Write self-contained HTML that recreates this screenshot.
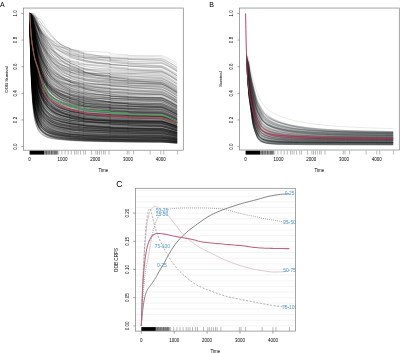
<!DOCTYPE html>
<html><head><meta charset="utf-8"><style>
html,body{margin:0;padding:0;background:#fff;width:400px;height:353px;overflow:hidden}
svg{display:block;will-change:transform}
text{font-family:"Liberation Sans",sans-serif}
</style></head><body>
<svg width="400" height="353" viewBox="0 0 400 353">
<rect width="400" height="353" fill="#fff"/>
<g stroke="#ececec" stroke-width="0.6">
<path d="M136 325.90H295"/>
<path d="M136 320.26H295"/>
<path d="M136 314.62H295"/>
<path d="M136 308.98H295"/>
<path d="M136 303.34H295"/>
<path d="M136 297.70H295"/>
<path d="M136 292.06H295"/>
<path d="M136 286.42H295"/>
<path d="M136 280.78H295"/>
<path d="M136 275.14H295"/>
<path d="M136 269.50H295"/>
<path d="M136 263.86H295"/>
<path d="M136 258.22H295"/>
<path d="M136 252.58H295"/>
<path d="M136 246.94H295"/>
<path d="M136 241.30H295"/>
<path d="M136 235.66H295"/>
<path d="M136 230.02H295"/>
<path d="M136 224.38H295"/>
<path d="M136 218.74H295"/>
<path d="M136 213.10H295"/>
<path d="M136 207.46H295"/>
<path d="M136 201.82H295"/>
<path d="M136 196.18H295"/>
<path d="M136 190.54H295"/>
</g>
<g fill="none" stroke="#000" stroke-width="5.5" stroke-opacity="0.29" transform="scale(.1)">
<path d="M296 134l5 186 5 185 6 190 9 164 8 113 10 94 11 76 12 53 16 50 16 34 23 31 27 24 32 20 36 15 46 12 50 9 49 6 42 4 0 1 23 1 66 4 16 1 33 1 0 1 49 1 82 2 82 2 50 1 32 1 82 1 66 1 16 0 82 1 82 1 82 1 73 1 26 1 33 2 32 3 33 2 33 3"/>
<path d="M296 134l5 187 5 192 6 197 9 170 8 114 10 93 11 72 12 49 16 47 16 31 23 30 27 23 32 19 36 13 46 12 50 8 49 5 42 3 0 1 23 1 66 4 16 1 33 1 0 1 49 1 82 2 82 2 50 1 0 1 32 0 82 2 66 1 16 0 82 1 82 1 82 1 73 0 26 2 33 2 32 2 33 3 33 2"/>
<path d="M296 134l5 221 5 218 6 210 9 168 8 108 10 85 11 65 12 43 16 41 16 27 23 24 27 17 32 14 36 9 46 8 50 5 49 4 42 3 23 1 66 4 16 0 33 2 49 1 82 3 82 1 50 1 0 1 32 0 82 1 66 1 16 1 82 0 82 1 82 0 73 1 26 1 33 2 32 2 33 3 33 2"/>
<path d="M296 134l5 229 5 224 6 211 9 165 8 103 10 80 11 62 12 43 16 41 16 27 23 25 27 18 32 13 36 9 46 8 50 5 49 4 42 3 0 1 23 1 66 3 16 1 33 1 0 1 49 1 82 3 82 1 50 1 32 0 82 1 66 1 16 0 82 0 82 0 82 1 73 0 26 1 33 2 32 2 33 3 33 2"/>
<path d="M296 134l5 186 5 192 6 198 9 170 8 115 10 94 11 72 12 49 16 47 16 31 23 28 27 21 32 18 36 12 46 11 50 8 49 6 42 4 23 2 66 4 16 1 33 2 49 2 82 3 82 2 50 1 32 1 82 1 66 1 16 1 82 1 82 0 82 1 73 1 26 1 33 2 32 3 33 2 33 3"/>
<path d="M296 134l5 143 5 168 6 188 9 175 8 125 10 105 11 85 12 57 16 55 16 36 23 33 27 24 32 20 36 15 46 12 50 10 49 6 42 5 23 2 66 4 0 1 16 1 33 1 49 2 82 2 82 2 50 1 32 0 82 1 66 1 16 0 82 1 82 0 82 1 73 0 26 2 33 2 32 3 33 2 33 3"/>
<path d="M296 134l5 172 5 177 6 185 9 163 8 113 10 94 11 77 12 54 16 54 16 36 23 34 27 25 32 20 36 15 46 13 50 9 49 7 42 5 23 3 66 5 16 1 33 2 0 1 49 3 82 3 82 2 50 1 0 1 32 1 82 1 66 1 16 0 82 1 82 1 82 0 73 1 26 1 33 3 32 3 33 2 33 3"/>
<path d="M296 134l5 193 5 211 6 215 9 178 8 115 10 89 11 66 12 42 16 40 16 27 23 25 27 18 32 15 36 11 46 9 50 6 49 4 42 3 23 1 66 3 16 1 33 1 49 1 82 2 82 2 50 1 0 1 32 0 82 2 66 0 0 1 16 0 82 1 82 0 82 1 73 0 26 2 33 2 32 2 33 3 33 2"/>
<path d="M296 134l5 175 5 184 6 193 9 168 8 114 10 92 11 72 12 50 16 49 16 34 23 33 27 25 32 21 36 16 46 13 50 9 49 6 42 4 0 1 23 1 66 4 16 1 33 1 0 1 49 1 82 3 82 2 50 1 32 1 82 1 66 1 16 1 82 1 82 0 82 1 73 1 26 1 33 3 32 2 33 3 33 3"/>
<path d="M296 134l5 204 5 214 6 211 9 173 8 109 10 86 11 64 12 43 16 41 16 28 23 26 27 19 32 15 36 10 46 8 50 6 49 3 42 2 0 1 23 1 66 3 16 1 33 1 49 2 82 2 82 2 50 1 0 1 32 1 82 1 66 1 16 0 82 1 82 1 82 1 73 0 26 2 33 2 32 2 33 3 33 3"/>
<path d="M296 134l5 167 5 187 6 200 9 176 8 120 10 95 11 72 12 47 16 45 16 31 23 30 27 23 32 20 36 15 46 13 50 9 49 6 42 3 23 2 66 3 0 1 16 0 33 1 0 1 49 1 82 2 82 1 50 1 0 1 32 0 82 1 66 1 16 1 82 1 82 1 82 0 73 1 26 2 33 2 32 3 33 3 33 3"/>
<path d="M296 134l5 139 5 156 6 177 9 168 8 122 10 106 11 85 12 58 16 56 16 38 23 36 27 28 32 23 36 18 46 14 50 11 49 7 42 5 0 1 23 2 66 4 0 1 16 1 33 1 49 2 82 3 82 2 50 2 32 1 82 2 66 1 16 1 82 1 82 1 82 2 73 0 26 2 33 3 32 3 33 3 33 4"/>
<path d="M296 134l5 204 5 205 6 203 9 166 8 106 10 84 11 64 12 45 16 44 16 31 23 29 27 21 32 18 36 12 46 10 50 6 49 5 42 3 23 1 66 4 16 1 33 1 0 1 49 2 82 2 82 2 50 1 0 1 32 0 82 1 66 1 0 1 16 0 82 1 82 0 82 1 73 0 26 2 33 2 32 3 33 3 33 3"/>
<path d="M296 134l5 193 5 197 6 199 9 165 8 108 10 87 11 69 12 49 16 48 16 33 23 30 27 22 32 16 36 11 46 8 50 6 49 4 42 3 0 1 23 1 66 4 16 1 33 2 49 2 82 3 82 2 50 1 0 1 32 1 82 1 66 1 16 0 82 1 82 1 82 0 73 0 26 2 33 3 32 3 33 3 33 3"/>
<path d="M296 134l5 146 5 162 6 179 9 162 8 113 10 94 11 75 12 56 16 58 16 42 23 42 27 33 32 27 36 19 46 15 50 10 49 7 42 4 0 1 23 2 66 4 0 1 16 1 33 2 49 3 82 3 82 4 50 1 32 1 82 3 66 1 16 1 82 1 82 1 82 1 73 1 26 1 33 3 32 3 33 3 33 3"/>
<path d="M296 134l5 212 5 189 6 185 9 157 8 104 10 85 11 65 12 44 16 44 16 30 23 29 27 24 32 20 36 16 46 14 50 10 49 8 42 6 23 2 66 6 16 1 33 2 0 1 49 3 82 3 82 3 50 1 32 1 82 1 66 1 16 0 82 1 82 1 82 1 73 0 26 2 33 3 32 3 33 4 33 3"/>
<path d="M296 134l5 149 5 161 6 176 9 161 8 114 10 98 11 80 12 59 16 59 16 41 23 40 27 29 32 24 36 17 46 14 50 10 49 6 42 4 0 1 23 2 66 5 0 1 16 1 33 2 49 3 82 3 82 3 50 2 32 1 82 2 66 2 16 0 82 2 82 1 82 1 73 0 26 2 33 3 32 3 33 3 33 4"/>
<path d="M296 134l5 191 5 204 6 206 9 170 8 109 10 85 11 65 12 46 16 45 16 31 23 30 27 23 32 18 36 12 46 9 50 5 49 4 42 1 0 1 23 1 66 2 0 1 16 0 33 1 0 1 49 1 82 2 82 2 50 1 0 1 32 0 82 2 66 1 16 0 82 1 82 1 82 1 73 1 26 1 33 3 32 3 33 3 33 3"/>
<path d="M296 134l5 168 5 185 6 198 9 172 8 117 10 95 11 74 12 49 16 47 16 32 23 29 27 22 32 18 36 14 46 11 50 9 49 6 42 4 0 1 23 2 66 4 16 1 33 2 49 2 82 2 82 2 50 0 0 1 32 0 82 1 66 0 0 1 16 0 82 0 82 1 82 0 73 1 26 2 33 2 32 3 33 4 33 3"/>
<path d="M296 134l5 204 5 204 6 200 9 167 8 109 10 88 11 67 12 44 16 42 16 27 23 24 27 18 32 15 36 11 46 11 50 8 49 7 42 4 23 2 66 5 16 1 33 1 0 1 49 2 82 2 82 1 50 0 32 1 82 0 66 0 16 0 82 0 82 1 82 0 73 0 26 2 33 3 32 3 33 4 33 3"/>
<path d="M296 134l5 216 5 197 6 191 9 158 8 104 10 84 11 64 12 44 16 43 16 30 23 28 27 21 32 18 36 14 46 11 50 9 49 6 42 4 0 1 23 1 66 5 16 1 33 2 0 1 49 2 82 2 82 3 50 1 32 1 82 1 66 1 16 1 82 1 82 0 82 1 73 1 26 2 33 3 32 3 33 3 33 4"/>
<path d="M296 134l5 158 5 165 6 178 9 161 8 114 10 94 11 75 12 53 16 53 16 38 23 38 27 30 32 25 36 18 46 15 50 10 49 6 42 4 0 1 23 2 66 4 16 1 33 2 0 1 49 2 82 4 82 3 50 1 32 1 82 3 66 2 16 0 82 2 82 1 82 1 73 1 26 2 33 3 32 4 33 3 33 4"/>
<path d="M296 134l5 192 5 197 6 200 9 167 8 110 10 89 11 68 12 47 16 45 16 29 23 28 27 20 32 17 36 12 46 11 50 8 49 5 42 4 23 1 66 4 0 1 16 0 33 1 0 1 49 1 82 2 82 1 50 0 0 2 32 0 82 0 66 1 16 0 82 1 82 1 82 0 73 1 26 1 33 3 32 4 33 3 33 4"/>
<path d="M296 134l5 181 5 201 6 209 9 175 8 113 10 89 11 66 12 46 16 43 16 29 23 27 27 20 32 17 36 12 46 9 50 7 49 4 42 3 0 1 23 1 66 2 0 1 16 0 33 1 49 1 82 1 82 1 50 1 0 1 32 0 82 1 66 0 16 0 82 1 82 0 82 1 73 0 26 2 33 3 32 3 33 4 33 4"/>
<path d="M296 134l5 122 5 146 6 169 9 165 8 124 10 108 11 90 12 63 16 59 16 40 23 36 27 28 32 24 36 18 46 17 50 13 49 9 42 6 0 1 23 2 66 6 16 1 33 2 0 1 49 2 82 2 82 2 50 1 32 1 82 1 66 0 16 1 82 0 82 1 82 1 73 1 26 2 33 3 32 4 33 4 33 4"/>
<path d="M296 134l5 204 5 191 6 189 9 161 8 107 10 87 11 66 12 45 16 44 16 29 23 28 27 21 32 19 36 13 46 13 50 9 49 6 42 5 23 2 66 5 0 1 16 1 33 1 0 1 49 3 82 3 82 2 50 2 32 1 82 2 66 1 16 0 82 2 82 0 82 1 73 1 26 2 33 3 32 3 33 4 33 4"/>
<path d="M296 134l5 131 5 155 6 179 9 171 8 124 10 104 11 82 12 54 16 52 16 36 23 34 27 27 32 23 36 19 46 16 50 13 49 8 42 6 23 3 66 5 0 1 16 1 33 1 0 1 49 2 82 3 82 2 50 1 0 1 32 1 82 1 66 1 16 1 82 1 82 1 82 0 73 1 26 2 33 4 32 3 33 4 33 4"/>
<path d="M296 134l5 103 5 131 6 161 9 161 8 121 10 106 11 88 12 63 16 65 16 46 23 44 27 35 32 29 36 20 46 17 50 11 49 8 42 4 0 1 23 2 66 5 0 1 16 1 33 2 0 1 49 2 82 4 82 2 50 2 32 1 82 2 66 1 16 1 82 1 82 1 82 1 73 1 26 2 33 4 32 5 33 4 33 5"/>
<path d="M296 134l5 114 5 144 6 173 9 167 8 122 10 105 11 86 12 63 16 63 16 43 23 42 27 31 32 24 36 17 46 14 50 10 49 6 42 5 0 1 23 2 66 5 16 1 33 3 49 3 82 4 82 3 50 2 32 1 82 2 66 2 16 1 82 1 82 1 82 1 73 0 26 2 33 3 32 4 33 3 33 4"/>
<path d="M296 134l5 159 5 174 6 188 9 168 8 116 10 97 11 76 12 52 16 49 16 33 23 31 27 23 32 19 36 14 46 12 50 10 49 7 42 5 0 1 23 2 66 6 0 1 16 1 33 2 49 3 82 3 82 3 50 1 0 1 32 0 82 2 66 1 16 0 82 1 82 1 82 0 73 0 26 2 33 3 32 4 33 4 33 3"/>
<path d="M296 134l5 166 5 175 6 186 9 165 8 114 10 97 11 77 12 52 16 49 16 32 23 29 27 22 32 17 36 14 46 13 50 11 49 8 42 6 0 1 23 3 66 5 0 1 16 2 33 2 49 2 82 2 82 2 50 0 0 1 32 0 82 0 66 1 16 0 82 0 82 0 82 0 73 1 26 2 33 3 32 4 33 4 33 4"/>
<path d="M296 134l5 170 5 181 6 190 9 165 8 111 10 90 11 71 12 51 16 50 16 34 23 33 27 24 32 18 36 13 46 11 50 8 49 6 42 5 23 2 66 5 0 1 16 1 33 2 49 3 82 4 82 3 50 1 0 1 32 1 82 1 66 1 16 0 82 1 82 0 82 0 73 1 26 1 33 4 32 3 33 4 33 4"/>
<path d="M296 134l5 148 5 152 6 165 9 155 8 113 10 101 11 83 12 58 16 56 16 38 23 35 27 28 32 23 36 19 46 18 50 13 49 10 42 6 0 1 23 3 66 6 0 1 16 1 33 2 0 1 49 3 82 2 82 2 50 1 32 1 82 1 66 1 0 1 16 0 82 1 82 1 82 1 73 1 26 2 33 4 32 4 33 5 33 4"/>
<path d="M296 134l5 121 5 146 6 172 9 168 8 125 10 108 11 87 12 58 16 55 16 36 23 35 27 27 32 24 36 19 46 18 50 14 49 9 42 7 23 3 66 6 0 1 16 1 33 1 0 2 49 2 82 2 82 1 50 1 32 1 82 0 66 1 16 0 82 1 82 0 82 1 73 0 26 3 33 3 32 4 33 4 33 5"/>
<path d="M296 134l5 147 5 155 6 171 9 159 8 113 10 98 11 78 12 54 16 54 16 37 23 36 27 29 32 25 36 20 46 18 50 13 49 9 42 6 0 2 23 2 66 5 0 1 16 1 33 2 0 1 49 2 82 2 82 1 50 1 32 1 82 1 66 0 0 1 16 0 82 1 82 1 82 1 73 1 26 2 33 4 32 5 33 4 33 5"/>
<path d="M296 134l5 134 5 144 6 162 9 153 8 113 10 99 11 83 12 59 16 58 16 39 23 37 27 29 32 24 36 18 46 17 50 13 49 10 42 6 0 2 23 2 66 6 0 1 16 2 33 2 49 3 82 3 82 2 50 1 32 1 82 1 66 1 16 1 82 0 82 1 82 1 73 1 26 3 33 5 32 5 33 5 33 6"/>
<path d="M296 134l5 121 5 146 6 171 9 166 8 123 10 106 11 86 12 59 16 57 16 38 23 37 27 27 32 24 36 17 46 15 50 12 49 9 42 5 0 1 23 2 66 6 0 1 16 2 33 2 49 3 82 4 82 3 50 1 0 1 32 1 82 2 66 1 16 0 82 2 82 1 82 0 73 1 26 2 33 4 32 4 33 4 33 4"/>
<path d="M296 134l5 144 5 168 6 184 9 166 8 114 10 96 11 81 12 59 16 58 16 38 23 36 27 25 32 19 36 13 46 10 50 8 49 5 42 4 23 2 66 4 0 1 16 1 33 1 0 1 49 2 82 3 82 2 50 1 32 1 82 1 66 1 16 1 82 0 82 1 82 1 73 0 26 3 33 3 32 4 33 4 33 5"/>
<path d="M296 134l5 145 5 165 6 181 9 164 8 115 10 99 11 81 12 58 16 57 16 37 23 34 27 24 32 19 36 13 46 11 50 9 49 6 42 4 0 1 23 2 66 5 16 1 33 2 49 3 82 3 82 2 50 1 0 1 32 1 82 1 66 1 16 0 82 1 82 1 82 0 73 1 26 2 33 4 32 4 33 5 33 5"/>
<path d="M296 134l5 150 5 181 6 199 9 177 8 121 10 97 11 74 12 48 16 45 16 31 23 29 27 21 32 19 36 13 46 11 50 7 49 5 42 3 23 1 66 2 0 1 16 0 33 1 0 1 49 1 82 1 82 2 50 1 0 1 32 1 82 1 66 1 16 0 82 2 82 1 82 1 73 1 26 2 33 4 32 4 33 4 33 5"/>
<path d="M296 134l5 141 5 163 6 182 9 169 8 120 10 100 11 80 12 54 16 52 16 34 23 33 27 25 32 21 36 16 46 13 50 9 49 7 42 4 23 2 66 4 0 1 16 0 33 2 49 2 82 3 82 3 50 1 32 1 82 1 66 1 0 1 16 0 82 1 82 1 82 1 73 1 26 2 33 4 32 4 33 5 33 4"/>
<path d="M296 134l5 141 5 164 6 182 9 167 8 117 10 97 11 77 12 54 16 53 16 37 23 35 27 27 32 22 36 16 46 14 50 9 49 7 42 4 0 1 23 1 66 4 0 1 16 1 33 2 49 2 82 3 82 2 50 1 0 1 32 1 82 1 66 1 0 1 16 0 82 1 82 1 82 0 73 1 26 2 33 4 32 4 33 4 33 5"/>
<path d="M296 134l5 138 5 145 6 158 9 148 8 107 10 94 11 81 12 62 16 63 16 44 23 42 27 32 32 26 36 19 46 17 50 13 49 9 42 7 0 1 23 3 66 7 0 1 16 1 33 3 49 4 82 4 82 4 50 1 32 1 82 2 66 1 16 1 82 0 82 1 82 1 73 0 26 3 33 4 32 4 33 5 33 5"/>
<path d="M296 134l5 132 5 157 6 179 9 165 8 117 10 99 11 79 12 57 16 56 16 39 23 36 27 28 32 23 36 17 46 15 50 11 49 8 42 5 23 3 66 4 0 1 16 0 33 2 0 1 49 2 82 2 82 1 50 1 32 0 82 1 66 0 16 0 82 1 82 0 82 0 73 0 26 2 33 4 32 5 33 4 33 5"/>
<path d="M296 134l5 146 5 152 6 168 9 160 8 117 10 101 11 80 12 51 16 49 16 33 23 32 27 26 32 24 36 20 46 19 50 14 49 10 42 7 23 3 66 6 0 1 16 1 33 2 0 2 49 2 82 2 82 2 50 1 0 1 32 0 82 1 66 1 0 1 16 0 82 1 82 1 82 1 73 1 26 3 33 4 32 5 33 5 33 5"/>
<path d="M296 134l5 93 5 122 6 154 9 159 8 122 10 109 11 90 12 65 16 67 16 46 23 46 27 35 32 30 36 22 46 18 50 13 49 9 42 6 23 3 66 6 16 1 33 3 0 1 49 2 82 4 82 2 50 2 32 1 82 2 66 1 0 1 16 0 82 1 82 1 82 2 73 0 26 3 33 4 32 5 33 5 33 5"/>
<path d="M296 134l5 156 5 171 6 187 9 167 8 115 10 93 11 70 12 48 16 47 16 32 23 32 27 26 32 22 36 17 46 14 50 10 49 6 42 4 0 1 23 2 66 4 0 1 16 1 33 1 0 1 49 2 82 3 82 2 50 1 0 1 32 1 82 1 66 1 0 1 16 0 82 1 82 1 82 0 73 1 26 2 33 4 32 4 33 5 33 5"/>
<path d="M296 134l5 124 5 144 6 164 9 156 8 113 10 100 11 87 12 64 16 64 16 44 23 40 27 30 32 23 36 16 46 14 50 11 49 9 42 5 0 1 23 2 66 7 0 1 16 1 33 2 0 1 49 3 82 3 82 2 50 1 0 1 32 0 82 1 66 1 16 0 82 0 82 1 82 0 73 0 26 3 33 4 32 5 33 5 33 5"/>
<path d="M296 134l5 110 5 129 6 155 9 154 8 116 10 103 11 86 12 61 16 64 16 44 23 45 27 36 32 32 36 23 46 20 50 14 49 9 42 5 23 3 66 4 0 1 16 1 33 2 0 1 49 2 82 2 82 2 50 1 0 1 32 0 82 2 66 1 16 0 82 2 82 1 82 2 73 1 26 3 33 4 32 5 33 5 33 6"/>
<path d="M296 134l5 136 5 161 6 180 9 165 8 115 10 97 11 79 12 58 16 57 16 39 23 37 27 26 32 20 36 13 46 10 50 8 49 6 42 4 23 2 66 5 0 1 16 1 33 2 49 3 82 4 82 3 50 2 32 1 82 2 66 1 16 0 82 1 82 0 82 0 73 0 26 3 33 4 32 4 33 5 33 5"/>
<path d="M296 134l5 124 5 144 6 167 9 160 8 115 10 100 11 82 12 59 16 60 16 41 23 41 27 31 32 25 36 19 46 16 50 12 49 7 42 5 0 1 23 2 66 4 0 1 16 1 33 2 0 1 49 2 82 3 82 2 50 1 32 0 82 2 66 1 16 0 82 1 82 1 82 1 73 1 26 3 33 4 32 5 33 5 33 5"/>
<path d="M296 134l5 143 5 167 6 184 9 164 8 113 10 91 11 73 12 53 16 53 16 39 23 37 27 28 32 23 36 16 46 12 50 7 49 5 42 4 23 2 66 4 0 1 16 1 33 1 0 1 49 2 82 4 82 2 50 1 0 1 32 1 82 1 66 1 0 1 16 0 82 0 82 1 82 0 73 0 26 2 33 4 32 5 33 4 33 6"/>
<path d="M296 134l5 95 5 129 6 162 9 166 8 126 10 111 11 90 12 62 16 61 16 42 23 40 27 31 32 27 36 19 46 17 50 12 49 9 42 5 0 1 23 2 66 6 16 1 33 2 0 1 49 2 82 3 82 2 50 1 32 1 82 1 66 1 16 1 82 0 82 1 82 1 73 0 26 3 33 4 32 5 33 6 33 5"/>
<path d="M296 134l5 148 5 162 6 177 9 161 8 114 10 95 11 75 12 52 16 51 16 36 23 34 27 27 32 23 36 17 46 15 50 11 49 7 42 4 0 1 23 2 66 4 16 1 33 2 0 1 49 1 82 2 82 2 50 1 0 1 32 1 82 1 66 0 0 1 16 0 82 1 82 1 82 0 73 1 26 3 33 4 32 5 33 5 33 6"/>
<path d="M296 134l5 132 5 143 6 163 9 155 8 116 10 101 11 83 12 57 16 56 16 38 23 37 27 28 32 25 36 19 46 17 50 13 49 9 42 6 0 1 23 2 66 6 0 1 16 1 33 1 0 1 49 2 82 3 82 2 50 1 32 1 82 2 66 1 16 1 82 1 82 1 82 1 73 1 26 3 33 5 32 5 33 6 33 5"/>
<path d="M296 134l5 107 5 136 6 163 9 161 8 118 10 104 11 87 12 64 16 66 16 45 23 43 27 32 32 24 36 16 46 13 50 8 49 6 42 4 23 2 66 6 16 2 33 2 0 1 49 3 82 5 82 4 50 2 0 1 32 2 82 2 66 2 16 0 82 2 82 1 82 1 73 0 26 3 33 4 32 5 33 5 33 5"/>
<path d="M296 134l5 93 5 119 6 148 9 150 8 116 10 106 11 91 12 70 16 72 16 51 23 49 27 36 32 28 36 20 46 16 50 12 49 8 42 6 0 1 23 2 66 7 16 2 33 2 0 1 49 3 82 5 82 3 50 2 0 1 32 1 82 2 66 1 16 0 82 1 82 1 82 1 73 0 26 3 33 5 32 5 33 5 33 6"/>
<path d="M296 134l5 81 5 103 6 129 9 137 8 111 10 107 11 99 12 75 16 77 16 52 23 49 27 36 32 28 36 20 46 17 50 13 49 10 42 6 0 2 23 3 66 6 0 1 16 2 33 2 49 3 82 4 82 2 50 1 0 2 32 1 82 1 66 1 0 1 16 0 82 1 82 1 82 2 73 1 26 4 33 6 32 7 33 8 33 8"/>
<path d="M296 134l5 93 5 110 6 134 9 140 8 115 10 109 11 97 12 72 16 70 16 49 23 46 27 35 32 31 36 24 46 21 50 17 49 11 42 8 0 1 23 3 66 7 16 1 33 3 49 2 82 4 82 3 50 1 32 1 82 2 66 2 0 1 16 0 82 2 82 2 82 2 73 2 26 3 33 6 32 6 33 6 33 6"/>
<path d="M296 134l5 90 5 115 6 146 9 152 8 118 10 108 11 91 12 67 16 69 16 48 23 47 27 37 32 30 36 23 46 19 50 14 49 9 42 6 0 1 23 3 66 5 16 2 33 2 0 1 49 3 82 3 82 3 50 1 0 1 32 1 82 1 66 2 16 1 82 1 82 1 82 1 73 1 26 3 33 5 32 6 33 5 33 6"/>
<path d="M296 134l5 133 5 143 6 161 9 149 8 108 10 93 11 78 12 59 16 61 16 42 23 42 27 31 32 27 36 19 46 16 50 12 49 9 42 5 0 1 23 2 66 6 0 2 16 1 33 2 0 1 49 3 82 4 82 3 50 1 0 1 32 1 82 2 66 1 16 0 82 1 82 1 82 1 73 1 26 3 33 5 32 5 33 6 33 6"/>
<path d="M296 134l5 97 5 131 6 166 9 167 8 126 10 110 11 89 12 62 16 60 16 41 23 39 27 29 32 26 36 19 46 16 50 12 49 7 42 5 23 2 66 4 0 1 16 1 33 1 0 2 49 1 82 2 82 1 50 0 0 2 32 0 82 1 66 1 16 0 82 1 82 0 82 1 73 1 26 3 33 5 32 5 33 6 33 6"/>
<path d="M296 134l5 91 5 120 6 152 9 157 8 123 10 111 11 94 12 67 16 65 16 44 23 42 27 31 32 26 36 20 46 17 50 14 49 10 42 7 0 1 23 3 66 7 0 1 16 1 33 2 0 1 49 2 82 4 82 2 50 1 32 1 82 1 66 1 16 1 82 0 82 1 82 0 73 1 26 3 33 5 32 5 33 6 33 6"/>
<path d="M296 134l5 90 5 109 6 134 9 141 8 113 10 107 11 93 12 68 16 69 16 48 23 46 27 36 32 32 36 25 46 24 50 19 49 14 42 9 0 2 23 4 66 9 0 1 16 2 33 3 0 1 49 4 82 3 82 3 50 0 0 2 32 0 82 1 66 0 0 1 16 0 82 0 82 1 82 0 73 1 26 3 33 5 32 6 33 6 33 6"/>
<path d="M296 134l5 87 5 115 6 146 9 153 8 119 10 110 11 96 12 71 16 71 16 49 23 45 27 32 32 26 36 19 46 16 50 12 49 10 42 6 0 1 23 3 66 7 0 1 16 1 33 3 49 3 82 5 82 3 50 1 0 1 32 0 82 2 66 0 0 1 16 0 82 1 82 0 82 1 73 0 26 3 33 5 32 6 33 6 33 6"/>
<path d="M296 134l5 78 5 110 6 146 9 156 8 124 10 113 11 96 12 67 16 68 16 46 23 45 27 34 32 28 36 21 46 19 50 14 49 10 42 6 0 2 23 3 66 7 16 2 33 3 0 1 49 3 82 5 82 3 50 1 0 2 32 1 82 2 66 1 16 1 82 1 82 1 82 0 73 1 26 3 33 5 32 5 33 6 33 6"/>
<path d="M296 134l5 81 5 101 6 130 9 140 8 113 10 108 11 96 12 72 16 74 16 52 23 51 27 39 32 34 36 26 46 23 50 17 49 11 42 8 0 1 23 3 66 7 0 1 16 1 33 2 0 1 49 3 82 3 82 3 50 1 0 2 32 1 82 2 66 1 16 1 82 1 82 1 82 2 73 1 26 3 33 6 32 6 33 6 33 7"/>
<path d="M296 134l5 83 5 105 6 135 9 144 8 112 10 103 11 87 12 63 16 68 16 50 23 52 27 42 32 37 36 27 46 23 50 17 49 11 42 7 0 1 23 3 66 8 0 1 16 1 33 3 0 2 49 4 82 5 82 4 50 3 0 2 32 1 82 3 66 2 0 1 16 0 82 2 82 2 82 1 73 1 26 3 33 5 32 6 33 6 33 7"/>
<path d="M296 134l5 74 5 103 6 136 9 147 8 117 10 109 11 92 12 65 16 66 16 46 23 44 27 34 32 29 36 23 46 19 50 15 49 10 42 7 0 2 23 2 66 7 16 2 33 2 49 3 82 4 82 3 50 1 0 1 32 1 82 2 66 1 0 2 16 0 82 2 82 1 82 2 73 1 26 4 33 7 32 7 33 8 33 8"/>
<path d="M296 134l5 78 5 106 6 139 9 148 8 118 10 109 11 93 12 69 16 72 16 51 23 50 27 40 32 33 36 24 46 20 50 14 49 9 42 6 23 2 66 6 16 1 33 2 49 3 82 3 82 2 50 1 0 2 32 1 82 2 66 1 0 1 16 1 82 1 82 2 82 1 73 1 26 3 33 6 32 6 33 6 33 7"/>
<path d="M296 134l5 77 5 108 6 144 9 155 8 122 10 110 11 92 12 66 16 69 16 48 23 49 27 38 32 33 36 24 46 20 50 14 49 8 42 5 0 1 23 2 66 4 16 1 33 2 0 1 49 2 82 2 82 1 50 1 0 2 32 0 82 2 66 1 16 0 82 2 82 1 82 1 73 1 26 4 33 5 32 7 33 6 33 7"/>
<path d="M296 134l5 80 5 107 6 138 9 144 8 112 10 102 11 87 12 65 16 67 16 47 23 47 27 37 32 30 36 23 46 19 50 13 49 10 42 5 0 3 23 2 66 6 16 2 33 2 49 3 82 4 82 3 50 2 0 1 32 1 82 2 66 1 16 1 82 1 82 1 82 1 73 1 26 4 33 7 32 7 33 8 33 9"/>
<path d="M296 134l5 104 5 118 6 141 9 142 8 109 10 100 11 83 12 61 16 63 16 45 23 46 27 36 32 32 36 25 46 22 50 17 49 12 42 8 23 4 66 7 0 1 16 1 33 3 0 2 49 3 82 4 82 3 50 2 32 1 82 2 66 1 0 1 16 0 82 1 82 2 82 1 73 1 26 3 33 6 32 7 33 6 33 7"/>
<path d="M296 134l5 83 5 106 6 135 9 143 8 113 10 103 11 88 12 64 16 68 16 49 23 50 27 40 32 35 36 25 46 23 50 17 49 12 42 8 0 1 23 4 66 8 16 2 33 3 0 1 49 4 82 5 82 3 50 2 0 2 32 1 82 2 66 1 0 1 16 0 82 1 82 1 82 0 73 1 26 3 33 6 32 6 33 6 33 7"/>
<path d="M296 134l5 47 5 73 6 105 9 125 8 110 10 111 11 102 12 79 16 82 16 58 23 57 27 43 32 36 36 27 46 23 50 17 49 13 42 8 23 4 66 8 0 1 16 2 33 3 0 2 49 4 82 4 82 3 50 2 32 1 82 2 66 1 16 1 82 1 82 1 82 2 73 1 26 4 33 7 32 9 33 8 33 9"/>
<path d="M296 134l5 89 5 104 6 126 9 130 8 106 10 103 11 95 12 75 16 76 16 54 23 51 27 37 32 31 36 24 46 20 50 16 49 12 42 8 0 2 23 4 66 8 0 1 16 2 33 3 49 4 82 4 82 3 50 2 0 1 32 1 82 2 66 1 16 1 82 1 82 1 82 1 73 2 26 3 33 6 32 7 33 7 33 7"/>
<path d="M296 134l5 88 5 106 6 133 9 142 8 116 10 110 11 96 12 68 16 67 16 46 23 44 27 33 32 29 36 23 46 21 50 16 49 11 42 8 0 2 23 3 66 8 0 1 16 1 33 3 0 2 49 3 82 5 82 3 50 2 0 3 32 1 82 2 66 2 0 1 16 0 82 2 82 2 82 2 73 2 26 3 33 6 32 6 33 7 33 7"/>
<path d="M296 134l5 46 5 68 6 97 9 117 8 103 10 105 11 100 12 78 16 85 16 61 23 61 27 47 32 40 36 29 46 25 50 19 49 13 42 8 0 2 23 4 66 8 0 1 16 1 33 4 0 2 49 4 82 5 82 4 50 2 0 1 32 2 82 2 66 2 0 1 16 0 82 2 82 2 82 1 73 1 26 5 33 8 32 8 33 9 33 9"/>
<path d="M296 134l5 85 5 111 6 141 9 148 8 117 10 109 11 96 12 71 16 72 16 48 23 46 27 33 32 27 36 20 46 17 50 14 49 9 42 7 0 1 23 3 66 7 16 2 33 2 0 2 49 3 82 3 82 2 50 1 0 1 32 0 82 1 66 1 16 0 82 1 82 0 82 1 73 0 26 3 33 6 32 6 33 7 33 7"/>
<path d="M296 134l5 72 5 96 6 125 9 138 8 113 10 107 11 93 12 69 16 71 16 52 23 51 27 40 32 36 36 27 46 25 50 19 49 13 42 9 0 1 23 4 66 10 16 2 33 3 0 1 49 4 82 5 82 4 50 2 0 2 32 1 82 2 66 1 0 1 16 1 82 1 82 1 82 1 73 0 26 4 33 5 32 6 33 7 33 7"/>
<path d="M296 134l5 87 5 119 6 151 9 156 8 120 10 108 11 92 12 67 16 68 16 47 23 44 27 32 32 24 36 17 46 14 50 9 49 8 42 5 23 2 66 6 0 2 16 1 33 3 49 3 82 5 82 3 50 1 0 2 32 1 82 2 66 1 16 1 82 0 82 1 82 1 73 0 26 3 33 6 32 6 33 7 33 6"/>
<path d="M296 134l5 86 5 104 6 131 9 135 8 105 10 95 11 80 12 61 16 67 16 51 23 54 27 45 32 39 36 29 46 24 50 16 49 12 42 8 0 1 23 3 66 8 0 2 16 2 33 3 0 2 49 4 82 7 82 5 50 3 0 3 32 1 82 4 66 2 0 1 16 0 82 3 82 2 82 1 73 2 26 3 33 6 32 6 33 7 33 7"/>
<path d="M296 134l5 52 5 75 6 106 9 124 8 108 10 109 11 98 12 73 16 75 16 53 23 51 27 40 32 33 36 26 46 23 50 18 49 14 42 9 0 3 23 4 66 10 0 2 16 3 33 3 0 3 49 5 82 6 82 4 50 2 0 4 32 1 82 3 66 2 16 0 82 2 82 2 82 1 73 1 26 5 33 8 32 9 33 9 33 9"/>
<path d="M296 134l5 59 5 78 6 106 9 124 8 109 10 110 11 99 12 69 16 70 16 48 23 46 27 35 32 32 36 25 46 25 50 19 49 15 42 10 0 2 23 5 66 10 0 2 16 2 33 3 0 2 49 4 82 6 82 4 50 2 32 1 82 3 66 2 16 1 82 2 82 2 82 2 73 1 26 5 33 9 32 9 33 10 33 10"/>
<path d="M296 134l5 89 5 114 6 142 9 148 8 118 10 109 11 95 12 68 16 67 16 46 23 42 27 31 32 26 36 19 46 17 50 13 49 10 42 7 23 3 66 7 0 1 16 2 33 2 0 2 49 3 82 3 82 3 50 1 32 1 82 1 66 1 0 1 16 0 82 1 82 1 82 1 73 1 26 3 33 6 32 7 33 7 33 7"/>
<path d="M296 134l5 62 5 88 6 121 9 138 8 114 10 108 11 93 12 68 16 72 16 53 23 54 27 44 32 38 36 30 46 26 50 19 49 12 42 9 23 4 66 7 0 1 16 2 33 3 0 1 49 3 82 5 82 4 50 1 0 2 32 1 82 3 66 2 16 0 82 2 82 2 82 1 73 1 26 4 33 6 32 7 33 7 33 7"/>
<path d="M296 134l5 104 5 130 6 156 9 156 8 118 10 104 11 85 12 59 16 59 16 41 23 39 27 29 32 25 36 19 46 15 50 11 49 7 42 5 0 1 23 2 66 5 16 1 33 2 0 1 49 2 82 3 82 3 50 1 0 2 32 0 82 2 66 1 0 1 16 0 82 1 82 2 82 1 73 1 26 4 33 6 32 6 33 8 33 7"/>
<path d="M296 134l5 66 5 88 6 119 9 131 8 108 10 100 11 88 12 68 16 73 16 55 23 58 27 47 32 43 36 33 46 28 50 21 49 13 42 9 23 4 66 7 0 1 16 1 33 3 0 1 49 3 82 4 82 3 50 2 0 2 32 1 82 2 66 1 0 1 16 0 82 2 82 1 82 1 73 1 26 4 33 6 32 7 33 8 33 7"/>
<path d="M296 134l5 85 5 119 6 153 9 158 8 120 10 106 11 88 12 65 16 66 16 46 23 45 27 35 32 28 36 19 46 15 50 9 49 6 42 3 23 2 66 3 0 2 16 1 33 1 0 2 49 2 82 2 82 3 50 1 0 1 32 1 82 2 66 1 0 1 16 1 82 1 82 2 82 1 73 1 26 4 33 6 32 6 33 7 33 7"/>
<path d="M296 134l5 86 5 100 6 122 9 127 8 104 10 101 11 94 12 73 16 76 16 54 23 50 27 37 32 30 36 22 46 19 50 16 49 12 42 9 0 2 23 4 66 10 0 2 16 3 33 3 0 1 49 5 82 7 82 4 50 2 0 2 32 1 82 2 66 1 0 1 16 0 82 1 82 1 82 1 73 1 26 4 33 6 32 7 33 7 33 8"/>
<path d="M296 134l5 93 5 114 6 140 9 142 8 108 10 96 11 84 12 64 16 69 16 52 23 52 27 41 32 34 36 23 46 18 50 11 49 6 42 4 0 2 23 1 66 4 0 2 16 1 33 2 0 1 49 3 82 4 82 4 50 2 0 1 32 1 82 3 66 3 0 1 16 0 82 3 82 2 82 2 73 1 26 4 33 6 32 7 33 7 33 7"/>
<path d="M296 134l5 59 5 77 6 105 9 118 8 102 10 101 11 90 12 67 16 70 16 51 23 51 27 40 32 35 36 27 46 26 50 20 49 15 42 10 0 2 23 4 66 11 0 1 16 2 33 4 0 3 49 5 82 6 82 5 50 2 32 1 82 2 66 1 0 1 16 0 82 2 82 1 82 0 73 1 26 5 33 9 32 10 33 10 33 11"/>
<path d="M296 134l5 42 5 58 6 81 9 95 8 86 10 91 11 93 12 78 16 88 16 66 23 67 27 52 32 42 36 31 46 27 50 21 49 16 42 12 0 1 23 6 66 14 16 3 33 6 0 2 49 7 82 10 82 7 50 3 0 4 32 2 82 3 66 3 0 2 16 0 82 2 82 2 82 1 73 1 26 5 33 8 32 10 33 10 33 10"/>
<path d="M296 134l5 103 5 122 6 146 9 146 8 111 10 100 11 86 12 63 16 64 16 44 23 42 27 31 32 25 36 18 46 16 50 12 49 10 42 6 0 1 23 3 66 7 0 1 16 2 33 3 0 1 49 4 82 5 82 4 50 2 0 1 32 1 82 3 66 1 16 0 82 2 82 1 82 0 73 1 26 4 33 6 32 7 33 7 33 7"/>
<path d="M296 134l5 66 5 90 6 122 9 136 8 112 10 104 11 85 12 57 16 58 16 42 23 44 27 38 32 34 36 27 46 24 50 17 49 10 42 6 0 2 23 3 66 5 16 1 33 1 0 1 49 3 82 3 82 3 50 2 32 2 82 3 66 3 0 1 16 1 82 3 82 3 82 3 73 2 26 6 33 9 32 10 33 10 33 12"/>
<path d="M296 134l5 89 5 116 6 145 9 152 8 120 10 111 11 96 12 68 16 66 16 43 23 38 27 28 32 22 36 17 46 15 50 11 49 9 42 6 0 2 23 3 66 6 0 1 16 1 33 3 49 3 82 3 82 3 50 1 0 2 32 0 82 2 66 1 16 0 82 1 82 1 82 1 73 1 26 4 33 6 32 7 33 7 33 8"/>
<path d="M296 134l5 80 5 109 6 142 9 153 8 122 10 109 11 90 12 61 16 60 16 42 23 41 27 33 32 31 36 24 46 22 50 16 49 10 42 7 0 1 23 2 66 6 0 1 16 1 33 2 0 1 49 2 82 2 82 2 50 1 0 3 32 0 82 2 66 1 0 2 16 0 82 2 82 1 82 2 73 1 26 4 33 7 32 7 33 7 33 8"/>
<path d="M296 134l5 66 5 103 6 141 9 154 8 122 10 110 11 93 12 69 16 72 16 51 23 50 27 38 32 29 36 20 46 13 50 8 49 5 42 3 23 2 66 3 0 2 16 1 33 2 0 1 49 3 82 4 82 4 50 3 0 1 32 2 82 3 66 3 16 1 82 2 82 2 82 2 73 1 26 4 33 6 32 7 33 7 33 7"/>
<path d="M296 134l5 90 5 119 6 150 9 156 8 119 10 107 11 87 12 60 16 59 16 41 23 39 27 31 32 28 36 22 46 19 50 14 49 9 42 6 0 1 23 2 66 4 0 1 16 1 33 1 0 2 49 1 82 1 82 0 50 1 32 0 82 1 66 1 16 1 82 1 82 1 82 2 73 1 26 4 33 7 32 7 33 8 33 9"/>
<path d="M296 134l5 69 5 93 6 121 9 132 8 109 10 105 11 97 12 75 16 79 16 55 23 54 27 40 32 33 36 24 46 20 50 14 49 10 42 7 23 4 66 7 0 1 16 1 33 3 0 2 49 3 82 4 82 3 50 1 0 3 32 0 82 2 66 2 16 0 82 1 82 2 82 1 73 1 26 4 33 7 32 7 33 8 33 8"/>
<path d="M296 134l5 51 5 75 6 104 9 120 8 102 10 100 11 96 12 80 16 87 16 65 23 66 27 51 32 41 36 30 46 25 50 17 49 13 42 8 0 2 23 4 66 9 16 2 33 4 0 1 49 4 82 6 82 4 50 3 32 1 82 2 66 2 0 1 16 0 82 1 82 1 82 1 73 1 26 3 33 7 32 7 33 7 33 8"/>
<path d="M296 134l5 79 5 96 6 119 9 126 8 100 10 94 11 84 12 67 16 72 16 54 23 55 27 43 32 35 36 26 46 21 50 17 49 13 42 10 0 1 23 5 66 11 0 2 16 3 33 5 0 1 49 6 82 9 82 7 50 3 0 2 32 2 82 3 66 2 0 1 16 0 82 2 82 1 82 1 73 0 26 4 33 6 32 7 33 8 33 8"/>
<path d="M296 134l5 69 5 92 6 122 9 131 8 107 10 100 11 92 12 71 16 78 16 57 23 57 27 43 32 35 36 24 46 20 50 14 49 10 42 7 0 1 23 4 66 7 0 2 16 2 33 3 0 1 49 4 82 5 82 4 50 2 32 2 82 2 66 1 0 1 16 0 82 1 82 1 82 0 73 0 26 4 33 7 32 7 33 8 33 9"/>
<path d="M296 134l5 40 5 60 6 87 9 109 8 100 10 108 11 105 12 82 16 86 16 59 23 56 27 41 32 32 36 24 46 20 50 16 49 12 42 9 0 3 23 4 66 9 0 1 16 2 33 4 0 2 49 4 82 6 82 3 50 2 0 1 32 1 82 2 66 2 0 1 16 0 82 2 82 1 82 1 73 2 26 6 33 9 32 10 33 12 33 11"/>
<path d="M296 134l5 70 5 94 6 124 9 133 8 108 10 100 11 87 12 66 16 72 16 52 23 55 27 43 32 37 36 26 46 23 50 15 49 10 42 7 0 2 23 3 66 7 16 2 33 3 0 1 49 3 82 6 82 4 50 2 0 3 32 1 82 3 66 2 0 1 16 0 82 2 82 2 82 2 73 1 26 4 33 7 32 7 33 9 33 8"/>
<path d="M296 134l5 80 5 108 6 137 9 144 8 114 10 103 11 90 12 67 16 69 16 47 23 46 27 35 32 28 36 21 46 18 50 14 49 10 42 6 0 2 23 3 66 7 0 1 16 1 33 3 0 1 49 3 82 5 82 3 50 1 0 3 32 1 82 2 66 1 16 0 82 1 82 1 82 1 73 1 26 4 33 6 32 8 33 7 33 8"/>
<path d="M296 134l5 63 5 85 6 115 9 129 8 107 10 103 11 93 12 71 16 76 16 55 23 56 27 44 32 37 36 28 46 24 50 17 49 11 42 8 0 1 23 3 66 8 0 2 16 1 33 3 49 4 82 5 82 4 50 1 0 2 32 1 82 2 66 2 0 1 16 0 82 2 82 2 82 1 73 1 26 4 33 8 32 7 33 9 33 8"/>
<path d="M296 134l5 60 5 88 6 123 9 139 8 114 10 106 11 91 12 67 16 71 16 52 23 52 27 41 32 36 36 28 46 23 50 17 49 13 42 7 0 3 23 3 66 8 0 1 16 2 33 3 0 1 49 3 82 5 82 3 50 2 0 1 32 1 82 2 66 1 16 0 82 2 82 1 82 1 73 1 26 4 33 7 32 7 33 8 33 9"/>
<path d="M296 134l5 64 5 95 6 130 9 144 8 116 10 108 11 92 12 67 16 70 16 50 23 50 27 40 32 33 36 24 46 20 50 13 49 9 42 5 0 1 23 3 66 5 0 2 16 1 33 2 0 2 49 2 82 4 82 4 50 1 0 3 32 1 82 2 66 2 0 1 16 1 82 2 82 1 82 2 73 1 26 4 33 7 32 8 33 8 33 8"/>
<path d="M296 134l5 67 5 89 6 117 9 127 8 105 10 102 11 92 12 73 16 76 16 55 23 55 27 42 32 37 36 26 46 23 50 17 49 12 42 7 0 3 23 3 66 8 0 2 16 1 33 3 0 1 49 4 82 5 82 3 50 2 0 3 32 1 82 3 66 1 0 1 16 1 82 2 82 1 82 2 73 1 26 4 33 7 32 8 33 8 33 8"/>
<path d="M296 134l5 69 5 84 6 106 9 113 8 93 10 91 11 90 12 76 16 86 16 64 23 63 27 47 32 38 36 25 46 21 50 15 49 11 42 8 0 1 23 4 66 9 0 2 16 2 33 4 0 2 49 5 82 7 82 6 50 3 0 2 32 2 82 3 66 2 16 1 82 2 82 2 82 2 73 1 26 5 33 7 32 8 33 9 33 9"/>
<path d="M296 134l5 62 5 80 6 105 9 117 8 99 10 97 11 91 12 71 16 78 16 57 23 59 27 48 32 41 36 31 46 27 50 20 49 13 42 9 0 2 23 4 66 9 0 1 16 2 33 3 0 2 49 4 82 5 82 4 50 2 0 2 32 1 82 3 66 2 16 0 82 2 82 2 82 2 73 1 26 5 33 7 32 9 33 8 33 10"/>
<path d="M296 134l5 72 5 98 6 128 9 138 8 111 10 103 11 87 12 64 16 66 16 49 23 50 27 40 32 35 36 27 46 22 50 16 49 10 42 7 23 2 66 6 16 2 33 2 0 1 49 3 82 4 82 3 50 2 0 2 32 1 82 3 66 1 0 2 16 0 82 2 82 1 82 1 73 1 26 5 33 7 32 8 33 8 33 9"/>
<path d="M296 134l5 61 5 82 6 108 9 122 8 103 10 100 11 93 12 72 16 78 16 57 23 58 27 46 32 39 36 28 46 23 50 16 49 11 42 7 0 1 23 3 66 7 0 3 16 1 33 3 49 4 82 6 82 4 50 3 0 3 32 2 82 3 66 3 0 2 16 0 82 3 82 3 82 2 73 2 26 5 33 7 32 8 33 9 33 9"/>
<path d="M296 134l5 73 5 93 6 118 9 125 8 101 10 97 11 93 12 76 16 81 16 58 23 56 27 42 32 33 36 23 46 19 50 14 49 9 42 7 0 3 23 3 66 7 0 2 16 1 33 3 49 3 82 5 82 3 50 2 0 2 32 1 82 2 66 2 0 1 16 0 82 1 82 2 82 1 73 1 26 4 33 7 32 8 33 9 33 9"/>
<path d="M296 134l5 65 5 99 6 136 9 151 8 123 10 114 11 98 12 69 16 68 16 46 23 44 27 31 32 26 36 18 46 15 50 11 49 8 42 5 0 2 23 2 66 6 16 1 33 2 0 3 49 2 82 4 82 4 50 1 0 1 32 1 82 2 66 2 0 1 16 0 82 2 82 1 82 1 73 1 26 4 33 7 32 8 33 8 33 9"/>
<path d="M296 134l5 46 5 67 6 95 9 112 8 97 10 96 11 85 12 62 16 67 16 50 23 51 27 43 32 39 36 32 46 29 50 22 49 16 42 11 23 4 66 11 0 4 16 2 33 4 0 3 49 5 82 6 82 4 50 2 0 4 32 1 82 2 66 1 0 1 16 1 82 1 82 1 82 1 73 0 26 6 33 10 32 11 33 12 33 12"/>
<path d="M296 134l5 88 5 108 6 135 9 138 8 108 10 100 11 85 12 63 16 64 16 44 23 44 27 33 32 28 36 23 46 21 50 16 49 13 42 8 0 2 23 4 66 8 0 1 16 2 33 3 0 1 49 3 82 4 82 2 50 0 0 1 32 1 82 0 66 0 0 1 16 0 82 0 82 0 82 0 73 0 26 5 33 7 32 8 33 9 33 9"/>
<path d="M296 134l5 54 5 74 6 101 9 115 8 101 10 102 11 96 12 75 16 81 16 58 23 58 27 44 32 38 36 28 46 26 50 21 49 15 42 11 0 2 23 5 66 11 0 2 16 2 33 4 0 3 49 5 82 6 82 3 50 1 0 2 32 1 82 1 66 1 16 0 82 1 82 0 82 0 73 0 26 5 33 8 32 8 33 9 33 9"/>
<path d="M296 134l5 76 5 99 6 128 9 135 8 107 10 98 11 82 12 63 16 66 16 50 23 51 27 41 32 35 36 25 46 21 50 15 49 9 42 7 0 1 23 3 66 6 0 3 16 1 33 3 0 2 49 4 82 5 82 5 50 2 0 4 32 1 82 4 66 2 0 1 16 1 82 2 82 2 82 1 73 1 26 5 33 7 32 8 33 8 33 9"/>
<path d="M296 134l5 58 5 89 6 123 9 137 8 113 10 108 11 97 12 76 16 79 16 56 23 53 27 39 32 29 36 18 46 15 50 10 49 8 42 5 0 1 23 3 66 7 16 2 33 3 0 1 49 4 82 6 82 5 50 2 0 3 32 2 82 2 66 2 0 1 16 0 82 1 82 1 82 1 73 0 26 5 33 6 32 8 33 9 33 8"/>
<path d="M296 134l5 88 5 106 6 132 9 136 8 108 10 99 11 85 12 61 16 63 16 45 23 43 27 33 32 28 36 21 46 19 50 16 49 11 42 8 0 3 23 3 66 9 16 2 33 4 0 2 49 4 82 5 82 4 50 1 0 3 32 1 82 2 66 1 0 1 16 0 82 1 82 1 82 1 73 1 26 4 33 8 32 8 33 9 33 9"/>
<path d="M296 134l5 51 5 71 6 98 9 115 8 99 10 99 11 92 12 74 16 82 16 60 23 62 27 48 32 40 36 30 46 24 50 17 49 13 42 9 0 1 23 4 66 10 0 2 16 3 33 4 49 6 82 9 82 7 50 3 0 2 32 2 82 4 66 4 16 1 82 3 82 2 82 2 73 2 26 4 33 8 32 8 33 9 33 9"/>
<path d="M296 134l5 56 5 78 6 108 9 121 8 103 10 99 11 91 12 72 16 77 16 58 23 58 27 46 32 38 36 29 46 24 50 18 49 13 42 8 0 1 23 3 66 9 0 2 16 2 33 3 0 1 49 4 82 6 82 5 50 2 0 2 32 1 82 3 66 2 0 1 16 0 82 2 82 1 82 1 73 1 26 5 33 7 32 9 33 9 33 9"/>
<path d="M296 134l5 58 5 82 6 111 9 124 8 102 10 95 11 82 12 66 16 73 16 56 23 61 27 50 32 45 36 34 46 27 50 19 49 12 42 7 0 1 23 3 66 7 0 1 16 2 33 2 0 3 49 4 82 4 82 5 50 2 0 2 32 1 82 3 66 2 0 1 16 1 82 2 82 1 82 2 73 0 26 5 33 7 32 8 33 9 33 9"/>
<path d="M296 134l5 51 5 73 6 101 9 117 8 101 10 100 11 93 12 74 16 80 16 59 23 59 27 46 32 38 36 29 46 25 50 20 49 15 42 10 0 1 23 5 66 11 0 2 16 2 33 5 0 2 49 5 82 8 82 5 50 2 0 1 32 1 82 3 66 1 0 1 16 0 82 1 82 1 82 0 73 1 26 4 33 7 32 9 33 8 33 10"/>
<path d="M296 134l5 67 5 90 6 118 9 128 8 104 10 100 11 93 12 74 16 78 16 56 23 53 27 39 32 30 36 21 46 16 50 13 49 10 42 7 0 1 23 4 66 9 0 3 16 2 33 4 0 2 49 5 82 7 82 6 50 3 0 3 32 1 82 3 66 2 0 2 16 0 82 1 82 1 82 1 73 0 26 4 33 7 32 8 33 9 33 8"/>
<path d="M296 134l5 77 5 95 6 119 9 125 8 101 10 96 11 88 12 68 16 72 16 51 23 50 27 39 32 32 36 24 46 20 50 16 49 12 42 9 0 1 23 4 66 9 0 1 16 2 33 3 0 2 49 5 82 5 82 4 50 2 0 2 32 1 82 2 66 1 0 2 16 0 82 1 82 1 82 1 73 0 26 5 33 7 32 9 33 9 33 10"/>
<path d="M296 134l5 47 5 67 6 94 9 111 8 100 10 103 11 96 12 74 16 79 16 57 23 56 27 44 32 39 36 30 46 29 50 23 49 18 42 13 0 2 23 5 66 13 16 3 33 5 0 3 49 5 82 7 82 4 50 1 32 1 82 2 66 1 16 0 82 1 82 0 82 1 73 0 26 5 33 8 32 9 33 10 33 10"/>
<path d="M296 134l5 57 5 87 6 120 9 136 8 112 10 103 11 89 12 66 16 70 16 52 23 53 27 42 32 35 36 25 46 20 50 14 49 9 42 6 0 2 23 3 66 6 0 1 16 1 33 3 0 1 49 4 82 6 82 5 50 3 0 2 32 2 82 3 66 2 0 2 16 0 82 3 82 1 82 1 73 1 26 5 33 7 32 8 33 9 33 10"/>
<path d="M296 134l5 63 5 88 6 120 9 133 8 110 10 106 11 96 12 73 16 76 16 52 23 49 27 36 32 28 36 20 46 17 50 13 49 10 42 7 0 2 23 4 66 8 16 2 33 3 0 1 49 4 82 5 82 3 50 1 0 1 32 1 82 1 66 1 16 0 82 1 82 0 82 1 73 0 26 5 33 8 32 8 33 10 33 10"/>
<path d="M296 134l5 48 5 68 6 97 9 114 8 101 10 103 11 96 12 76 16 81 16 59 23 60 27 46 32 39 36 28 46 24 50 17 49 13 42 8 23 3 66 9 0 2 16 2 33 3 0 1 49 4 82 6 82 4 50 3 0 2 32 2 82 3 66 2 0 1 16 0 82 3 82 2 82 2 73 1 26 5 33 9 32 9 33 10 33 10"/>
<path d="M296 134l5 44 5 62 6 86 9 103 8 91 10 92 11 87 12 69 16 79 16 61 23 65 27 56 32 50 36 37 46 33 50 22 49 14 42 10 0 2 23 4 66 9 0 1 16 2 33 4 0 1 49 4 82 7 82 6 50 3 0 1 32 2 82 4 66 4 16 1 82 4 82 4 82 3 73 2 26 5 33 9 32 10 33 10 33 11"/>
<path d="M296 134l5 54 5 77 6 107 9 121 8 104 10 103 11 96 12 76 16 80 16 58 23 56 27 42 32 34 36 23 46 19 50 14 49 10 42 7 0 1 23 3 66 8 0 2 16 2 33 4 0 1 49 5 82 6 82 5 50 2 0 4 32 1 82 3 66 2 16 1 82 1 82 2 82 1 73 0 26 5 33 8 32 9 33 10 33 10"/>
<path d="M296 134l5 53 5 74 6 102 9 118 8 102 10 100 11 91 12 70 16 75 16 55 23 56 27 44 32 39 36 30 46 26 50 20 49 14 42 9 0 1 23 4 66 10 0 1 16 2 33 3 0 2 49 5 82 5 82 4 50 2 0 1 32 1 82 2 66 2 0 1 16 0 82 1 82 2 82 0 73 1 26 5 33 9 32 9 33 10 33 10"/>
<path d="M296 134l5 61 5 88 6 120 9 137 8 113 10 106 11 88 12 63 16 62 16 45 23 45 27 37 32 34 36 28 46 26 50 20 49 14 42 8 0 2 23 3 66 7 0 1 16 1 33 2 0 3 49 2 82 3 82 1 50 1 0 1 32 0 82 1 66 1 16 1 82 1 82 1 82 1 73 1 26 5 33 9 32 9 33 10 33 10"/>
<path d="M296 134l5 49 5 67 6 95 9 112 8 96 10 95 11 84 12 63 16 70 16 54 23 58 27 49 32 45 36 36 46 32 50 24 49 17 42 11 23 5 66 12 0 1 16 2 33 5 0 2 49 6 82 8 82 7 50 4 0 3 32 2 82 4 66 3 0 2 16 1 82 3 82 2 82 2 73 1 26 6 33 8 32 9 33 10 33 10"/>
<path d="M296 134l5 44 5 64 6 91 9 113 8 102 10 104 11 93 12 68 16 71 16 51 23 53 27 46 32 43 36 35 46 33 50 25 49 17 42 10 0 3 23 4 66 10 0 2 16 2 33 3 0 3 49 4 82 4 82 4 50 2 0 2 32 1 82 4 66 2 0 2 16 1 82 3 82 3 82 3 73 2 26 6 33 9 32 10 33 10 33 11"/>
<path d="M296 134l5 52 5 71 6 96 9 110 8 96 10 95 11 92 12 76 16 82 16 61 23 61 27 49 32 41 36 30 46 25 50 18 49 12 42 7 0 1 23 4 66 7 0 2 16 2 33 3 0 1 49 3 82 5 82 4 50 2 0 1 32 1 82 3 66 2 16 1 82 2 82 2 82 1 73 2 26 5 33 9 32 9 33 11 33 10"/>
<path d="M296 134l5 49 5 65 6 87 9 100 8 88 10 91 11 87 12 71 16 78 16 60 23 62 27 49 32 44 36 33 46 31 50 23 49 17 42 11 0 1 23 6 66 12 0 1 16 3 33 4 0 3 49 6 82 6 82 5 50 2 32 2 82 2 66 2 0 1 16 0 82 2 82 2 82 1 73 1 26 6 33 9 32 10 33 11 33 12"/>
<path d="M296 134l5 39 5 65 6 99 9 123 8 110 10 110 11 100 12 74 16 79 16 56 23 56 27 44 32 38 36 29 46 25 50 17 49 12 42 8 0 2 23 4 66 6 0 1 16 1 33 2 0 3 49 2 82 3 82 1 50 1 0 1 32 0 82 1 66 1 0 1 16 0 82 1 82 1 82 1 73 1 26 5 33 9 32 10 33 10 33 11"/>
<path d="M296 134l5 52 5 75 6 105 9 121 8 102 10 98 11 86 12 65 16 70 16 54 23 55 27 46 32 41 36 30 46 27 50 18 49 13 42 8 0 1 23 4 66 8 0 2 16 1 33 3 0 2 49 4 82 6 82 4 50 3 0 3 32 1 82 4 66 2 0 2 16 1 82 2 82 2 82 2 73 2 26 5 33 9 32 9 33 10 33 11"/>
<path d="M296 134l5 33 5 50 6 76 9 97 8 90 10 97 11 96 12 79 16 89 16 67 23 68 27 53 32 44 36 32 46 27 50 20 49 15 42 10 0 3 23 5 66 11 0 2 16 2 33 5 0 4 49 6 82 8 82 7 50 4 0 1 32 2 82 4 66 3 0 1 16 1 82 3 82 2 82 2 73 1 26 6 33 8 32 10 33 10 33 11"/>
<path d="M296 134l5 53 5 73 6 99 9 111 8 93 10 90 11 84 12 69 16 79 16 61 23 62 27 50 32 41 36 29 46 24 50 15 49 12 42 7 0 3 23 3 66 9 16 2 33 4 0 3 49 5 82 8 82 6 50 4 0 3 32 2 82 5 66 2 0 1 16 1 82 3 82 2 82 2 73 1 26 6 33 8 32 10 33 10 33 11"/>
<path d="M296 134l5 53 5 71 6 97 9 113 8 99 10 101 11 93 12 71 16 73 16 53 23 53 27 41 32 38 36 31 46 29 50 22 49 17 42 10 0 1 23 4 66 9 16 2 33 3 49 3 82 2 82 1 50 0 0 2 32 0 82 1 66 0 0 2 16 0 82 1 82 1 82 1 73 1 26 6 33 10 32 11 33 11 33 12"/>
<path d="M296 134l5 36 5 54 6 80 9 100 8 94 10 100 11 97 12 75 16 81 16 59 23 59 27 47 32 43 36 33 46 32 50 25 49 18 42 12 0 1 23 5 66 13 0 3 16 3 33 4 0 1 49 5 82 7 82 5 50 2 0 4 32 1 82 3 66 1 0 1 16 1 82 2 82 2 82 1 73 1 26 6 33 9 32 10 33 11 33 11"/>
<path d="M296 134l5 40 5 58 6 83 9 102 8 94 10 98 11 93 12 72 16 77 16 56 23 59 27 48 32 44 36 36 46 33 50 25 49 18 42 11 0 4 23 4 66 11 0 2 16 2 33 4 49 5 82 5 82 4 50 2 0 1 32 1 82 3 66 2 0 1 16 1 82 2 82 3 82 2 73 2 26 6 33 10 32 10 33 11 33 12"/>
<path d="M296 134l5 36 5 55 6 81 9 101 8 91 10 94 11 91 12 73 16 82 16 63 23 65 27 54 32 47 36 35 46 32 50 23 49 17 42 10 0 1 23 5 66 11 0 1 16 2 33 4 0 3 49 4 82 7 82 4 50 2 0 1 32 1 82 2 66 2 0 1 16 0 82 2 82 1 82 1 73 1 26 5 33 10 32 10 33 10 33 12"/>
<path d="M296 134l5 29 5 47 6 73 9 93 8 88 10 95 11 95 12 78 16 89 16 69 23 71 27 57 32 48 36 35 46 29 50 20 49 15 42 9 23 5 66 10 16 3 33 4 0 3 49 5 82 8 82 6 50 3 0 1 32 2 82 4 66 3 0 2 16 0 82 3 82 2 82 2 73 1 26 6 33 9 32 10 33 11 33 11"/>
<path d="M296 134l5 38 5 65 6 101 9 124 8 112 10 111 11 97 12 70 16 73 16 53 23 53 27 44 32 38 36 30 46 25 50 16 49 10 42 6 0 2 23 2 66 5 0 1 16 1 33 1 0 4 49 2 82 3 82 4 50 2 0 3 32 1 82 4 66 3 0 2 16 1 82 3 82 3 82 3 73 3 26 6 33 9 32 10 33 10 33 11"/>
<path d="M296 134l5 55 5 79 6 108 9 120 8 99 10 92 11 83 12 67 16 76 16 58 23 60 27 49 32 41 36 29 46 23 50 14 49 9 42 4 0 2 23 2 66 5 0 2 16 1 33 2 0 3 49 2 82 3 82 3 50 2 0 1 32 1 82 3 66 2 0 1 16 1 82 2 82 1 82 2 73 1 26 5 33 9 32 10 33 11 33 11"/>
<path d="M296 134l5 32 5 51 6 79 9 102 8 96 10 100 11 95 12 74 16 81 16 60 23 62 27 53 32 50 36 40 46 36 50 27 49 17 42 10 0 2 23 4 66 8 0 2 16 1 33 2 0 3 49 1 82 1 82 0 50 0 0 1 32 0 82 1 66 0 0 2 16 0 82 2 82 1 82 2 73 2 26 6 33 9 32 11 33 12 33 11"/>
<path d="M296 134l5 28 5 48 6 75 9 96 8 88 10 94 11 90 12 73 16 84 16 65 23 69 27 57 32 49 36 37 46 32 50 24 49 17 42 11 0 2 23 5 66 13 16 3 33 4 0 3 49 6 82 8 82 6 50 2 0 4 32 1 82 3 66 2 16 1 82 1 82 1 82 0 73 0 26 5 33 9 32 10 33 11 33 11"/>
<path d="M296 134l5 36 5 52 6 76 9 97 8 90 10 93 11 87 12 66 16 73 16 55 23 61 27 53 32 50 36 43 46 38 50 29 49 20 42 12 0 1 23 5 66 11 16 2 33 4 0 1 49 4 82 6 82 4 50 3 0 3 32 2 82 4 66 3 16 1 82 3 82 4 82 3 73 2 26 7 33 10 32 11 33 11 33 12"/>
<path d="M296 134l5 36 5 53 6 76 9 91 8 81 10 82 11 83 12 74 16 88 16 70 23 75 27 63 32 54 36 39 46 32 50 21 49 14 42 9 0 2 23 3 66 9 0 2 16 2 33 3 0 2 49 4 82 5 82 5 50 2 0 4 32 1 82 3 66 2 0 1 16 1 82 2 82 2 82 1 73 2 26 6 33 9 32 11 33 11 33 11"/>
<path d="M296 134l5 39 5 54 6 76 9 90 8 81 10 85 11 86 12 74 16 87 16 67 23 69 27 55 32 45 36 34 46 29 50 22 49 17 42 12 0 3 23 6 66 13 0 2 16 3 33 5 0 1 49 6 82 9 82 7 50 3 0 4 32 1 82 3 66 2 0 1 16 1 82 1 82 1 82 1 73 1 26 6 33 9 32 10 33 11 33 12"/>
<path d="M296 134l5 37 5 52 6 74 9 94 8 90 10 97 11 96 12 73 16 77 16 55 23 55 27 44 32 41 36 34 46 34 50 28 49 21 42 15 0 3 23 7 66 15 16 3 33 6 0 2 49 6 82 8 82 6 50 2 0 1 32 1 82 4 66 2 16 1 82 2 82 3 82 2 73 2 26 6 33 10 32 11 33 11 33 12"/>
<path d="M296 134l5 45 5 56 6 76 9 88 8 79 10 81 11 80 12 68 16 78 16 62 23 67 27 56 32 51 36 38 46 32 50 23 49 16 42 10 0 3 23 4 66 11 16 2 33 4 0 2 49 5 82 7 82 7 50 3 0 1 32 2 82 5 66 4 0 1 16 1 82 4 82 4 82 4 73 3 26 6 33 11 32 12 33 12 33 13"/>
<path d="M296 134l5 40 5 58 6 84 9 101 8 91 10 95 11 93 12 75 16 83 16 62 23 62 27 50 32 42 36 31 46 27 50 19 49 13 42 9 0 3 23 4 66 9 0 1 16 2 33 4 0 2 49 4 82 6 82 5 50 3 32 2 82 4 66 2 0 2 16 0 82 3 82 2 82 2 73 2 26 6 33 9 32 11 33 11 33 12"/>
<path d="M296 134l5 29 5 47 6 71 9 93 8 91 10 100 11 100 12 79 16 86 16 63 23 62 27 50 32 43 36 35 46 32 50 25 49 18 42 11 0 4 23 5 66 11 16 2 33 4 49 5 82 5 82 3 50 1 0 3 32 1 82 2 66 1 0 1 16 0 82 2 82 1 82 2 73 1 26 6 33 10 32 11 33 12 33 12"/>
<path d="M296 134l5 33 5 48 6 70 9 86 8 81 10 89 11 95 12 81 16 93 16 69 23 69 27 53 32 44 36 32 46 29 50 22 49 18 42 12 0 3 23 5 66 14 0 1 16 3 33 5 0 3 49 6 82 8 82 6 50 2 0 3 32 1 82 2 66 2 16 0 82 1 82 1 82 0 73 1 26 5 33 10 32 10 33 11 33 12"/>
<path d="M296 134l5 36 5 51 6 74 9 91 8 84 10 89 11 87 12 72 16 81 16 62 23 66 27 55 32 48 36 37 46 31 50 23 49 17 42 10 0 1 23 5 66 11 0 3 16 2 33 4 0 3 49 6 82 7 82 6 50 3 32 2 82 4 66 3 0 1 16 1 82 3 82 2 82 2 73 2 26 6 33 10 32 11 33 12 33 12"/>
<path d="M296 134l5 28 5 45 6 71 9 95 8 92 10 100 11 94 12 71 16 77 16 57 23 58 27 49 32 46 36 39 46 37 50 29 49 21 42 14 0 2 23 6 66 13 0 1 16 2 33 5 0 1 49 5 82 7 82 4 50 2 0 2 32 1 82 3 66 1 0 1 16 0 82 2 82 2 82 2 73 1 26 6 33 10 32 11 33 12 33 12"/>
<path d="M296 134l5 40 5 61 6 88 9 108 8 97 10 101 11 97 12 78 16 83 16 60 23 59 27 45 32 38 36 27 46 23 50 16 49 12 42 7 0 3 23 3 66 7 0 3 16 2 33 2 0 2 49 3 82 5 82 3 50 2 0 3 32 1 82 2 66 2 0 2 16 0 82 2 82 2 82 2 73 2 26 6 33 10 32 10 33 12 33 12"/>
<path d="M296 134l5 37 5 59 6 88 9 107 8 93 10 95 11 90 12 75 16 85 16 66 23 66 27 51 32 41 36 27 46 21 50 13 49 10 42 6 0 2 23 3 66 8 0 3 16 2 33 4 49 6 82 8 82 7 50 4 0 2 32 2 82 5 66 3 16 1 82 2 82 2 82 2 73 0 26 6 33 9 32 10 33 11 33 12"/>
<path d="M296 134l5 37 5 57 6 83 9 100 8 92 10 95 11 96 12 81 16 87 16 65 23 64 27 49 32 42 36 30 46 26 50 19 49 12 42 9 0 1 23 4 66 8 0 2 16 2 33 2 0 2 49 4 82 4 82 2 50 2 32 1 82 2 66 1 0 1 16 0 82 1 82 2 82 1 73 1 26 6 33 10 32 10 33 12 33 12"/>
<path d="M296 134l5 31 5 47 6 70 9 86 8 80 10 84 11 83 12 72 16 85 16 68 23 72 27 60 32 53 36 41 46 35 50 25 49 18 42 11 23 5 66 11 0 1 16 3 33 4 49 5 82 6 82 5 50 2 0 3 32 2 82 2 66 2 16 1 82 2 82 1 82 1 73 2 26 6 33 10 32 11 33 12 33 13"/>
<path d="M296 134l5 26 5 37 6 57 9 74 8 74 10 85 11 94 12 84 16 94 16 72 23 73 27 59 32 52 36 41 46 37 50 29 49 21 42 14 23 6 66 13 0 1 16 3 33 4 0 3 49 4 82 5 82 3 50 1 0 2 32 0 82 1 66 1 0 2 16 0 82 1 82 2 82 1 73 2 26 6 33 10 32 12 33 12 33 13"/>
<path d="M296 134l5 45 5 60 6 81 9 94 8 85 10 90 11 92 12 78 16 84 16 61 23 59 27 45 32 36 36 27 46 25 50 21 49 18 42 13 0 2 23 6 66 15 16 3 33 6 0 3 49 7 82 8 82 5 50 3 32 1 82 2 66 1 0 1 16 0 82 1 82 1 82 1 73 1 26 6 33 10 32 11 33 11 33 13"/>
<path d="M296 134l5 45 5 67 6 98 9 117 8 101 10 99 11 88 12 64 16 69 16 52 23 52 27 43 32 37 36 28 46 25 50 19 49 14 42 9 0 3 23 4 66 9 0 3 16 2 33 4 0 4 49 4 82 5 82 4 50 2 0 2 32 1 82 2 66 2 0 1 16 1 82 1 82 1 82 0 73 1 26 6 33 9 32 11 33 12 33 12"/>
<path d="M296 134l5 37 5 53 6 78 9 96 8 87 10 92 11 89 12 71 16 80 16 60 23 62 27 50 32 44 36 33 46 30 50 22 49 17 42 10 0 2 23 5 66 11 0 2 16 2 33 4 0 4 49 5 82 7 82 5 50 2 0 3 32 2 82 3 66 2 16 1 82 2 82 2 82 1 73 2 26 6 33 10 32 11 33 12 33 13"/>
<path d="M296 134l5 27 5 44 6 67 9 86 8 78 10 84 11 85 12 76 16 90 16 73 23 77 27 61 32 51 36 36 46 29 50 19 49 14 42 10 0 2 23 5 66 11 0 4 16 2 33 5 0 3 49 7 82 9 82 7 50 4 0 1 32 2 82 5 66 2 16 1 82 2 82 2 82 1 73 1 26 6 33 9 32 11 33 11 33 12"/>
<path d="M296 134l5 30 5 48 6 74 9 94 8 87 10 91 11 91 12 75 16 85 16 65 23 68 27 54 32 46 36 34 46 29 50 21 49 15 42 10 0 3 23 4 66 11 0 3 16 2 33 4 0 2 49 5 82 8 82 5 50 3 32 1 82 4 66 2 0 2 16 0 82 2 82 1 82 1 73 1 26 6 33 10 32 11 33 11 33 12"/>
<path d="M296 134l5 36 5 62 6 97 9 120 8 105 10 104 11 92 12 69 16 73 16 53 23 54 27 44 32 37 36 28 46 24 50 17 49 12 42 7 0 1 23 3 66 9 0 2 16 1 33 4 0 3 49 4 82 6 82 5 50 2 0 1 32 1 82 3 66 2 0 1 16 0 82 1 82 1 82 1 73 0 26 6 33 9 32 11 33 11 33 12"/>
<path d="M296 134l5 39 5 56 6 78 9 92 8 82 10 85 11 85 12 74 16 85 16 65 23 68 27 56 32 47 36 36 46 29 50 21 49 14 42 8 0 2 23 4 66 8 0 2 16 2 33 3 49 4 82 5 82 4 50 1 0 5 32 2 82 2 66 2 0 2 16 0 82 3 82 2 82 2 73 1 26 7 33 10 32 11 33 12 33 13"/>
<path d="M296 134l5 35 5 56 6 84 9 107 8 98 10 103 11 99 12 77 16 82 16 59 23 58 27 43 32 35 36 25 46 20 50 14 49 10 42 6 0 1 23 4 66 7 0 2 16 2 33 3 49 4 82 7 82 5 50 3 0 4 32 2 82 4 66 3 0 1 16 0 82 3 82 3 82 2 73 2 26 7 33 10 32 12 33 12 33 12"/>
</g>
<g fill="none" stroke="#000" stroke-width="5.5" stroke-opacity="0.25" transform="scale(.1)">
<path d="M296 134l5 22 5 40 6 67 9 90 8 87 10 92 11 87 12 70 16 79 16 62 23 67 27 57 32 52 36 40 46 33 50 23 49 15 42 10 0 2 23 4 66 9 0 3 16 2 33 3 0 3 49 5 82 7 82 7 50 4 0 1 32 2 82 6 66 4 16 1 82 4 82 4 82 2 73 2 26 7 33 10 32 12 33 12 33 13"/>
<path d="M296 134l5 35 5 54 6 80 9 98 8 88 10 92 11 92 12 76 16 85 16 63 23 64 27 49 32 39 36 27 46 20 50 14 49 10 42 6 0 2 23 3 66 8 16 2 33 4 0 3 49 6 82 8 82 6 50 4 0 3 32 2 82 5 66 3 0 2 16 0 82 3 82 2 82 2 73 1 26 7 33 10 32 11 33 13 33 12"/>
<path d="M296 134l5 37 5 56 6 81 9 100 8 92 10 97 11 94 12 75 16 79 16 57 23 56 27 43 32 35 36 27 46 23 50 17 49 13 42 9 0 3 23 4 66 9 0 3 16 2 33 4 49 5 82 6 82 5 50 2 0 2 32 2 82 3 66 2 0 3 16 0 82 3 82 2 82 2 73 2 26 7 33 11 32 12 33 13 33 13"/>
<path d="M296 134l5 28 5 49 6 77 9 99 8 91 10 92 11 83 12 65 16 74 16 58 23 63 27 53 32 49 36 36 46 31 50 19 49 12 42 7 23 2 66 6 0 1 16 1 33 1 0 1 49 2 82 4 82 4 50 2 0 1 32 1 82 4 66 3 0 2 16 0 82 4 82 2 82 3 73 2 26 7 33 12 32 13 33 14 33 14"/>
<path d="M296 134l5 20 5 36 6 58 9 77 8 71 10 76 11 76 12 67 16 85 16 71 23 79 27 67 32 59 36 42 46 32 50 21 49 13 42 8 0 1 23 3 66 9 0 4 16 2 33 3 0 5 49 5 82 8 82 7 50 4 0 3 32 2 82 5 66 4 16 1 82 3 82 2 82 2 73 1 26 7 33 11 32 13 33 13 33 14"/>
<path d="M296 134l5 30 5 48 6 75 9 97 8 93 10 102 11 96 12 72 16 76 16 52 23 50 27 37 32 31 36 24 46 23 50 19 49 15 42 12 0 2 23 5 66 13 0 3 16 2 33 5 0 5 49 6 82 8 82 5 50 3 0 2 32 1 82 3 66 1 0 1 16 0 82 2 82 1 82 1 73 1 26 7 33 11 32 13 33 14 33 14"/>
<path d="M296 134l5 22 5 35 6 54 9 74 8 76 10 88 11 94 12 77 16 84 16 63 23 62 27 49 32 43 36 35 46 33 50 26 49 18 42 13 0 2 23 5 66 11 0 1 16 2 33 4 0 4 49 3 82 4 82 1 50 1 32 0 82 1 66 0 0 2 16 0 82 1 82 2 82 1 73 2 26 8 33 12 32 15 33 15 33 16"/>
<path d="M296 134l5 14 5 24 6 39 9 53 8 53 10 60 11 66 12 62 16 79 16 68 23 78 27 66 32 59 36 43 46 36 50 23 49 16 42 10 0 4 23 4 66 11 0 3 16 3 33 4 0 7 49 6 82 9 82 7 50 4 0 4 32 2 82 5 66 4 0 3 16 1 82 3 82 3 82 2 73 1 26 9 33 13 32 15 33 17 33 16"/>
<path d="M296 134l5 40 5 62 6 91 9 110 8 97 10 99 11 92 12 70 16 75 16 55 23 54 27 43 32 37 36 28 46 24 50 18 49 14 42 9 0 3 23 4 66 10 0 3 16 2 33 3 0 2 49 4 82 6 82 4 50 2 0 4 32 1 82 3 66 1 0 2 16 1 82 1 82 1 82 2 73 0 26 6 33 10 32 11 33 12 33 12"/>
<path d="M296 134l5 15 5 26 6 44 9 58 8 58 10 65 11 70 12 63 16 79 16 64 23 71 27 59 32 51 36 38 46 32 50 24 49 19 42 13 0 3 23 6 66 16 0 4 16 4 33 6 0 6 49 8 82 12 82 8 50 5 0 6 32 2 82 5 66 2 0 3 16 0 82 3 82 1 82 0 73 0 26 8 33 13 32 14 33 15 33 16"/>
<path d="M296 134l5 24 5 45 6 73 9 97 8 91 10 94 11 82 12 62 16 70 16 56 23 62 27 57 32 54 36 45 46 40 50 28 49 19 42 11 23 5 66 10 0 2 16 2 33 3 0 1 49 3 82 5 82 4 50 2 0 4 32 1 82 4 66 2 0 1 16 1 82 2 82 3 82 2 73 2 26 6 33 10 32 12 33 12 33 13"/>
<path d="M296 134l5 27 5 44 6 69 9 92 8 86 10 88 11 79 12 59 16 68 16 54 23 62 27 56 32 54 36 45 46 41 50 31 49 20 42 13 0 2 23 5 66 13 0 2 16 2 33 5 0 3 49 5 82 8 82 6 50 3 0 3 32 3 82 4 66 4 0 1 16 1 82 4 82 3 82 3 73 2 26 7 33 10 32 12 33 12 33 13"/>
<path d="M296 134l5 37 5 55 6 81 9 98 8 90 10 92 11 87 12 68 16 75 16 55 23 57 27 46 32 41 36 32 46 29 50 23 49 18 42 12 0 2 23 6 66 13 0 4 16 2 33 5 0 5 49 6 82 9 82 7 50 3 0 2 32 2 82 4 66 2 0 1 16 1 82 2 82 1 82 2 73 0 26 7 33 9 32 11 33 12 33 12"/>
<path d="M296 134l5 14 5 24 6 40 9 57 8 60 10 71 11 75 12 66 16 76 16 61 23 66 27 55 32 50 36 40 46 36 50 28 49 20 42 12 0 2 23 6 66 12 0 6 16 2 33 5 0 5 49 5 82 7 82 4 50 3 0 1 32 1 82 3 66 2 0 1 16 0 82 3 82 2 82 2 73 2 26 9 33 14 32 16 33 16 33 18"/>
<path d="M296 134l5 30 5 47 6 71 9 90 8 84 10 89 11 89 12 74 16 84 16 64 23 66 27 53 32 46 36 34 46 29 50 22 49 16 42 11 0 2 23 5 66 11 0 2 16 2 33 5 0 4 49 5 82 7 82 5 50 2 0 5 32 1 82 3 66 1 0 2 16 1 82 1 82 2 82 1 73 1 26 6 33 10 32 11 33 13 33 12"/>
<path d="M296 134l5 25 5 37 6 57 9 75 8 74 10 83 11 85 12 72 16 83 16 64 23 70 27 59 32 54 36 43 46 38 50 28 49 18 42 12 0 3 23 5 66 11 0 3 16 3 33 4 49 6 82 7 82 6 50 3 0 2 32 2 82 5 66 4 0 2 16 1 82 5 82 4 82 3 73 3 26 7 33 12 32 12 33 13 33 13"/>
<path d="M296 134l5 35 5 49 6 70 9 83 8 75 10 80 11 81 12 70 16 83 16 66 23 69 27 57 32 49 36 36 46 30 50 21 49 16 42 10 0 3 23 4 66 11 0 1 16 2 33 5 0 1 49 5 82 8 82 6 50 4 0 1 32 2 82 5 66 3 0 1 16 1 82 3 82 3 82 2 73 2 26 7 33 11 32 12 33 13 33 14"/>
<path d="M296 134l5 31 5 45 6 63 9 76 8 71 10 78 11 85 12 78 16 92 16 72 23 75 27 59 32 48 36 34 46 27 50 19 49 13 42 10 0 4 23 4 66 11 0 1 16 2 33 5 0 5 49 6 82 9 82 7 50 4 0 3 32 2 82 5 66 3 0 2 16 0 82 3 82 3 82 2 73 2 26 6 33 11 32 12 33 13 33 13"/>
<path d="M296 134l5 11 5 20 6 35 9 47 8 45 10 50 11 52 12 49 16 68 16 62 23 76 27 69 32 64 36 50 46 42 50 29 49 21 42 13 0 5 23 7 66 15 0 6 16 3 33 6 0 2 49 8 82 13 82 11 50 6 0 2 32 4 82 7 66 5 16 1 82 5 82 3 82 2 73 2 26 8 33 14 32 16 33 16 33 18"/>
<path d="M296 134l5 26 5 43 6 69 9 93 8 91 10 98 11 95 12 75 16 81 16 59 23 62 27 51 32 46 36 36 46 33 50 22 49 15 42 9 0 1 23 3 66 6 0 1 16 1 33 1 0 4 49 2 82 2 82 2 50 2 0 4 32 1 82 3 66 2 0 1 16 1 82 4 82 3 82 4 73 3 26 8 33 11 32 13 33 13 33 14"/>
<path d="M296 134l5 22 5 35 6 55 9 77 8 79 10 91 11 98 12 84 16 92 16 69 23 69 27 55 32 47 36 35 46 32 50 24 49 17 42 11 0 2 23 4 66 11 0 2 16 2 33 3 0 1 49 4 82 4 82 4 50 1 0 2 32 1 82 3 66 2 16 1 82 2 82 3 82 2 73 2 26 7 33 12 32 12 33 14 33 14"/>
<path d="M296 134l5 36 5 57 6 83 9 102 8 94 10 101 11 98 12 78 16 82 16 58 23 54 27 38 32 30 36 21 46 20 50 17 49 16 42 11 0 2 23 6 66 14 0 2 16 3 33 5 0 3 49 6 82 8 82 5 50 1 0 3 32 0 82 1 66 0 16 0 82-1 82-2 82-1 73-1 26 6 33 10 32 11 33 12 33 13"/>
<path d="M296 134l5 31 5 44 6 64 9 79 8 72 10 78 11 78 12 65 16 77 16 61 23 66 27 56 32 51 36 41 46 39 50 30 49 22 42 14 0 2 23 6 66 15 0 2 16 3 33 5 0 1 49 7 82 8 82 5 50 2 0 4 32 2 82 2 66 2 16 0 82 2 82 1 82 1 73 1 26 7 33 11 32 13 33 13 33 14"/>
<path d="M296 134l5 27 5 37 6 53 9 67 8 67 10 77 11 85 12 76 16 88 16 68 23 71 27 59 32 53 36 42 46 38 50 30 49 21 42 13 0 3 23 6 66 13 0 1 16 3 33 4 0 1 49 4 82 6 82 3 50 1 0 4 32 0 82 2 66 2 0 2 16 0 82 2 82 2 82 2 73 2 26 8 33 11 32 13 33 14 33 15"/>
<path d="M296 134l5 20 5 37 6 62 9 85 8 83 10 91 11 89 12 70 16 79 16 60 23 64 27 54 32 48 36 39 46 37 50 28 49 20 42 14 0 2 23 6 66 14 0 3 16 3 33 5 0 4 49 6 82 8 82 6 50 3 0 4 32 2 82 3 66 2 16 1 82 2 82 1 82 1 73 1 26 6 33 11 32 11 33 13 33 13"/>
<path d="M296 134l5 23 5 40 6 62 9 81 8 78 10 83 11 84 12 72 16 84 16 66 23 72 27 60 32 54 36 43 46 37 50 27 49 18 42 11 0 4 23 5 66 10 0 2 16 2 33 4 0 3 49 4 82 5 82 4 50 1 0 3 32 1 82 2 66 1 0 2 16 0 82 2 82 1 82 1 73 1 26 6 33 11 32 11 33 13 33 13"/>
<path d="M296 134l5 14 5 23 6 40 9 55 8 57 10 68 11 75 12 66 16 80 16 63 23 67 27 56 32 49 36 37 46 32 50 23 49 16 42 11 0 5 23 5 66 10 0 4 16 2 33 4 0 4 49 5 82 6 82 5 50 2 0 4 32 1 82 4 66 2 0 1 16 0 82 3 82 3 82 2 73 2 26 9 33 14 32 16 33 17 33 18"/>
<path d="M296 134l5 22 5 37 6 59 9 79 8 76 10 84 11 87 12 74 16 86 16 67 23 71 27 58 32 51 36 39 46 33 50 25 49 17 42 11 0 4 23 5 66 12 0 1 16 2 33 4 0 1 49 5 82 7 82 5 50 2 0 4 32 2 82 3 66 2 0 1 16 0 82 2 82 2 82 2 73 1 26 7 33 11 32 12 33 13 33 14"/>
<path d="M296 134l5 23 5 36 6 57 9 74 8 71 10 78 11 78 12 66 16 79 16 63 23 70 27 60 32 54 36 43 46 38 50 28 49 21 42 13 0 5 23 6 66 14 0 2 16 2 33 6 0 3 49 6 82 10 82 7 50 3 0 2 32 2 82 5 66 3 0 2 16 1 82 3 82 2 82 3 73 2 26 7 33 11 32 13 33 13 33 14"/>
<path d="M296 134l5 24 5 37 6 56 9 73 8 73 10 84 11 89 12 74 16 84 16 63 23 64 27 50 32 44 36 36 46 36 50 30 49 24 42 18 0 2 23 8 66 19 0 3 16 4 33 7 0 4 49 8 82 8 82 5 50 2 0 1 32 0 82 1 66 0 0 1 16 0 82 0 82-1 82 0 73 0 26 6 33 11 32 13 33 13 33 14"/>
<path d="M296 134l5 22 5 35 6 57 9 75 8 72 10 77 11 78 12 65 16 79 16 65 23 73 27 63 32 58 36 45 46 39 50 26 49 18 42 11 0 2 23 4 66 11 16 2 33 4 0 1 49 5 82 7 82 6 50 3 0 5 32 2 82 4 66 4 0 2 16 1 82 3 82 3 82 3 73 2 26 7 33 12 32 13 33 13 33 15"/>
<path d="M296 134l5 20 5 33 6 54 9 73 8 70 10 77 11 79 12 71 16 83 16 68 23 76 27 66 32 61 36 47 46 40 50 27 49 17 42 10 0 3 23 4 66 9 0 2 16 2 33 3 0 1 49 4 82 6 82 5 50 3 0 4 32 2 82 5 66 3 0 1 16 1 82 4 82 4 82 3 73 3 26 7 33 11 32 13 33 13 33 14"/>
<path d="M296 134l5 25 5 43 6 68 9 88 8 87 10 96 11 100 12 81 16 89 16 64 23 62 27 45 32 35 36 25 46 22 50 17 49 14 42 11 0 1 23 5 66 13 0 3 16 3 33 5 0 2 49 7 82 9 82 6 50 2 32 2 82 3 66 1 0 2 16 1 82 1 82 0 82 0 73 1 26 6 33 11 32 12 33 13 33 13"/>
<path d="M296 134l5 14 5 27 6 44 9 65 8 69 10 81 11 87 12 76 16 87 16 68 23 72 27 63 32 58 36 48 46 44 50 35 49 24 42 15 0 2 23 7 66 13 0 1 16 3 33 3 0 4 49 4 82 4 82 1 50 1 0 2 32 1 82 0 66 1 0 2 16 0 82 0 82 1 82 1 73 2 26 7 33 11 32 13 33 14 33 14"/>
<path d="M296 134l5 31 5 47 6 70 9 90 8 87 10 95 11 95 12 75 16 80 16 57 23 56 27 44 32 37 36 30 46 28 50 23 49 18 42 12 23 5 66 12 16 2 33 4 0 2 49 4 82 5 82 3 50 1 0 3 32 0 82 1 66 1 0 1 16 0 82 1 82 1 82 2 73 1 26 7 33 12 32 13 33 14 33 15"/>
<path d="M296 134l5 30 5 45 6 68 9 84 8 79 10 83 11 81 12 67 16 77 16 60 23 64 27 54 32 48 36 38 46 33 50 25 49 17 42 12 0 2 23 5 66 11 0 3 16 2 33 4 0 3 49 4 82 7 82 4 50 3 0 1 32 1 82 3 66 2 0 1 16 0 82 2 82 2 82 1 73 1 26 7 33 12 32 13 33 13 33 15"/>
<path d="M296 134l5 21 5 38 6 61 9 85 8 83 10 91 11 90 12 73 16 82 16 62 23 66 27 55 32 49 36 39 46 33 50 23 49 16 42 9 0 2 23 4 66 7 0 1 16 2 33 2 0 4 49 3 82 3 82 3 50 2 0 5 32 1 82 3 66 3 0 1 16 0 82 4 82 3 82 3 73 2 26 7 33 12 32 13 33 14 33 14"/>
<path d="M296 134l5 28 5 44 6 65 9 83 8 78 10 86 11 91 12 79 16 88 16 66 23 66 27 50 32 41 36 30 46 26 50 20 49 16 42 11 0 1 23 5 66 12 0 1 16 2 33 5 0 2 49 6 82 7 82 6 50 2 0 4 32 2 82 2 66 1 0 2 16 0 82 1 82 0 82 1 73 0 26 7 33 11 32 12 33 14 33 14"/>
<path d="M296 134l5 22 5 35 6 54 9 66 8 60 10 61 11 61 12 59 16 80 16 72 23 84 27 76 32 68 36 50 46 40 50 25 49 16 42 10 0 1 23 5 66 10 0 2 16 2 33 4 0 2 49 5 82 9 82 8 50 4 0 4 32 3 82 6 66 4 0 1 16 1 82 4 82 4 82 2 73 2 26 8 33 11 32 13 33 14 33 15"/>
<path d="M296 134l5 14 5 23 6 37 9 51 8 54 10 64 11 70 12 61 16 73 16 57 23 61 27 50 32 45 36 35 46 33 50 24 49 19 42 12 0 3 23 6 66 13 0 1 16 3 33 5 0 3 49 7 82 10 82 7 50 4 0 5 32 2 82 6 66 4 0 3 16 1 82 4 82 4 82 3 73 3 26 10 33 15 32 16 33 18 33 19"/>
<path d="M296 134l5 17 5 28 6 47 9 64 8 64 10 72 11 77 12 69 16 83 16 69 23 76 27 65 32 59 36 46 46 39 50 27 49 20 42 12 0 4 23 6 66 13 0 4 16 2 33 5 0 4 49 7 82 9 82 7 50 4 0 1 32 2 82 6 66 4 0 2 16 1 82 4 82 3 82 3 73 2 26 8 33 11 32 13 33 14 33 14"/>
<path d="M296 134l5 10 5 19 6 31 9 46 8 47 10 58 11 66 12 63 16 78 16 65 23 71 27 60 32 55 36 42 46 37 50 27 49 19 42 12 0 6 23 5 66 11 0 1 16 2 33 4 0 6 49 5 82 5 82 4 50 2 0 4 32 2 82 2 66 2 0 1 16 0 82 2 82 2 82 1 73 1 26 9 33 15 32 16 33 18 33 18"/>
<path d="M296 134l5 24 5 45 6 73 9 95 8 87 10 89 11 82 12 65 16 76 16 61 23 66 27 57 32 52 36 39 46 32 50 20 49 12 42 7 0 1 23 3 66 4 0 2 16 0 33 2 0 5 49 1 82 2 82 2 50 1 0 1 32 0 82 3 66 2 0 1 16 0 82 2 82 2 82 2 73 2 26 7 33 12 32 13 33 14 33 14"/>
<path d="M296 134l5 29 5 49 6 79 9 100 8 91 10 91 11 80 12 59 16 67 16 54 23 59 27 52 32 48 36 39 46 32 50 22 49 13 42 8 23 3 66 5 0 1 16 1 33 2 0 1 49 2 82 3 82 4 50 2 0 2 32 2 82 3 66 3 0 1 16 1 82 3 82 3 82 2 73 2 26 7 33 12 32 14 33 14 33 14"/>
<path d="M296 134l5 7 5 14 6 24 9 34 8 38 10 46 11 53 12 48 16 63 16 55 23 66 27 60 32 59 36 49 46 46 50 35 49 27 42 18 0 2 23 8 66 18 0 4 16 4 33 7 0 1 49 9 82 11 82 8 50 3 0 4 32 3 82 4 66 3 0 2 16 0 82 3 82 3 82 2 73 2 26 10 33 15 32 18 33 19 33 19"/>
<path d="M296 134l5 17 5 29 6 48 9 64 8 65 10 73 11 76 12 65 16 80 16 66 23 74 27 63 32 58 36 45 46 39 50 28 49 20 42 13 0 2 23 5 66 14 0 1 16 3 33 5 0 2 49 7 82 8 82 7 50 4 0 6 32 2 82 4 66 4 16 1 82 3 82 3 82 3 73 2 26 7 33 12 32 14 33 14 33 16"/>
<path d="M296 134l5 31 5 42 6 57 9 67 8 63 10 72 11 83 12 79 16 93 16 72 23 73 27 54 32 42 36 29 46 25 50 18 49 16 42 12 23 6 66 15 0 4 16 3 33 6 0 4 49 8 82 10 82 8 50 3 0 6 32 2 82 3 66 3 0 2 16 0 82 2 82 2 82 1 73 1 26 8 33 11 32 13 33 14 33 15"/>
<path d="M296 134l5 21 5 38 6 62 9 84 8 82 10 89 11 89 12 71 16 80 16 61 23 62 27 50 32 44 36 34 46 32 50 24 49 19 42 13 0 3 23 6 66 14 0 1 16 3 33 5 0 3 49 6 82 8 82 5 50 2 0 4 32 1 82 2 66 1 0 2 16 1 82 0 82 0 82 0 73 0 26 7 33 11 32 12 33 13 33 15"/>
<path d="M296 134l5 19 5 33 6 55 9 72 8 70 10 76 11 75 12 64 16 80 16 66 23 74 27 64 32 57 36 41 46 35 50 22 49 16 42 9 0 4 23 5 66 10 0 2 16 3 33 4 0 2 49 5 82 9 82 7 50 5 0 1 32 2 82 6 66 4 0 1 16 1 82 4 82 3 82 2 73 2 26 8 33 12 32 13 33 14 33 15"/>
<path d="M296 134l5 22 5 32 6 47 9 60 8 59 10 66 11 75 12 71 16 88 16 72 23 77 27 64 32 56 36 42 46 37 50 26 49 20 42 13 23 6 66 14 0 3 16 3 33 5 49 7 82 8 82 7 50 2 0 5 32 1 82 4 66 2 0 1 16 1 82 2 82 2 82 2 73 1 26 7 33 13 32 13 33 15 33 15"/>
<path d="M296 134l5 15 5 27 6 47 9 67 8 72 10 84 11 88 12 73 16 82 16 62 23 67 27 58 32 54 36 44 46 42 50 30 49 21 42 13 0 5 23 5 66 10 0 3 16 2 33 3 0 3 49 4 82 4 82 3 50 2 0 2 32 1 82 3 66 3 0 2 16 0 82 4 82 3 82 4 73 3 26 8 33 12 32 14 33 15 33 15"/>
<path d="M296 134l5 33 5 48 6 70 9 84 8 75 10 76 11 75 12 66 16 77 16 62 23 66 27 56 32 49 36 38 46 32 50 24 49 15 42 10 0 1 23 4 66 10 0 3 16 2 33 3 49 4 82 4 82 3 50 1 0 2 32 1 82 1 66 1 0 1 16 0 82 1 82 1 82 1 73 1 26 7 33 12 32 14 33 14 33 16"/>
<path d="M296 134l5 23 5 30 6 44 9 56 8 56 10 65 11 74 12 67 16 80 16 64 23 69 27 59 32 55 36 45 46 43 50 34 49 26 42 17 0 3 23 8 66 17 0 3 16 3 33 6 0 1 49 7 82 8 82 5 50 2 0 6 32 1 82 2 66 2 16 1 82 1 82 2 82 2 73 2 26 8 33 13 32 15 33 15 33 16"/>
<path d="M296 134l5 21 5 32 6 50 9 66 8 65 10 73 11 78 12 67 16 80 16 64 23 70 27 59 32 53 36 41 46 37 50 28 49 19 42 13 0 5 23 5 66 13 0 3 16 3 33 5 0 3 49 6 82 8 82 6 50 3 0 4 32 1 82 5 66 2 0 2 16 1 82 3 82 3 82 3 73 2 26 7 33 13 32 14 33 14 33 16"/>
<path d="M296 134l5 25 5 42 6 68 9 87 8 79 10 80 11 75 12 62 16 74 16 60 23 70 27 61 32 57 36 43 46 35 50 21 49 12 42 5 23 2 66 3 0 3 16 0 33 1 0 2 49 1 82 2 82 3 50 3 0 1 32 1 82 5 66 3 0 1 16 1 82 4 82 4 82 3 73 3 26 8 33 13 32 13 33 15 33 16"/>
<path d="M296 134l5 16 5 27 6 41 9 56 8 59 10 71 11 82 12 79 16 93 16 73 23 77 27 63 32 54 36 42 46 37 50 28 49 20 42 14 0 3 23 6 66 14 0 4 16 3 33 5 0 3 49 6 82 7 82 5 50 2 0 1 32 2 82 2 66 2 0 1 16 0 82 2 82 1 82 2 73 1 26 7 33 12 32 14 33 14 33 15"/>
<path d="M296 134l5 18 5 28 6 46 9 60 8 58 10 63 11 65 12 58 16 74 16 64 23 74 27 66 32 62 36 49 46 43 50 32 49 23 42 15 0 3 23 7 66 16 0 1 16 3 33 7 0 1 49 8 82 11 82 9 50 5 0 3 32 3 82 6 66 4 0 2 16 1 82 3 82 4 82 2 73 2 26 8 33 12 32 14 33 14 33 16"/>
<path d="M296 134l5 22 5 40 6 65 9 87 8 83 10 87 11 82 12 64 16 74 16 57 23 63 27 54 32 49 36 38 46 31 50 20 49 13 42 6 0 4 23 2 66 6 0 5 16 1 33 3 0 1 49 4 82 6 82 6 50 4 0 5 32 2 82 6 66 5 0 2 16 1 82 5 82 5 82 5 73 3 26 8 33 12 32 13 33 14 33 15"/>
<path d="M296 134l5 21 5 31 6 47 9 61 8 62 10 72 11 76 12 65 16 75 16 58 23 62 27 51 32 47 36 40 46 39 50 34 49 27 42 20 0 2 23 9 66 21 0 5 16 4 33 8 0 4 49 9 82 12 82 7 50 3 0 4 32 2 82 3 66 2 0 2 16 0 82 1 82 1 82 1 73 1 26 8 33 12 32 14 33 15 33 16"/>
<path d="M296 134l5 25 5 35 6 50 9 61 8 59 10 69 11 83 12 79 16 94 16 72 23 74 27 56 32 46 36 32 46 29 50 23 49 19 42 14 0 3 23 7 66 16 0 4 16 3 33 6 0 4 49 8 82 9 82 5 50 2 0 4 32 1 82 1 66 0 0 1 16 0 82 0 82 0 82-1 73 0 26 7 33 12 32 13 33 15 33 15"/>
<path d="M296 134l5 15 5 28 6 47 9 62 8 62 10 71 11 76 12 69 16 83 16 68 23 75 27 63 32 56 36 43 46 39 50 28 49 21 42 14 0 3 23 6 66 15 0 1 16 3 33 5 0 1 49 7 82 8 82 6 50 3 0 2 32 2 82 3 66 1 0 2 16 0 82 1 82 1 82 0 73 0 26 7 33 12 32 14 33 14 33 15"/>
<path d="M296 134l5 16 5 31 6 53 9 75 8 76 10 84 11 76 12 56 16 62 16 50 23 58 27 54 32 54 36 48 46 45 50 34 49 24 42 15 0 1 23 6 66 13 0 4 16 2 33 4 0 5 49 4 82 6 82 3 50 2 0 2 32 1 82 3 66 1 0 1 16 0 82 2 82 3 82 2 73 1 26 8 33 13 32 15 33 15 33 17"/>
<path d="M296 134l5 17 5 30 6 50 9 68 8 68 10 77 11 80 12 70 16 82 16 65 23 70 27 58 32 52 36 40 46 33 50 24 49 17 42 10 0 3 23 5 66 11 0 1 16 2 33 5 0 3 49 5 82 9 82 7 50 4 0 1 32 2 82 6 66 4 0 1 16 1 82 4 82 4 82 3 73 3 26 8 33 12 32 14 33 15 33 15"/>
<path d="M296 134l5 19 5 36 6 59 9 79 8 75 10 80 11 79 12 69 16 82 16 67 23 73 27 60 32 52 36 35 46 26 50 15 49 8 42 4 0 4 23 2 66 6 0 3 16 1 33 3 0 3 49 5 82 8 82 8 50 4 0 1 32 3 82 7 66 5 0 2 16 1 82 5 82 5 82 3 73 2 26 8 33 12 32 14 33 14 33 15"/>
<path d="M296 134l5 22 5 33 6 49 9 63 8 61 10 69 11 73 12 65 16 78 16 63 23 68 27 58 32 52 36 41 46 36 50 28 49 21 42 14 0 1 23 7 66 15 0 3 16 3 33 5 0 4 49 8 82 9 82 7 50 3 0 6 32 2 82 4 66 3 16 1 82 3 82 2 82 2 73 1 26 8 33 12 32 15 33 15 33 15"/>
<path d="M296 134l5 14 5 27 6 46 9 66 8 67 10 76 11 80 12 70 16 84 16 68 23 76 27 64 32 57 36 42 46 34 50 22 49 13 42 7 23 3 66 7 0 3 16 2 33 2 0 3 49 4 82 7 82 6 50 4 0 6 32 2 82 7 66 5 16 1 82 6 82 5 82 4 73 4 26 8 33 13 32 14 33 15 33 16"/>
<path d="M296 134l5 19 5 31 6 50 9 65 8 64 10 70 11 73 12 64 16 78 16 64 23 70 27 60 32 53 36 40 46 35 50 24 49 18 42 12 0 4 23 5 66 14 0 2 16 3 33 6 0 4 49 8 82 10 82 10 50 4 0 6 32 2 82 7 66 4 0 3 16 1 82 4 82 4 82 3 73 2 26 7 33 13 32 13 33 15 33 15"/>
<path d="M296 134l5 12 5 21 6 35 9 52 8 55 10 68 11 74 12 67 16 82 16 65 23 72 27 62 32 56 36 45 46 41 50 32 49 24 42 17 0 1 23 8 66 18 0 4 16 4 33 7 0 1 49 9 82 12 82 9 50 4 0 3 32 3 82 6 66 3 0 1 16 1 82 4 82 3 82 3 73 2 26 8 33 12 32 14 33 15 33 16"/>
<path d="M296 134l5 17 5 34 6 58 9 85 8 85 10 92 11 85 12 59 16 64 16 49 23 53 27 48 32 46 36 39 46 36 50 27 49 18 42 11 0 3 23 4 66 10 0 1 16 2 33 4 0 1 49 4 82 6 82 5 50 2 0 3 32 2 82 4 66 4 16 1 82 4 82 4 82 4 73 2 26 9 33 13 32 15 33 15 33 16"/>
<path d="M296 134l5 20 5 33 6 51 9 69 8 70 10 81 11 88 12 75 16 84 16 63 23 63 27 50 32 44 36 36 46 33 50 27 49 21 42 14 23 6 66 14 0 3 16 3 33 4 0 4 49 5 82 6 82 4 50 1 0 3 32 1 82 0 66 1 0 1 16 0 82 0 82 0 82 1 73 0 26 8 33 13 32 14 33 14 33 16"/>
<path d="M296 134l5 12 5 21 6 36 9 52 8 56 10 67 11 78 12 71 16 86 16 68 23 75 27 65 32 59 36 47 46 41 50 28 49 20 42 12 0 4 23 5 66 11 0 3 16 2 33 4 0 2 49 5 82 7 82 6 50 4 0 5 32 2 82 6 66 4 0 1 16 1 82 5 82 4 82 5 73 3 26 8 33 14 32 14 33 16 33 16"/>
<path d="M296 134l5 16 5 28 6 47 9 66 8 68 10 81 11 90 12 80 16 91 16 68 23 69 27 52 32 44 36 32 46 29 50 23 49 19 42 13 0 4 23 7 66 14 0 2 16 3 33 5 0 2 49 6 82 9 82 4 50 2 0 1 32 1 82 1 66 0 0 2 16 0 82 0 82 0 82-1 73-1 26 8 33 12 32 13 33 15 33 15"/>
<path d="M296 134l5 19 5 31 6 48 9 59 8 55 10 60 11 63 12 60 16 77 16 67 23 77 27 65 32 57 36 43 46 35 50 26 49 18 42 13 0 1 23 6 66 16 0 4 16 3 33 7 0 2 49 8 82 12 82 9 50 4 0 5 32 3 82 4 66 3 0 2 16 1 82 2 82 1 82 1 73 1 26 8 33 12 32 14 33 15 33 16"/>
<path d="M296 134l5 20 5 32 6 49 9 64 8 64 10 73 11 74 12 62 16 73 16 58 23 62 27 52 32 48 36 40 46 38 50 32 49 24 42 17 0 5 23 8 66 18 0 4 16 3 33 7 49 8 82 9 82 6 50 2 0 7 32 1 82 2 66 1 0 2 16 0 82 1 82 0 82 1 73 0 26 8 33 13 32 14 33 15 33 16"/>
<path d="M296 134l5 13 5 22 6 38 9 54 8 56 10 66 11 71 12 62 16 75 16 62 23 70 27 63 32 60 36 49 46 46 50 35 49 25 42 15 23 7 66 14 0 2 16 3 33 5 0 4 49 6 82 7 82 5 50 2 0 5 32 1 82 4 66 2 0 1 16 1 82 2 82 3 82 2 73 2 26 8 33 14 32 15 33 16 33 16"/>
<path d="M296 134l5 16 5 26 6 44 9 64 8 66 10 78 11 82 12 69 16 80 16 61 23 66 27 56 32 51 36 42 46 39 50 28 49 20 42 13 23 5 66 11 16 2 33 3 0 6 49 3 82 5 82 3 50 2 0 7 32 1 82 3 66 2 0 1 16 1 82 3 82 3 82 3 73 3 26 8 33 14 32 15 33 16 33 16"/>
<path d="M296 134l5 12 5 23 6 41 9 59 8 59 10 67 11 65 12 54 16 67 16 57 23 69 27 65 32 65 36 53 46 48 50 34 49 22 42 13 0 4 23 6 66 12 0 4 16 2 33 5 0 5 49 6 82 8 82 8 50 4 0 4 32 3 82 7 66 5 0 1 16 1 82 6 82 6 82 4 73 4 26 8 33 14 32 15 33 15 33 16"/>
<path d="M296 134l5 21 5 33 6 51 9 67 8 64 10 69 11 69 12 58 16 71 16 60 23 67 27 59 32 55 36 44 46 39 50 28 49 18 42 12 0 5 23 5 66 11 0 3 16 2 33 4 0 4 49 5 82 6 82 5 50 2 0 4 32 2 82 4 66 3 16 0 82 4 82 3 82 3 73 2 26 9 33 13 32 15 33 16 33 17"/>
<path d="M296 134l5 14 5 25 6 38 9 54 8 54 10 64 11 69 12 65 16 80 16 67 23 76 27 66 32 60 36 47 46 42 50 30 49 21 42 13 0 1 23 6 66 12 0 2 16 3 33 4 49 5 82 7 82 4 50 2 0 3 32 1 82 3 66 2 0 2 16 1 82 2 82 2 82 2 73 1 26 9 33 13 32 16 33 16 33 17"/>
<path d="M296 134l5 19 5 35 6 56 9 74 8 72 10 77 11 76 12 64 16 76 16 62 23 67 27 58 32 51 36 39 46 33 50 22 49 15 42 9 23 4 66 8 0 1 16 2 33 3 0 4 49 4 82 5 82 4 50 2 0 2 32 1 82 3 66 2 0 2 16 0 82 2 82 2 82 1 73 1 26 8 33 13 32 15 33 16 33 16"/>
<path d="M296 134l5 7 5 19 6 35 9 55 8 60 10 73 11 78 12 66 16 80 16 64 23 71 27 61 32 55 36 43 46 38 50 29 49 21 42 14 0 5 23 6 66 15 0 4 16 3 33 6 0 5 49 7 82 10 82 8 50 4 0 5 32 3 82 4 66 3 0 3 16 0 82 3 82 2 82 2 73 1 26 8 33 13 32 14 33 15 33 16"/>
<path d="M296 134l5 15 5 23 6 34 9 49 8 53 10 65 11 74 12 68 16 80 16 64 23 71 27 60 32 56 36 45 46 42 50 31 49 23 42 13 0 2 23 6 66 12 0 1 16 2 33 4 0 1 49 5 82 5 82 3 50 2 0 2 32 1 82 3 66 2 0 3 16 1 82 3 82 4 82 3 73 3 26 10 33 14 32 17 33 17 33 18"/>
<path d="M296 134l5 16 5 25 6 39 9 51 8 51 10 58 11 62 12 57 16 71 16 60 23 70 27 63 32 61 36 49 46 46 50 35 49 25 42 16 0 4 23 7 66 16 16 3 33 6 0 1 49 7 82 8 82 6 50 3 0 5 32 2 82 3 66 2 0 2 16 0 82 2 82 3 82 2 73 1 26 9 33 14 32 15 33 17 33 17"/>
<path d="M296 134l5 12 5 19 6 33 9 49 8 56 10 70 11 84 12 75 16 88 16 67 23 70 27 57 32 51 36 41 46 39 50 32 49 24 42 16 0 5 23 7 66 16 0 4 16 3 33 6 0 4 49 6 82 7 82 4 50 2 0 3 32 1 82 2 66 1 0 2 16 0 82 1 82 1 82 2 73 1 26 8 33 14 32 14 33 16 33 16"/>
<path d="M296 134l5 11 5 19 6 30 9 43 8 47 10 60 11 73 12 69 16 86 16 69 23 73 27 61 32 54 36 44 46 44 50 37 49 29 42 21 0 1 23 10 66 22 0 2 16 5 33 8 0 3 49 9 82 10 82 4 50 1 0 5 32 0 82-1 66-1 16-1 82-2 82-2 82-3 73-1 26 7 33 13 32 14 33 16 33 17"/>
<path d="M296 134l5 22 5 31 6 43 9 52 8 48 10 55 11 65 12 65 16 82 16 68 23 73 27 59 32 49 36 35 46 29 50 23 49 19 42 15 0 2 23 7 66 20 0 1 16 4 33 9 49 11 82 15 82 12 50 5 0 4 32 3 82 5 66 3 0 2 16 0 82 2 82 2 82 0 73 0 26 8 33 14 32 14 33 16 33 17"/>
<path d="M296 134l5 16 5 25 6 37 9 48 8 49 10 60 11 73 12 72 16 89 16 73 23 76 27 62 32 51 36 38 46 33 50 26 49 20 42 14 0 4 23 7 66 16 0 4 16 3 33 7 0 6 49 8 82 11 82 8 50 3 0 2 32 2 82 4 66 1 0 3 16 1 82 1 82 1 82 0 73 1 26 7 33 13 32 15 33 15 33 17"/>
<path d="M296 134l5 12 5 20 6 31 9 42 8 41 10 48 11 57 12 61 16 82 16 74 23 86 27 77 32 70 36 51 46 41 50 26 49 17 42 10 0 2 23 5 66 11 16 2 33 5 0 3 49 7 82 10 82 9 50 5 32 3 82 8 66 5 0 3 16 1 82 6 82 5 82 4 73 3 26 9 33 14 32 16 33 16 33 18"/>
<path d="M296 134l5 19 5 33 6 50 9 64 8 57 10 60 11 63 12 62 16 80 16 69 23 77 27 66 32 56 36 38 46 29 50 18 49 12 42 9 0 2 23 4 66 11 0 2 16 3 33 5 0 6 49 8 82 11 82 10 50 5 0 5 32 3 82 6 66 4 0 1 16 1 82 4 82 2 82 1 73 1 26 8 33 12 32 15 33 15 33 16"/>
<path d="M296 134l5 12 5 24 6 41 9 59 8 61 10 68 11 68 12 55 16 67 16 55 23 63 27 56 32 53 36 45 46 42 50 33 49 25 42 17 23 8 66 19 0 1 16 4 33 7 0 1 49 9 82 12 82 9 50 4 0 3 32 2 82 5 66 3 0 3 16 1 82 3 82 2 82 1 73 1 26 9 33 13 32 15 33 16 33 16"/>
<path d="M296 134l5 15 5 26 6 42 9 59 8 61 10 71 11 77 12 67 16 78 16 61 23 64 27 52 32 45 36 35 46 33 50 26 49 22 42 15 0 6 23 7 66 18 0 6 16 4 33 7 0 2 49 10 82 12 82 10 50 4 0 7 32 2 82 5 66 3 0 2 16 1 82 2 82 2 82 1 73 1 26 8 33 12 32 14 33 15 33 16"/>
<path d="M296 134l5 12 5 24 6 41 9 60 8 61 10 68 11 72 12 64 16 78 16 65 23 75 27 67 32 63 36 48 46 40 50 25 49 15 42 7 0 1 23 3 66 4 0 4 16 0 33 1 0 5 49 1 82 2 82 3 50 2 0 3 32 1 82 4 66 4 0 3 16 1 82 4 82 4 82 4 73 3 26 9 33 15 32 15 33 17 33 17"/>
<path d="M296 134l5 6 5 15 6 29 9 44 8 48 10 59 11 66 12 60 16 77 16 65 23 74 27 66 32 60 36 49 46 44 50 34 49 26 42 18 0 4 23 9 66 19 0 5 16 4 33 8 0 4 49 9 82 13 82 10 50 4 0 4 32 2 82 5 66 3 0 1 16 1 82 2 82 1 82 1 73 0 26 8 33 12 32 15 33 15 33 16"/>
<path d="M296 134l5 15 5 22 6 34 9 48 8 53 10 66 11 79 12 72 16 85 16 64 23 66 27 52 32 45 36 35 46 36 50 30 49 25 42 19 0 3 23 9 66 20 0 3 16 4 33 7 0 3 49 9 82 9 82 5 50 2 0 3 32 1 82 1 66 0 0 1 16 0 82 0 82 0 82 0 73 0 26 9 33 13 32 16 33 16 33 18"/>
<path d="M296 134l5 20 5 33 6 49 9 65 8 65 10 73 11 78 12 66 16 77 16 59 23 61 27 48 32 42 36 34 46 32 50 27 49 21 42 16 0 3 23 7 66 16 0 5 16 3 33 6 0 1 49 7 82 8 82 4 50 2 0 1 32 1 82 0 66 0 0 3 16 0 82-1 82-1 82-1 73 0 26 8 33 13 32 15 33 16 33 17"/>
<path d="M296 134l5 15 5 22 6 30 9 39 8 40 10 49 11 63 12 66 16 87 16 73 23 80 27 66 32 57 36 42 46 35 50 26 49 20 42 14 0 5 23 7 66 17 0 4 16 4 33 7 0 6 49 9 82 12 82 9 50 5 0 6 32 3 82 6 66 3 0 1 16 1 82 3 82 3 82 2 73 2 26 8 33 14 32 15 33 16 33 17"/>
<path d="M296 134l5 10 5 19 6 31 9 45 8 50 10 63 11 72 12 67 16 82 16 66 23 72 27 61 32 55 36 44 46 41 50 32 49 24 42 16 0 6 23 7 66 17 0 4 16 3 33 6 0 6 49 7 82 9 82 6 50 2 0 2 32 2 82 2 66 2 0 3 16 0 82 1 82 2 82 1 73 0 26 9 33 13 32 15 33 16 33 17"/>
<path d="M296 134l5 11 5 22 6 38 9 54 8 54 10 60 11 59 12 54 16 69 16 63 23 75 27 69 32 65 36 50 46 42 50 27 49 17 42 10 0 5 23 4 66 9 0 5 16 2 33 4 0 4 49 5 82 8 82 8 50 5 32 3 82 7 66 5 0 1 16 2 82 5 82 5 82 4 73 3 26 8 33 15 32 15 33 17 33 17"/>
<path d="M296 134l5 16 5 27 6 46 9 65 8 66 10 75 11 79 12 68 16 77 16 61 23 63 27 53 32 47 36 37 46 34 50 26 49 18 42 13 23 5 66 12 0 3 16 2 33 4 0 4 49 4 82 5 82 3 50 2 0 4 32 1 82 1 66 1 0 3 16 0 82 1 82 1 82 0 73 1 26 9 33 13 32 16 33 16 33 17"/>
<path d="M296 134l5 9 5 20 6 34 9 48 8 49 10 54 11 54 12 48 16 65 16 61 23 76 27 71 32 70 36 56 46 49 50 33 49 23 42 13 0 1 23 6 66 12 0 4 16 2 33 5 0 2 49 6 82 8 82 6 50 4 0 2 32 3 82 5 66 3 0 1 16 1 82 4 82 3 82 3 73 2 26 9 33 14 32 16 33 17 33 18"/>
<path d="M296 134l5 13 5 20 6 32 9 43 8 45 10 55 11 62 12 57 16 73 16 61 23 69 27 58 32 52 36 40 46 37 50 30 49 24 42 17 0 6 23 9 66 21 0 3 16 5 33 8 0 3 49 11 82 15 82 12 50 6 0 1 32 4 82 6 66 5 0 2 16 1 82 4 82 3 82 2 73 2 26 8 33 15 32 15 33 17 33 18"/>
<path d="M296 134l5 17 5 24 6 34 9 42 8 43 10 52 11 66 12 67 16 85 16 71 23 75 27 60 32 50 36 36 46 31 50 25 49 22 42 15 0 4 23 8 66 20 0 5 16 4 33 8 0 5 49 11 82 13 82 9 50 5 0 6 32 3 82 4 66 2 0 2 16 1 82 1 82 1 82 1 73 0 26 8 33 14 32 15 33 16 33 17"/>
<path d="M296 134l5 16 5 26 6 38 9 51 8 51 10 58 11 64 12 63 16 78 16 66 23 75 27 64 32 59 36 45 46 38 50 27 49 18 42 11 0 4 23 4 66 10 0 4 16 2 33 3 0 3 49 4 82 5 82 4 50 2 0 7 32 1 82 3 66 2 0 2 16 1 82 2 82 3 82 3 73 2 26 9 33 14 32 16 33 17 33 18"/>
<path d="M296 134l5 11 5 21 6 38 9 56 8 56 10 64 11 61 12 50 16 61 16 52 23 63 27 61 32 60 36 50 46 45 50 31 49 20 42 12 0 6 23 5 66 11 0 5 16 3 33 4 0 6 49 6 82 9 82 9 50 6 0 3 32 4 82 9 66 7 0 2 16 2 82 8 82 7 82 6 73 5 26 9 33 15 32 16 33 16 33 18"/>
<path d="M296 134l5 10 5 17 6 28 9 36 8 36 10 43 11 56 12 59 16 81 16 71 23 81 27 69 32 58 36 42 46 34 50 25 49 20 42 16 0 2 23 8 66 21 16 5 33 10 0 2 49 13 82 19 82 16 50 7 0 1 32 5 82 9 66 5 0 2 16 1 82 5 82 3 82 2 73 1 26 8 33 14 32 15 33 16 33 17"/>
<path d="M296 134l5 16 5 25 6 39 9 51 8 51 10 57 11 63 12 57 16 72 16 60 23 67 27 57 32 51 36 40 46 37 50 29 49 23 42 16 0 2 23 7 66 18 0 3 16 4 33 7 0 5 49 9 82 12 82 9 50 4 0 6 32 2 82 4 66 2 0 3 16 1 82 1 82 2 82 0 73 1 26 8 33 14 32 15 33 17 33 17"/>
<path d="M296 134l5 11 5 21 6 35 9 51 8 54 10 66 11 73 12 65 16 76 16 60 23 66 27 56 32 53 36 44 46 42 50 32 49 24 42 16 23 7 66 14 0 1 16 3 33 5 0 3 49 5 82 6 82 4 50 1 0 4 32 1 82 1 66 1 0 3 16 1 82 1 82 1 82 1 73 2 26 8 33 15 32 16 33 17 33 17"/>
<path d="M296 134l5 17 5 32 6 52 9 69 8 67 10 72 11 68 12 55 16 66 16 54 23 61 27 53 32 48 36 38 46 33 50 24 49 16 42 11 0 2 23 5 66 11 0 3 16 2 33 4 0 7 49 5 82 8 82 6 50 3 0 4 32 2 82 4 66 2 0 3 16 0 82 2 82 1 82 1 73 0 26 8 33 14 32 15 33 16 33 17"/>
<path d="M296 134l5 8 5 15 6 25 9 36 8 42 10 53 11 66 12 63 16 78 16 64 23 71 27 60 32 57 36 46 46 45 50 36 49 27 42 19 0 3 23 9 66 20 16 4 33 7 0 3 49 8 82 11 82 6 50 3 0 4 32 1 82 3 66 2 0 3 16 1 82 1 82 1 82 1 73 1 26 9 33 14 32 16 33 17 33 18"/>
<path d="M296 134l5 15 5 27 6 45 9 63 8 64 10 72 11 71 12 59 16 69 16 56 23 62 27 53 32 50 36 40 46 35 50 25 49 17 42 10 0 3 23 5 66 9 0 2 16 2 33 3 0 3 49 4 82 5 82 4 50 2 0 5 32 2 82 3 66 2 0 1 16 0 82 3 82 3 82 2 73 2 26 9 33 15 32 16 33 18 33 18"/>
<path d="M296 134l5 12 5 19 6 31 9 41 8 39 10 45 11 48 12 47 16 65 16 60 23 72 27 67 32 64 36 52 46 48 50 38 49 28 42 19 0 6 23 9 66 20 0 4 16 4 33 8 0 2 49 10 82 12 82 9 50 4 0 2 32 3 82 4 66 2 0 2 16 1 82 2 82 1 82 1 73 1 26 9 33 14 32 15 33 17 33 18"/>
<path d="M296 134l5 9 5 20 6 35 9 53 8 54 10 62 11 62 12 53 16 66 16 57 23 66 27 61 32 59 36 48 46 44 50 32 49 24 42 14 0 3 23 7 66 14 0 4 16 3 33 5 49 7 82 7 82 6 50 3 0 3 32 2 82 3 66 2 0 3 16 0 82 2 82 1 82 1 73 1 26 9 33 14 32 16 33 17 33 18"/>
<path d="M296 134l5 10 5 16 6 28 9 40 8 47 10 64 11 80 12 78 16 94 16 72 23 73 27 55 32 44 36 30 46 26 50 22 49 17 42 13 0 5 23 7 66 16 0 2 16 3 33 7 0 6 49 8 82 11 82 7 50 3 0 2 32 2 82 3 66 2 0 2 16 1 82 1 82 1 82 1 73 0 26 9 33 14 32 16 33 17 33 17"/>
<path d="M296 134l5 19 5 30 6 45 9 55 8 51 10 58 11 65 12 63 16 82 16 68 23 74 27 59 32 46 36 29 46 19 50 11 49 9 42 6 0 2 23 4 66 11 0 3 16 3 33 6 0 3 49 9 82 14 82 13 50 7 0 5 32 4 82 9 66 5 0 1 16 1 82 5 82 3 82 3 73 1 26 9 33 14 32 16 33 16 33 18"/>
<path d="M296 134l5 15 5 25 6 39 9 54 8 55 10 62 11 66 12 59 16 73 16 60 23 68 27 58 32 52 36 40 46 35 50 25 49 16 42 11 0 6 23 4 66 10 0 2 16 1 33 4 0 6 49 4 82 5 82 5 50 2 0 1 32 2 82 3 66 2 0 2 16 0 82 3 82 2 82 3 73 2 26 9 33 15 32 17 33 18 33 19"/>
<path d="M296 134l5 15 5 24 6 37 9 50 8 49 10 58 11 66 12 64 16 80 16 67 23 75 27 64 32 56 36 41 46 34 50 22 49 14 42 8 0 2 23 3 66 7 0 4 16 1 33 2 0 2 49 3 82 4 82 4 50 2 0 6 32 2 82 3 66 3 0 1 16 1 82 3 82 3 82 3 73 3 26 9 33 15 32 17 33 18 33 19"/>
<path d="M296 134l5 7 5 12 6 22 9 34 8 41 10 55 11 69 12 63 16 75 16 61 23 64 27 54 32 50 36 42 46 42 50 36 49 28 42 21 0 3 23 10 66 22 0 5 16 4 33 8 0 5 49 10 82 12 82 7 50 3 0 6 32 2 82 3 66 2 0 1 16 1 82 1 82 2 82 1 73 1 26 9 33 14 32 17 33 17 33 19"/>
<path d="M296 134l5 13 5 23 6 39 9 54 8 53 10 60 11 61 12 55 16 69 16 59 23 69 27 61 32 56 36 44 46 37 50 26 49 18 42 10 0 1 23 4 66 11 0 5 16 2 33 4 0 2 49 5 82 8 82 6 50 4 0 6 32 3 82 4 66 4 16 1 82 3 82 3 82 2 73 2 26 9 33 15 32 16 33 18 33 18"/>
<path d="M296 134l5 8 5 17 6 31 9 50 8 56 10 67 11 67 12 54 16 62 16 52 23 59 27 55 32 55 36 47 46 46 50 36 49 25 42 15 0 2 23 6 66 13 0 3 16 2 33 4 0 8 49 4 82 4 82 2 50 1 32 1 82 2 66 2 0 2 16 1 82 2 82 3 82 3 73 2 26 10 33 16 32 17 33 19 33 19"/>
<path d="M296 134l5 14 5 22 6 34 9 44 8 42 10 49 11 55 12 53 16 71 16 61 23 70 27 60 32 53 36 42 46 38 50 30 49 24 42 18 0 3 23 9 66 19 0 4 16 5 33 7 0 1 49 9 82 10 82 7 50 2 0 6 32 1 82 2 66-1 0 1 16 0 82-1 82-2 82-1 73-1 26 8 33 14 32 17 33 17 33 19"/>
<path d="M296 134l5 12 5 18 6 28 9 38 8 39 10 47 11 55 12 54 16 71 16 61 23 70 27 60 32 54 36 43 46 38 50 30 49 23 42 16 0 5 23 8 66 18 0 1 16 5 33 7 0 6 49 10 82 13 82 10 50 4 0 4 32 2 82 6 66 3 0 2 16 1 82 3 82 2 82 2 73 1 26 10 33 14 32 17 33 18 33 18"/>
<path d="M296 134l5 8 5 15 6 24 9 34 8 36 10 43 11 52 12 53 16 72 16 63 23 76 27 70 32 67 36 55 46 49 50 37 49 25 42 16 0 4 23 7 66 14 0 2 16 2 33 4 0 1 49 5 82 4 82 3 50 1 0 4 32 1 82 0 66 1 0 3 16 1 82 0 82 0 82 1 73 1 26 9 33 16 32 17 33 18 33 20"/>
<path d="M296 134l5 3 5 6 6 14 9 27 8 37 10 53 11 64 12 58 16 70 16 57 23 65 27 59 32 60 36 51 46 49 50 39 49 27 42 17 0 2 23 7 66 16 0 3 16 3 33 5 0 3 49 7 82 7 82 7 50 3 0 8 32 2 82 6 66 5 0 3 16 2 82 5 82 6 82 5 73 5 26 10 33 17 32 18 33 19 33 20"/>
<path d="M296 134l5 10 5 17 6 30 9 39 8 38 10 42 11 48 12 49 16 68 16 63 23 77 27 69 32 65 36 49 46 42 50 29 49 20 42 13 0 1 23 6 66 15 0 6 16 3 33 6 0 2 49 7 82 11 82 9 50 5 0 7 32 3 82 5 66 4 0 1 16 0 82 4 82 2 82 2 73 1 26 9 33 15 32 16 33 18 33 18"/>
<path d="M296 134l5 5 5 14 6 25 9 37 8 40 10 48 11 55 12 52 16 70 16 62 23 73 27 66 32 62 36 49 46 43 50 31 49 22 42 15 0 4 23 7 66 16 0 1 16 4 33 6 0 7 49 8 82 11 82 8 50 4 32 3 82 4 66 3 0 3 16 1 82 2 82 2 82 1 73 0 26 9 33 14 32 17 33 17 33 19"/>
<path d="M296 134l5 9 5 14 6 24 9 33 8 34 10 41 11 47 12 47 16 65 16 60 23 74 27 68 32 65 36 54 46 48 50 36 49 25 42 17 0 4 23 7 66 17 0 3 16 4 33 6 49 8 82 10 82 7 50 3 0 1 32 3 82 4 66 3 0 1 16 1 82 3 82 2 82 2 73 2 26 10 33 15 32 17 33 19 33 19"/>
<path d="M296 134l5 5 5 7 6 11 9 22 8 31 10 47 11 65 12 65 16 78 16 62 23 66 27 58 32 55 36 48 46 49 50 42 49 32 42 22 0 6 23 10 66 21 0 4 16 4 33 6 0 6 49 7 82 7 82 4 50 2 0 6 32 1 82 1 66 1 0 2 16 0 82 1 82 2 82 2 73 3 26 9 33 16 32 17 33 19 33 19"/>
<path d="M296 134l5 2 5 14 6 30 9 48 8 51 10 57 11 53 12 40 16 52 16 47 23 61 27 63 32 65 36 56 46 52 50 38 49 25 42 16 0 2 23 6 66 15 0 2 16 2 33 6 0 4 49 7 82 10 82 8 50 4 0 8 32 2 82 7 66 4 0 1 16 1 82 4 82 4 82 2 73 2 26 9 33 15 32 16 33 17 33 18"/>
<path d="M296 134l5 8 5 13 6 21 9 29 8 32 10 42 11 52 12 52 16 67 16 57 23 66 27 60 32 58 36 48 46 47 50 39 49 29 42 20 0 4 23 9 66 21 0 4 16 4 33 8 49 10 82 12 82 8 50 4 0 3 32 2 82 4 66 3 0 2 16 1 82 2 82 3 82 2 73 2 26 10 33 15 32 17 33 19 33 19"/>
</g>
<g fill="none" stroke="#000" stroke-width="5.5" stroke-opacity="0.20" transform="scale(.1)">
<path d="M296 134l5 8 5 15 6 25 9 31 8 28 10 30 11 32 12 39 16 61 16 61 23 79 27 75 32 70 36 53 46 42 50 29 49 20 42 13 0 2 23 6 66 17 0 4 16 4 33 7 0 1 49 11 82 18 82 15 50 8 0 3 32 5 82 10 66 7 0 3 16 2 82 6 82 4 82 3 73 2 26 9 33 15 32 17 33 18 33 18"/>
<path d="M296 134l5 4 5 6 6 10 9 15 8 19 10 27 11 38 12 41 16 57 16 53 23 66 27 62 32 61 36 52 46 48 50 37 49 27 42 17 0 7 23 8 66 18 0 2 16 4 33 6 0 3 49 8 82 11 82 8 50 4 0 4 32 2 82 6 66 4 0 3 16 1 82 4 82 4 82 4 73 3 26 11 33 17 32 19 33 21 33 21"/>
<path d="M296 134l5 1 5 7 6 18 9 31 8 36 10 44 11 47 12 38 16 48 16 41 23 51 27 48 32 50 36 44 46 43 50 34 49 25 42 17 0 1 23 8 66 18 0 1 16 4 33 7 0 7 49 9 82 12 82 10 50 5 0 4 32 3 82 7 66 4 0 2 16 0 82 4 82 3 82 3 73 1 26 10 33 16 32 19 33 19 33 20"/>
<path d="M296 134l5 4 5 10 6 23 9 36 8 38 10 39 11 32 12 23 16 31 16 33 23 48 27 56 32 64 36 60 46 57 50 43 49 28 42 16 0 1 23 6 66 13 0 4 16 2 33 3 0 4 49 4 82 5 82 4 50 3 0 1 32 1 82 5 66 3 0 2 16 1 82 5 82 4 82 3 73 3 26 11 33 17 32 19 33 20 33 22"/>
<path d="M296 134l5 6 5 8 6 12 9 17 8 20 10 27 11 34 12 36 16 50 16 46 23 55 27 49 32 47 36 39 46 37 50 31 49 25 42 19 0 5 23 9 66 23 0 5 16 5 33 9 0 7 49 12 82 16 82 12 50 5 0 9 32 4 82 6 66 5 0 4 16 1 82 4 82 3 82 2 73 2 26 11 33 17 32 19 33 20 33 22"/>
<path d="M296 134l5 2 5 5 6 11 9 18 8 22 10 29 11 33 12 29 16 41 16 38 23 49 27 49 32 51 36 46 46 45 50 37 49 29 42 20 0 2 23 10 66 22 0 3 16 4 33 9 0 5 49 12 82 15 82 11 50 6 0 8 32 3 82 7 66 5 16 1 82 4 82 3 82 3 73 2 26 10 33 17 32 19 33 20 33 22"/>
<path d="M296 134l5 6 5 9 6 17 9 22 8 21 10 25 11 30 12 36 16 53 16 52 23 67 27 62 32 60 36 45 46 38 50 25 49 17 42 10 0 8 23 5 66 11 0 2 16 2 33 5 0 7 49 6 82 10 82 8 50 5 0 8 32 3 82 6 66 4 0 4 16 1 82 4 82 3 82 2 73 2 26 10 33 17 32 18 33 20 33 21"/>
<path d="M296 134l5 6 5 12 6 17 9 21 8 17 10 13 11 12 12 18 16 34 16 40 23 58 27 58 32 59 36 46 46 40 50 29 49 22 42 16 0 8 23 9 66 22 0 5 16 5 33 10 0 6 49 16 82 23 82 20 50 10 0 6 32 7 82 13 66 8 0 1 16 2 82 7 82 5 82 3 73 1 26 10 33 16 32 18 33 19 33 21"/>
<path d="M296 134l5 4 5 10 6 16 9 18 8 15 10 14 11 16 12 23 16 44 16 48 23 66 27 67 32 64 36 48 46 39 50 24 49 17 42 11 0 4 23 6 66 15 0 7 16 4 33 7 0 3 49 11 82 18 82 15 50 8 0 8 32 5 82 11 66 7 16 2 82 6 82 4 82 3 73 1 26 10 33 17 32 18 33 19 33 21"/>
<path d="M296 134l5 1 5 4 6 13 9 23 8 29 10 38 11 41 12 30 16 36 16 30 23 35 27 34 32 37 36 37 46 41 50 37 49 32 42 22 0 2 23 10 66 26 0 6 16 6 33 9 0 7 49 12 82 15 82 9 50 5 0 5 32 3 82 4 66 3 0 3 16 0 82 2 82 2 82 1 73 0 26 11 33 17 32 19 33 20 33 22"/>
<path d="M296 134l5 1 5 1 6 3 9 6 8 9 10 17 11 31 12 36 16 52 16 47 23 58 27 53 32 52 36 43 46 40 50 32 49 25 42 17 0 10 23 8 66 19 0 5 16 4 33 8 0 6 49 10 82 15 82 11 50 6 0 8 32 4 82 7 66 6 0 3 16 1 82 5 82 5 82 4 73 3 26 11 33 17 32 19 33 21 33 21"/>
<path d="M296 134l5 14 5 25 6 39 9 51 8 46 10 47 11 46 12 44 16 62 16 59 23 73 27 69 32 65 36 50 46 41 50 24 49 14 42 7 0 7 23 2 66 6 0 3 16 1 33 2 0 6 49 3 82 6 82 6 50 4 0 8 32 3 82 6 66 5 0 1 16 1 82 5 82 5 82 4 73 3 26 10 33 15 32 17 33 18 33 19"/>
<path d="M296 134l5 8 5 14 6 21 9 28 8 29 10 38 11 52 12 57 16 79 16 69 23 78 27 65 32 56 36 40 46 33 50 24 49 20 42 14 0 2 23 7 66 19 0 2 16 4 33 9 0 8 49 11 82 16 82 13 50 6 0 2 32 4 82 7 66 4 0 2 16 1 82 4 82 2 82 2 73 0 26 9 33 15 32 17 33 18 33 18"/>
<path d="M296 134l5 0 5 2 6 7 9 12 8 14 10 17 11 22 12 26 16 41 16 45 23 62 27 67 32 70 36 59 46 52 50 34 49 20 42 10 0 9 23 4 66 7 0 6 16 1 33 1 0 7 49 2 82 4 82 4 50 3 0 9 32 2 82 5 66 5 16 2 82 5 82 5 82 4 73 4 26 11 33 18 32 20 33 21 33 22"/>
<path d="M296 134l5 9 5 19 6 36 9 52 8 57 10 67 11 67 12 52 16 62 16 50 23 54 27 47 32 44 36 36 46 34 50 28 49 22 42 15 0 1 23 7 66 17 0 5 16 4 33 6 0 2 49 8 82 11 82 9 50 4 0 6 32 2 82 5 66 2 0 1 16 0 82 3 82 2 82 1 73 1 26 9 33 15 32 17 33 18 33 19"/>
<path d="M296 134l5 6 5 8 6 14 9 23 8 31 10 48 11 66 12 66 16 81 16 65 23 66 27 52 32 45 36 35 46 36 50 32 49 28 42 21 0 1 23 11 66 24 0 5 16 6 33 9 0 4 49 12 82 14 82 9 50 4 0 7 32 2 82 3 66 2 0 3 16 0 82 1 82 1 82 0 73 1 26 9 33 15 32 17 33 18 33 20"/>
<path d="M296 134l5 5 5 10 6 19 9 26 8 29 10 37 11 46 12 51 16 71 16 66 23 79 27 73 32 67 36 52 46 43 50 29 49 20 42 13 0 3 23 6 66 14 0 2 16 3 33 6 0 4 49 7 82 11 82 10 50 4 0 10 32 3 82 6 66 4 0 4 16 1 82 5 82 3 82 3 73 2 26 9 33 16 32 17 33 18 33 19"/>
<path d="M296 134l5 10 5 19 6 33 9 45 8 44 10 48 11 47 12 42 16 56 16 53 23 64 27 61 32 61 36 48 46 44 50 31 49 22 42 14 0 7 23 6 66 14 0 6 16 3 33 5 0 6 49 7 82 10 82 8 50 5 0 5 32 2 82 6 66 3 0 1 16 0 82 4 82 2 82 2 73 1 26 10 33 15 32 16 33 18 33 19"/>
<path d="M296 134l5 1 5 4 6 9 9 15 8 18 10 24 11 25 12 21 16 30 16 29 23 39 27 42 32 48 36 46 46 48 50 40 49 31 42 22 0 3 23 10 66 23 0 10 16 5 33 8 0 9 49 11 82 14 82 11 50 5 0 10 32 3 82 6 66 5 0 1 16 1 82 4 82 4 82 3 73 2 26 11 33 17 32 19 33 21 33 22"/>
<path d="M296 134l5 1 5 8 6 17 9 32 8 40 10 53 11 58 12 48 16 58 16 48 23 56 27 54 32 54 36 49 46 49 50 40 49 30 42 20 0 7 23 8 66 20 0 5 16 4 33 7 0 5 49 9 82 10 82 9 50 4 0 3 32 3 82 5 66 4 0 2 16 1 82 4 82 4 82 3 73 2 26 10 33 16 32 17 33 19 33 20"/>
<path d="M296 134l5 5 5 13 6 26 9 41 8 44 10 53 11 57 12 50 16 64 16 56 23 67 27 62 32 59 36 48 46 42 50 28 49 19 42 12 0 2 23 5 66 11 0 5 16 2 33 4 0 2 49 6 82 7 82 8 50 4 0 6 32 3 82 6 66 5 0 3 16 1 82 5 82 4 82 4 73 3 26 9 33 16 32 17 33 19 33 19"/>
<path d="M296 134l5 8 5 17 6 29 9 42 8 45 10 53 11 58 12 55 16 68 16 58 23 66 27 58 32 54 36 43 46 39 50 29 49 21 42 14 0 5 23 6 66 14 0 6 16 3 33 5 0 1 49 7 82 7 82 6 50 3 0 6 32 2 82 3 66 2 0 1 16 1 82 2 82 1 82 1 73 1 26 9 33 15 32 17 33 18 33 19"/>
<path d="M296 134l5 4 5 11 6 19 9 31 8 35 10 44 11 50 12 48 16 62 16 55 23 66 27 61 32 61 36 51 46 47 50 35 49 25 42 16 0 3 23 6 66 15 0 2 16 3 33 5 0 7 49 6 82 9 82 6 50 3 0 1 32 2 82 4 66 3 0 2 16 1 82 3 82 4 82 2 73 3 26 10 33 16 32 19 33 19 33 21"/>
<path d="M296 134l5 5 5 11 6 19 9 25 8 27 10 34 11 45 12 48 16 68 16 62 23 71 27 62 32 53 36 40 46 34 50 27 49 23 42 18 0 6 23 9 66 25 0 7 16 6 33 11 0 4 49 15 82 22 82 17 50 8 0 9 32 5 82 9 66 6 0 1 16 1 82 4 82 2 82 1 73 0 26 9 33 15 32 16 33 17 33 19"/>
<path d="M296 134l5 7 5 10 6 18 9 28 8 32 10 43 11 50 12 46 16 57 16 47 23 53 27 48 32 49 36 45 46 48 50 44 49 36 42 27 0 1 23 13 66 30 0 2 16 6 33 11 0 3 49 14 82 17 82 11 50 5 0 6 32 3 82 4 66 2 0 2 16 0 82 2 82 1 82 0 73 1 26 9 33 15 32 18 33 18 33 20"/>
<path d="M296 134l5 5 5 12 6 21 9 34 8 36 10 42 11 46 12 43 16 58 16 56 23 70 27 69 32 69 36 57 46 48 50 31 49 19 42 9 0 4 23 3 66 7 16 1 33 2 0 8 49 3 82 4 82 5 50 4 0 9 32 3 82 6 66 5 0 4 16 1 82 7 82 6 82 5 73 5 26 11 33 17 32 19 33 19 33 21"/>
<path d="M296 134l5 0 5 2 6 10 9 21 8 27 10 33 11 29 12 17 16 18 16 16 23 25 27 34 32 47 36 52 46 59 50 50 49 37 42 24 0 7 23 10 66 20 0 6 16 3 33 6 0 2 49 6 82 7 82 3 50 2 0 5 32 1 82 3 66 2 0 6 16 0 82 3 82 4 82 3 73 3 26 11 33 18 32 21 33 21 33 23"/>
<path d="M296 134l5 3 5 11 6 24 9 39 8 44 10 52 11 56 12 48 16 62 16 54 23 66 27 63 32 60 36 50 46 44 50 30 49 20 42 11 0 1 23 5 66 9 0 3 16 2 33 3 0 6 49 4 82 5 82 5 50 2 0 1 32 2 82 4 66 3 0 2 16 1 82 3 82 3 82 3 73 2 26 10 33 16 32 18 33 20 33 20"/>
<path d="M296 134l5 8 5 14 6 20 9 29 8 35 10 47 11 62 12 59 16 73 16 57 23 59 27 45 32 38 36 29 46 29 50 29 49 26 42 22 0 4 23 11 66 27 0 2 16 6 33 11 0 4 49 14 82 18 82 12 50 5 0 5 32 2 82 5 66 1 0 3 16 1 82 0 82 0 82-1 73-1 26 9 33 15 32 17 33 19 33 19"/>
<path d="M296 134l5 5 5 14 6 27 9 43 8 48 10 57 11 59 12 49 16 58 16 49 23 57 27 53 32 52 36 43 46 40 50 29 49 20 42 13 0 6 23 6 66 12 0 5 16 2 33 5 0 6 49 6 82 9 82 8 50 5 0 6 32 3 82 7 66 5 0 2 16 1 82 5 82 5 82 4 73 3 26 10 33 15 32 18 33 19 33 19"/>
<path d="M296 134l5 7 5 15 6 25 9 34 8 33 10 38 11 42 12 46 16 65 16 61 23 75 27 68 32 61 36 46 46 37 50 26 49 17 42 12 0 3 23 5 66 15 0 3 16 3 33 7 0 2 49 9 82 14 82 11 50 6 0 1 32 3 82 7 66 4 0 3 16 1 82 4 82 2 82 1 73 0 26 9 33 16 32 17 33 18 33 19"/>
<path d="M296 134l5 8 5 12 6 20 9 27 8 29 10 36 11 43 12 43 16 60 16 55 23 68 27 62 32 59 36 45 46 40 50 29 49 21 42 13 0 4 23 7 66 15 0 1 16 4 33 6 0 4 49 8 82 13 82 10 50 6 0 2 32 4 82 7 66 6 0 2 16 1 82 6 82 5 82 4 73 3 26 11 33 17 32 19 33 20 33 21"/>
<path d="M296 134l5 10 5 16 6 25 9 31 8 25 10 24 11 24 12 32 16 53 16 56 23 75 27 76 32 75 36 60 46 53 50 35 49 24 42 14 0 2 23 6 66 14 0 4 16 3 33 6 0 4 49 7 82 11 82 8 50 5 0 9 32 3 82 5 66 4 0 3 16 1 82 4 82 2 82 2 73 2 26 9 33 16 32 17 33 19 33 19"/>
<path d="M296 134l5 8 5 11 6 18 9 24 8 26 10 34 11 44 12 47 16 63 16 56 23 68 27 63 32 61 36 50 46 45 50 33 49 23 42 15 0 2 23 6 66 14 0 2 16 2 33 5 0 9 49 5 82 7 82 6 50 3 0 1 32 2 82 4 66 3 0 4 16 1 82 4 82 4 82 4 73 3 26 11 33 18 32 19 33 21 33 21"/>
<path d="M296 134l5 8 5 15 6 25 9 33 8 35 10 44 11 54 12 57 16 76 16 66 23 74 27 60 32 52 36 36 46 29 50 21 49 16 42 12 0 2 23 6 66 15 0 6 16 4 33 6 0 5 49 9 82 12 82 9 50 4 0 8 32 3 82 4 66 2 0 3 16 1 82 1 82 0 82 0 73 0 26 9 33 15 32 16 33 18 33 19"/>
<path d="M296 134l5 3 5 3 6 1 9 0 8 4 10 12 11 30 12 42 16 59 16 51 23 57 27 49 32 44 36 36 46 38 50 34 49 30 42 22 0 4 23 10 66 24 0 3 16 5 33 8 0 8 49 10 82 9 82 2 50 0 0 12 32 0 82-4 66-3 0 1 16-1 82-5 82-4 82-3 73-2 26 10 33 16 32 18 33 21 33 21"/>
<path d="M296 134l5 8 5 14 6 21 9 30 8 32 10 40 11 54 12 59 16 80 16 69 23 79 27 66 32 56 36 39 46 29 50 17 49 11 42 7 0 1 23 3 66 8 0 6 16 2 33 4 0 6 49 6 82 9 82 8 50 4 0 7 32 3 82 6 66 5 0 2 16 1 82 4 82 4 82 4 73 2 26 11 33 16 32 17 33 19 33 20"/>
<path d="M296 134l5 6 5 10 6 16 9 23 8 27 10 35 11 46 12 48 16 66 16 58 23 69 27 62 32 59 36 48 46 42 50 31 49 22 42 14 0 2 23 7 66 14 0 2 16 3 33 6 0 5 49 7 82 9 82 7 50 4 0 1 32 2 82 6 66 4 0 1 16 1 82 4 82 5 82 3 73 4 26 10 33 17 32 20 33 20 33 21"/>
<path d="M296 134l5 6 5 12 6 20 9 26 8 27 10 35 11 46 12 52 16 74 16 66 23 76 27 63 32 54 36 37 46 31 50 23 49 18 42 15 0 1 23 8 66 20 0 5 16 5 33 9 0 1 49 12 82 18 82 14 50 7 0 3 32 4 82 6 66 4 0 3 16 0 82 2 82 0 82-1 73-1 26 8 33 15 32 16 33 18 33 18"/>
<path d="M296 134l5 6 5 11 6 17 9 22 8 22 10 25 11 36 12 45 16 66 16 62 23 76 27 69 32 62 36 46 46 38 50 27 49 20 42 14 0 5 23 7 66 18 0 3 16 4 33 8 0 6 49 11 82 17 82 14 50 7 0 1 32 4 82 8 66 5 0 2 16 1 82 4 82 3 82 1 73 1 26 9 33 16 32 17 33 18 33 20"/>
<path d="M296 134l5 9 5 15 6 23 9 32 8 36 10 45 11 53 12 52 16 66 16 53 23 60 27 52 32 48 36 41 46 40 50 33 49 25 42 18 0 8 23 8 66 18 16 4 33 7 0 8 49 8 82 10 82 6 50 3 0 9 32 2 82 2 66 2 0 3 16 0 82 2 82 1 82 1 73 2 26 9 33 16 32 17 33 19 33 19"/>
<path d="M296 134l5 8 5 17 6 30 9 44 8 45 10 52 11 54 12 46 16 56 16 48 23 55 27 49 32 47 36 39 46 38 50 31 49 24 42 16 0 2 23 8 66 18 0 2 16 4 33 7 0 1 49 8 82 10 82 7 50 3 0 8 32 2 82 2 66 2 0 3 16 0 82 0 82 0 82 0 73 0 26 9 33 15 32 18 33 18 33 20"/>
<path d="M296 134l5 8 5 10 6 14 9 19 8 21 10 31 11 44 12 50 16 68 16 61 23 72 27 62 32 57 36 44 46 39 50 29 49 20 42 15 0 5 23 6 66 15 0 6 16 3 33 6 0 4 49 7 82 10 82 7 50 4 0 9 32 2 82 5 66 4 0 4 16 1 82 4 82 4 82 3 73 3 26 11 33 17 32 19 33 20 33 21"/>
<path d="M296 134l5 1 5 7 6 20 9 38 8 47 10 59 11 59 12 44 16 48 16 38 23 45 27 45 32 50 36 48 46 49 50 39 49 29 42 19 0 6 23 8 66 17 0 1 16 4 33 5 0 3 49 6 82 9 82 7 50 4 0 1 32 2 82 6 66 5 0 3 16 1 82 5 82 5 82 5 73 4 26 10 33 17 32 18 33 20 33 20"/>
<path d="M296 134l5 1 5 8 6 17 9 31 8 37 10 48 11 56 12 53 16 70 16 61 23 72 27 65 32 62 36 48 46 39 50 25 49 14 42 7 23 3 66 4 0 7 16 1 33 1 0 6 49 2 82 4 82 5 50 3 0 8 32 2 82 6 66 5 0 2 16 2 82 6 82 6 82 5 73 4 26 11 33 16 32 19 33 19 33 20"/>
<path d="M296 134l5 9 5 17 6 24 9 29 8 24 10 25 11 29 12 38 16 63 16 63 23 81 27 75 32 68 36 49 46 38 50 24 49 16 42 10 23 5 66 12 0 5 16 3 33 5 0 6 49 8 82 11 82 10 50 5 0 9 32 2 82 6 66 3 0 1 16 1 82 2 82 1 82 0 73 0 26 9 33 16 32 17 33 19 33 19"/>
<path d="M296 134l5 2 5 9 6 19 9 34 8 41 10 53 11 60 12 51 16 63 16 52 23 60 27 52 32 49 36 38 46 35 50 27 49 19 42 12 0 5 23 6 66 14 0 6 16 3 33 5 0 5 49 7 82 10 82 8 50 4 0 10 32 2 82 6 66 4 0 3 16 1 82 4 82 4 82 2 73 2 26 10 33 16 32 18 33 19 33 20"/>
<path d="M296 134l5 1 5 2 6 3 9 5 8 7 10 14 11 23 12 28 16 41 16 39 23 50 27 48 32 48 36 43 46 41 50 33 49 25 42 17 0 9 23 7 66 17 0 10 16 3 33 6 0 11 49 7 82 8 82 5 50 2 0 6 32 1 82 3 66 1 0 6 16 0 82 1 82 2 82 1 73 2 26 10 33 17 32 20 33 20 33 22"/>
<path d="M296 134l5 1 5 6 6 15 9 30 8 38 10 49 11 53 12 43 16 51 16 44 23 54 27 53 32 57 36 49 46 48 50 35 49 23 42 14 0 6 23 5 66 11 0 3 16 2 33 4 0 4 49 4 82 6 82 5 50 3 0 3 32 3 82 5 66 5 0 1 16 1 82 7 82 6 82 6 73 5 26 11 33 18 32 20 33 20 33 22"/>
<path d="M296 134l5 6 5 8 6 12 9 17 8 20 10 27 11 35 12 36 16 49 16 45 23 56 27 54 32 56 36 50 46 51 50 43 49 33 42 23 0 2 23 11 66 24 0 6 16 5 33 8 0 5 49 11 82 13 82 10 50 4 0 11 32 2 82 6 66 4 0 3 16 1 82 4 82 4 82 4 73 3 26 11 33 17 32 19 33 20 33 21"/>
<path d="M296 134l5 3 5 9 6 19 9 33 8 36 10 44 11 44 12 37 16 48 16 44 23 58 27 58 32 62 36 53 46 50 50 35 49 22 42 13 0 4 23 5 66 11 0 7 16 2 33 3 0 2 49 4 82 5 82 6 50 4 0 2 32 2 82 7 66 5 16 1 82 6 82 6 82 5 73 4 26 11 33 18 32 19 33 20 33 22"/>
<path d="M296 134l5 0 5 3 6 11 9 25 8 33 10 45 11 53 12 47 16 57 16 48 23 56 27 53 32 56 36 50 46 51 50 42 49 31 42 21 0 3 23 9 66 19 0 4 16 4 33 6 0 9 49 7 82 7 82 3 50 2 0 4 32 0 82 1 66 1 0 3 16 0 82 0 82 1 82 1 73 0 26 10 33 16 32 18 33 19 33 21"/>
<path d="M296 134l5 8 5 11 6 19 9 27 8 28 10 37 11 46 12 48 16 67 16 59 23 70 27 62 32 57 36 45 46 39 50 28 49 19 42 12 0 4 23 6 66 11 0 1 16 2 33 4 0 1 49 5 82 5 82 4 50 1 0 2 32 1 82 2 66 1 0 3 16 0 82 2 82 1 82 2 73 1 26 11 33 17 32 19 33 20 33 21"/>
<path d="M296 134l5 5 5 10 6 15 9 22 8 25 10 32 11 40 12 43 16 61 16 55 23 67 27 61 32 58 36 47 46 43 50 34 49 25 42 17 0 6 23 8 66 18 0 1 16 3 33 7 0 9 49 8 82 10 82 6 50 3 0 3 32 2 82 2 66 1 0 4 16 0 82 1 82 1 82 0 73 0 26 10 33 16 32 18 33 19 33 21"/>
<path d="M296 134l5 9 5 17 6 26 9 35 8 33 10 38 11 42 12 43 16 60 16 57 23 68 27 64 32 59 36 45 46 38 50 24 49 14 42 8 0 7 23 3 66 6 0 4 16 1 33 2 0 1 49 2 82 2 82 3 50 1 32 1 82 2 66 1 0 2 16 0 82 2 82 1 82 1 73 2 26 10 33 17 32 19 33 21 33 22"/>
<path d="M296 134l5 2 5 6 6 14 9 22 8 26 10 32 11 36 12 34 16 47 16 44 23 58 27 56 32 57 36 47 46 44 50 34 49 25 42 18 0 2 23 8 66 21 0 7 16 5 33 9 0 6 49 12 82 18 82 15 50 8 0 2 32 4 82 11 66 7 0 1 16 1 82 7 82 6 82 4 73 2 26 11 33 16 32 18 33 20 33 20"/>
<path d="M296 134l5 6 5 10 6 15 9 21 8 24 10 33 11 43 12 45 16 63 16 57 23 65 27 58 32 54 36 42 46 38 50 29 49 22 42 16 0 4 23 7 66 17 0 8 16 4 33 6 0 3 49 8 82 10 82 6 50 3 0 8 32 2 82 3 66 2 0 1 16 1 82 1 82 1 82 2 73 1 26 10 33 16 32 19 33 20 33 21"/>
<path d="M296 134l5 9 5 14 6 21 9 29 8 33 10 41 11 51 12 49 16 61 16 51 23 57 27 48 32 45 36 36 46 35 50 28 49 22 42 16 0 7 23 7 66 17 0 5 16 3 33 6 0 5 49 7 82 9 82 6 50 3 32 2 82 3 66 2 16 1 82 2 82 2 82 1 73 2 26 10 33 17 32 19 33 20 33 22"/>
<path d="M296 134l5 0 5 0 6 3 9 8 8 11 10 18 11 23 12 24 16 33 16 31 23 39 27 39 32 41 36 37 46 37 50 32 49 25 42 18 0 6 23 8 66 21 0 5 16 5 33 8 49 12 82 15 82 12 50 6 0 12 32 3 82 8 66 4 0 5 16 1 82 4 82 4 82 2 73 2 26 10 33 17 32 19 33 20 33 21"/>
<path d="M296 134l5 1 5 4 6 9 9 18 8 25 10 37 11 46 12 42 16 51 16 45 23 51 27 48 32 49 36 43 46 44 50 35 49 28 42 19 0 7 23 9 66 20 0 1 16 4 33 8 0 5 49 10 82 14 82 11 50 5 0 5 32 4 82 8 66 5 0 4 16 2 82 6 82 5 82 5 73 4 26 12 33 17 32 20 33 20 33 22"/>
<path d="M296 134l5 8 5 10 6 16 9 21 8 21 10 26 11 32 12 35 16 50 16 47 23 59 27 57 32 56 36 48 46 45 50 36 49 26 42 18 0 7 23 8 66 18 0 4 16 3 33 7 0 10 49 8 82 11 82 8 50 4 0 3 32 2 82 5 66 3 0 2 16 1 82 3 82 3 82 2 73 2 26 11 33 17 32 19 33 20 33 22"/>
<path d="M296 134l5 1 5 5 6 13 9 26 8 33 10 42 11 45 12 34 16 39 16 32 23 38 27 39 32 43 36 42 46 47 50 41 49 34 42 24 0 6 23 11 66 26 0 6 16 6 33 9 0 7 49 12 82 16 82 12 50 5 0 3 32 4 82 7 66 5 0 3 16 1 82 5 82 4 82 3 73 2 26 11 33 17 32 18 33 21 33 21"/>
<path d="M296 134l5 7 5 8 6 11 9 15 8 14 10 17 11 21 12 26 16 43 16 45 23 61 27 65 32 68 36 61 46 58 50 44 49 32 42 20 0 6 23 9 66 18 0 1 16 4 33 6 0 3 49 7 82 8 82 5 50 2 0 7 32 1 82 3 66 2 0 3 16 1 82 2 82 2 82 2 73 3 26 10 33 18 32 20 33 20 33 22"/>
<path d="M296 134l5 6 5 10 6 17 9 28 8 35 10 49 11 58 12 51 16 61 16 48 23 49 27 40 32 36 36 32 46 32 50 29 49 23 42 17 0 1 23 8 66 18 0 5 16 4 33 6 0 2 49 7 82 9 82 5 50 2 0 8 32 1 82 2 66 1 0 1 16 1 82 1 82 1 82 2 73 2 26 11 33 17 32 20 33 21 33 21"/>
<path d="M296 134l5 2 5 4 6 9 9 18 8 26 10 38 11 52 12 51 16 63 16 53 23 58 27 51 32 50 36 43 46 43 50 37 49 27 42 19 0 3 23 8 66 18 0 1 16 3 33 6 0 7 49 6 82 6 82 3 50 0 0 10 32 0 82 0 66 0 0 3 16 0 82 0 82 0 82 1 73 1 26 11 33 16 32 19 33 20 33 22"/>
<path d="M296 134l5 4 5 5 6 6 9 5 8 4 10 4 11 12 12 24 16 41 16 43 23 57 27 56 32 54 36 42 46 34 50 24 49 16 42 10 0 6 23 4 66 12 0 1 16 2 33 5 0 1 49 7 82 11 82 9 50 5 0 7 32 3 82 7 66 4 0 4 16 1 82 4 82 3 82 2 73 2 26 11 33 17 32 18 33 21 33 21"/>
<path d="M296 134l5 7 5 13 6 21 9 28 8 26 10 29 11 34 12 37 16 58 16 56 23 72 27 68 32 63 36 46 46 36 50 21 49 12 42 6 0 7 23 3 66 5 0 3 16 1 33 2 0 6 49 4 82 5 82 5 50 3 0 7 32 2 82 5 66 3 16 1 82 3 82 3 82 2 73 1 26 11 33 17 32 19 33 21 33 21"/>
<path d="M296 134l5 0 5 0 6 6 9 15 8 19 10 27 11 28 12 23 16 28 16 26 23 33 27 34 32 38 36 35 46 36 50 29 49 22 42 16 0 6 23 7 66 17 0 1 16 4 33 6 0 8 49 9 82 12 82 10 50 5 0 7 32 3 82 7 66 5 0 3 16 1 82 5 82 4 82 3 73 2 26 10 33 17 32 19 33 20 33 21"/>
<path d="M296 134l5 4 5 8 6 11 9 15 8 14 10 18 11 28 12 36 16 54 16 54 23 67 27 62 32 57 36 45 46 38 50 30 49 22 42 17 0 6 23 8 66 20 0 1 16 5 33 8 0 6 49 12 82 16 82 12 50 6 0 6 32 3 82 7 66 3 0 3 16 1 82 2 82 2 82 1 73 0 26 10 33 16 32 18 33 20 33 20"/>
<path d="M296 134l5 5 5 8 6 13 9 20 8 22 10 29 11 38 12 42 16 60 16 55 23 66 27 62 32 57 36 45 46 39 50 27 49 18 42 11 0 1 23 5 66 11 0 2 16 3 33 4 0 8 49 6 82 7 82 5 50 3 0 9 32 2 82 4 66 3 0 5 16 1 82 3 82 3 82 2 73 3 26 10 33 17 32 20 33 20 33 21"/>
<path d="M296 134l5 3 5 8 6 15 9 24 8 27 10 34 11 39 12 39 16 52 16 49 23 60 27 56 32 55 36 46 46 41 50 31 49 22 42 14 0 8 23 6 66 13 0 2 16 2 33 5 0 3 49 5 82 7 82 4 50 1 0 2 32 1 82 1 66 1 0 4 16 0 82 0 82 1 82 0 73 0 26 11 33 17 32 19 33 20 33 22"/>
<path d="M296 134l5 2 5 8 6 17 9 28 8 31 10 34 11 32 12 25 16 35 16 36 23 50 27 54 32 58 36 50 46 46 50 31 49 20 42 12 23 5 66 12 0 2 16 2 33 5 0 2 49 7 82 11 82 12 50 7 0 4 32 5 82 11 66 8 0 5 16 2 82 9 82 9 82 7 73 5 26 11 33 19 32 19 33 22 33 21"/>
<path d="M296 134l5 1 5 1 6 0 9 3 8 8 10 17 11 31 12 35 16 47 16 39 23 44 27 37 32 33 36 29 46 30 50 28 49 25 42 18 0 7 23 9 66 20 0 4 16 4 33 7 0 7 49 9 82 8 82 4 50 0 0 4 32-1 82-2 66-2 0 2 16 0 82-3 82-3 82-2 73-2 26 10 33 16 32 19 33 20 33 21"/>
<path d="M296 134l5 5 5 8 6 13 9 19 8 22 10 28 11 34 12 34 16 49 16 45 23 55 27 54 32 53 36 46 46 43 50 35 49 25 42 18 0 1 23 8 66 18 0 4 16 3 33 7 0 2 49 9 82 11 82 8 50 4 0 5 32 2 82 5 66 3 0 5 16 1 82 3 82 3 82 3 73 2 26 10 33 17 32 19 33 21 33 21"/>
<path d="M296 134l5 0 5 1 6 9 9 17 8 20 10 27 11 30 12 31 16 45 16 46 23 61 27 62 32 65 36 55 46 49 50 33 49 22 42 14 0 3 23 6 66 12 0 8 16 2 33 5 0 7 49 6 82 9 82 8 50 5 0 4 32 3 82 8 66 5 0 2 16 1 82 6 82 4 82 4 73 3 26 11 33 17 32 19 33 20 33 22"/>
<path d="M296 134l5 9 5 14 6 21 9 25 8 20 10 20 11 22 12 29 16 48 16 51 23 67 27 64 32 60 36 47 46 37 50 25 49 16 42 11 0 6 23 5 66 13 0 2 16 3 33 5 0 1 49 8 82 11 82 10 50 5 0 4 32 3 82 6 66 4 0 1 16 0 82 3 82 2 82 1 73 0 26 10 33 17 32 18 33 20 33 21"/>
<path d="M296 134l5 0 5 3 6 10 9 21 8 28 10 39 11 43 12 39 16 49 16 44 23 54 27 53 32 55 36 46 46 41 50 28 49 18 42 9 0 2 23 4 66 7 0 8 16 1 33 2 0 5 49 3 82 6 82 6 50 5 0 13 32 3 82 8 66 6 0 3 16 2 82 8 82 8 82 7 73 6 26 12 33 18 32 21 33 21 33 22"/>
<path d="M296 134l5 1 5 4 6 8 9 15 8 22 10 31 11 41 12 39 16 49 16 42 23 49 27 45 32 46 36 39 46 39 50 32 49 25 42 18 0 7 23 8 66 19 0 7 16 4 33 7 0 2 49 9 82 12 82 10 50 5 0 1 32 3 82 7 66 5 0 4 16 1 82 6 82 5 82 4 73 4 26 11 33 18 32 20 33 22 33 22"/>
<path d="M296 134l5 2 5 3 6 6 9 9 8 11 10 15 11 18 12 19 16 28 16 27 23 36 27 37 32 40 36 36 46 37 50 29 49 23 42 16 0 10 23 7 66 16 0 4 16 3 33 6 0 1 49 7 82 10 82 7 50 4 32 2 82 4 66 3 0 5 16 0 82 3 82 3 82 2 73 2 26 11 33 17 32 20 33 20 33 22"/>
<path d="M296 134l5 3 5 7 6 12 9 18 8 20 10 27 11 31 12 30 16 43 16 41 23 52 27 50 32 51 36 43 46 42 50 34 49 27 42 18 0 2 23 8 66 21 0 4 16 4 33 8 0 7 49 10 82 13 82 10 50 5 0 7 32 3 82 5 66 3 0 1 16 0 82 3 82 2 82 1 73 1 26 10 33 17 32 19 33 21 33 21"/>
<path d="M296 134l5 4 5 5 6 8 9 12 8 13 10 23 11 38 12 47 16 67 16 61 23 70 27 57 32 48 36 34 46 26 50 21 49 17 42 13 0 1 23 7 66 19 0 5 16 4 33 8 0 6 49 11 82 15 82 11 50 5 0 3 32 3 82 5 66 2 0 1 16 0 82 1 82 0 82-1 73 0 26 9 33 16 32 18 33 20 33 21"/>
<path d="M296 134l5 1 5 1 6 6 9 15 8 24 10 38 11 50 12 45 16 52 16 42 23 46 27 43 32 44 36 41 46 45 50 37 49 28 42 18 0 7 23 7 66 15 0 4 16 2 33 4 0 3 49 3 82 2 82-1 50 0 0 12 32-1 82 0 66 0 0 5 16 0 82 1 82 3 82 3 73 3 26 12 33 18 32 21 33 22 33 23"/>
<path d="M296 134l5 0 5 3 6 16 9 29 8 33 10 38 11 35 12 26 16 33 16 33 23 46 27 50 32 53 36 46 46 42 50 28 49 18 42 11 0 6 23 5 66 11 0 5 16 3 33 5 0 11 49 7 82 13 82 13 50 7 0 7 32 5 82 11 66 9 0 4 16 2 82 9 82 8 82 5 73 4 26 11 33 17 32 19 33 20 33 20"/>
<path d="M296 134l5 6 5 10 6 16 9 22 8 20 10 21 11 23 12 26 16 42 16 44 23 59 27 61 32 63 36 53 46 46 50 32 49 20 42 11 0 7 23 5 66 8 0 6 16 1 33 3 0 8 49 3 82 4 82 4 50 2 0 8 32 2 82 3 66 3 0 6 16 0 82 4 82 3 82 4 73 2 26 11 33 18 32 19 33 21 33 22"/>
<path d="M296 134l5 0 5 0 6 0 9 0 8 2 10 9 11 15 12 21 16 29 16 30 23 39 27 41 32 43 36 38 46 36 50 28 49 19 42 13 0 5 23 6 66 14 0 9 16 3 33 6 0 13 49 8 82 12 82 11 50 7 0 15 32 4 82 10 66 7 0 2 16 1 82 9 82 7 82 6 73 5 26 11 33 18 32 19 33 20 33 22"/>
<path d="M296 134l5 4 5 8 6 13 9 18 8 17 10 24 11 31 12 35 16 53 16 50 23 60 27 51 32 43 36 30 46 24 50 19 49 18 42 14 0 10 23 8 66 22 0 7 16 5 33 10 0 10 49 14 82 20 82 15 50 7 0 1 32 3 82 7 66 4 0 3 16 0 82 2 82 0 82-2 73-2 26 9 33 16 32 18 33 19 33 20"/>
<path d="M296 134l5 5 5 6 6 10 9 12 8 12 10 15 11 21 12 25 16 39 16 41 23 55 27 56 32 60 36 51 46 47 50 35 49 23 42 14 0 8 23 6 66 13 16 2 33 5 0 4 49 6 82 8 82 7 50 4 32 3 82 6 66 6 0 1 16 1 82 7 82 5 82 6 73 5 26 12 33 18 32 21 33 22 33 23"/>
<path d="M296 134l5 0 5 0 6 4 9 9 8 11 10 17 11 21 12 20 16 28 16 27 23 37 27 39 32 43 36 39 46 37 50 29 49 18 42 11 0 11 23 4 66 8 0 3 16 1 33 2 0 13 49 3 82 2 82 2 50 2 0 7 32 1 82 2 66 2 0 7 16 1 82 2 82 3 82 3 73 2 26 11 33 18 32 19 33 21 33 22"/>
<path d="M296 134l5 1 5 3 6 11 9 23 8 31 10 41 11 40 12 26 16 26 16 18 23 23 27 29 32 39 36 47 46 56 50 51 49 41 42 26 0 1 23 11 66 24 0 4 16 4 33 7 0 5 49 7 82 5 82 2 50 0 0 2 32 0 82 0 66 0 16 0 82 1 82 1 82 2 73 2 26 12 33 18 32 20 33 22 33 23"/>
<path d="M296 134l5 3 5 3 6 2 9 4 8 6 10 13 11 26 12 34 16 48 16 44 23 51 27 47 32 45 36 38 46 39 50 34 49 28 42 21 0 10 23 10 66 24 0 5 16 5 33 10 0 5 49 12 82 15 82 11 50 5 0 1 32 3 82 5 66 3 0 2 16 1 82 3 82 2 82 3 73 1 26 11 33 18 32 20 33 21 33 22"/>
<path d="M296 134l5 0 5 3 6 10 9 18 8 21 10 21 11 19 12 15 16 25 16 29 23 48 27 59 32 70 36 66 46 64 50 46 49 29 42 16 0 2 23 6 66 10 0 9 16 1 33 2 0 9 49 2 82 2 82 2 50 2 0 6 32 1 82 4 66 4 0 1 16 1 82 5 82 5 82 4 73 4 26 11 33 17 32 20 33 21 33 22"/>
<path d="M296 134l5 6 5 8 6 11 9 11 8 7 10 7 11 15 12 28 16 48 16 51 23 67 27 65 32 63 36 50 46 43 50 31 49 21 42 15 0 3 23 7 66 16 0 2 16 3 33 6 0 6 49 8 82 9 82 7 50 3 0 5 32 2 82 2 66 1 0 2 16 0 82 0 82-1 82-2 73-1 26 10 33 16 32 18 33 20 33 21"/>
<path d="M296 134l5 3 5 6 6 15 9 24 8 26 10 28 11 19 12 8 16 10 16 13 23 27 27 42 32 58 36 62 46 67 50 53 49 37 42 20 0 1 23 8 66 14 0 8 16 2 33 3 0 2 49 2 82 1 82 0 50 0 0 13 32 0 82 2 66 3 0 1 16 1 82 4 82 4 82 6 73 4 26 12 33 20 32 21 33 22 33 24"/>
<path d="M296 134l5 1 5 1 6 1 9 6 8 14 10 25 11 35 12 31 16 37 16 26 23 26 27 21 32 23 36 24 46 32 50 32 49 27 42 20 0 7 23 9 66 19 0 6 16 3 33 6 0 8 49 6 82 3 82-1 50-2 0 15 32-2 82-3 66-3 0 2 16 0 82-3 82-1 82 0 73 1 26 10 33 17 32 20 33 20 33 22"/>
<path d="M296 134l5 1 5 2 6 4 9 11 8 15 10 21 11 22 12 12 16 11 16 9 23 12 27 19 32 33 36 41 46 52 50 48 49 38 42 24 0 8 23 10 66 20 0 7 16 3 33 5 0 10 49 3 82 1 82-2 50-2 0 7 32-2 82-2 66-2 0 6 16 0 82-1 82 1 82 3 73 2 26 11 33 18 32 20 33 21 33 23"/>
<path d="M296 134l5 0 5 2 6 5 9 13 8 16 10 23 11 25 12 21 16 27 16 25 23 35 27 41 32 50 36 51 46 55 50 46 49 34 42 21 0 8 23 9 66 20 0 5 16 4 33 6 0 8 49 7 82 8 82 6 50 3 0 10 32 2 82 4 66 4 0 3 16 1 82 4 82 5 82 4 73 4 26 11 33 18 32 20 33 22 33 22"/>
<path d="M296 134l5 2 5 5 6 9 9 15 8 14 10 18 11 21 12 24 16 39 16 42 23 57 27 58 32 58 36 47 46 38 50 24 49 13 42 7 0 8 23 3 66 6 0 3 16 1 33 3 49 4 82 7 82 8 50 5 0 3 32 3 82 8 66 6 0 3 16 1 82 7 82 6 82 5 73 4 26 11 33 19 32 20 33 22 33 23"/>
<path d="M296 134l5 7 5 9 6 11 9 7 8 2 10 1 11 10 12 24 16 46 16 50 23 64 27 60 32 55 36 42 46 36 50 28 49 21 42 17 0 9 23 8 66 21 0 2 16 5 33 8 0 4 49 11 82 14 82 9 50 3 0 8 32 1 82 2 66-1 0 5 16 0 82-3 82-3 82-3 73-4 26 10 33 15 32 18 33 19 33 21"/>
<path d="M296 134l5 0 5 2 6 3 9 6 8 8 10 12 11 22 12 28 16 43 16 44 23 55 27 54 32 53 36 44 46 40 50 30 49 23 42 16 0 2 23 7 66 18 0 2 16 4 33 8 0 1 49 10 82 12 82 10 50 4 0 2 32 2 82 5 66 3 0 5 16 0 82 2 82 2 82 0 73 0 26 11 33 17 32 19 33 20 33 22"/>
<path d="M296 134l5 1 5 3 6 8 9 11 8 11 10 15 11 18 12 20 16 31 16 31 23 39 27 38 32 38 36 29 46 27 50 20 49 16 42 11 0 8 23 6 66 14 0 3 16 3 33 6 0 10 49 8 82 10 82 8 50 3 0 8 32 2 82 3 66 2 0 1 16 1 82 0 82-1 82-1 73-2 26 9 33 15 32 17 33 19 33 20"/>
<path d="M296 134l5 1 5 5 6 10 9 15 8 15 10 16 11 15 12 15 16 27 16 32 23 48 27 53 32 57 36 48 46 45 50 31 49 20 42 13 0 8 23 5 66 13 0 6 16 3 33 5 0 4 49 7 82 10 82 10 50 5 0 2 32 4 82 7 66 5 0 2 16 1 82 5 82 4 82 2 73 2 26 11 33 17 32 19 33 21 33 22"/>
<path d="M296 134l5 3 5 7 6 12 9 18 8 20 10 23 11 24 12 21 16 32 16 32 23 43 27 44 32 46 36 40 46 37 50 26 49 18 42 11 0 9 23 5 66 11 0 8 16 2 33 4 0 9 49 5 82 8 82 7 50 4 0 12 32 3 82 5 66 5 0 5 16 1 82 5 82 4 82 4 73 3 26 11 33 18 32 20 33 21 33 22"/>
<path d="M296 134l5 0 5 0 6 2 9 13 8 21 10 29 11 32 12 22 16 24 16 20 23 25 27 30 32 38 36 40 46 47 50 40 49 31 42 20 0 4 23 9 66 18 0 2 16 3 33 6 0 6 49 7 82 7 82 6 50 3 0 5 32 2 82 5 66 4 0 5 16 1 82 5 82 5 82 5 73 5 26 12 33 19 32 21 33 22 33 23"/>
<path d="M296 134l5 0 5 2 6 9 9 14 8 14 10 10 11 1 12-4 16-1 16 7 23 22 27 36 32 51 36 53 46 53 50 40 49 26 42 15 0 5 23 6 66 10 0 3 16 2 33 3 49 3 82 4 82 4 50 2 0 15 32 1 82 5 66 3 0 6 16 1 82 4 82 3 82 3 73 2 26 10 33 17 32 19 33 20 33 21"/>
<path d="M296 134l5 1 5 5 6 9 9 13 8 13 10 16 11 19 12 23 16 36 16 39 23 53 27 55 32 56 36 46 46 39 50 25 49 15 42 8 0 9 23 3 66 7 0 10 16 1 33 3 0 3 49 3 82 6 82 6 50 3 0 12 32 2 82 5 66 4 0 6 16 1 82 4 82 3 82 3 73 2 26 11 33 17 32 19 33 20 33 22"/>
<path d="M296 134l5 4 5 4 6 6 9 5 8 5 10 7 11 15 12 22 16 37 16 40 23 52 27 51 32 49 36 38 46 31 50 21 49 14 42 9 0 9 23 4 66 10 0 2 16 2 33 4 0 8 49 6 82 10 82 9 50 5 0 10 32 3 82 8 66 5 0 6 16 1 82 6 82 6 82 5 73 3 26 12 33 19 32 20 33 22 33 23"/>
<path d="M296 134l5 0 5 1 6 6 9 7 8 8 10 7 11 6 12 7 16 14 16 19 23 30 27 37 32 44 36 42 46 44 50 36 49 27 42 17 0 11 23 8 66 17 0 4 16 3 33 5 0 7 49 6 82 7 82 4 50 1 0 1 32 0 82 0 66-1 0 4 16-1 82-2 82-2 82-2 73-2 26 9 33 15 32 17 33 19 33 20"/>
<path d="M296 134l5 1 5 2 6 5 9 7 8 11 10 19 11 32 12 35 16 51 16 45 23 51 27 43 32 37 36 26 46 21 50 16 49 14 42 10 0 3 23 6 66 15 0 4 16 4 33 6 0 4 49 10 82 13 82 10 50 5 0 7 32 3 82 6 66 3 0 4 16 0 82 3 82 2 82 1 73 0 26 11 33 16 32 19 33 20 33 21"/>
<path d="M296 134l5 2 5 4 6 7 9 12 8 14 10 17 11 18 12 17 16 24 16 23 23 31 27 33 32 37 36 37 46 40 50 36 49 31 42 22 0 1 23 10 66 25 0 7 16 6 33 9 0 5 49 12 82 14 82 10 50 4 0 7 32 2 82 4 66 1 0 1 16 0 82 0 82 0 82-1 73 0 26 9 33 17 32 18 33 20 33 21"/>
<path d="M296 134l5 0 5 0 6 0 9 0 8 3 10 8 11 16 12 19 16 29 16 28 23 38 27 38 32 42 36 39 46 39 50 32 49 26 42 18 0 3 23 9 66 20 0 2 16 4 33 9 0 4 49 12 82 16 82 13 50 7 0 6 32 4 82 10 66 7 0 3 16 2 82 7 82 7 82 5 73 4 26 11 33 18 32 20 33 21 33 22"/>
<path d="M296 134l5 2 5 4 6 6 9 8 8 8 10 9 11 11 12 13 16 24 16 26 23 38 27 42 32 48 36 43 46 44 50 34 49 25 42 16 0 7 23 7 66 15 0 6 16 3 33 5 0 4 49 6 82 7 82 4 50 2 0 1 32 1 82 2 66 1 0 7 16 0 82 1 82 2 82 1 73 1 26 10 33 17 32 20 33 21 33 22"/>
<path d="M296 134l5 0 5 0 6 0 9 6 8 13 10 23 11 32 12 29 16 35 16 27 23 29 27 25 32 23 36 22 46 25 50 24 49 21 42 16 0 4 23 8 66 19 16 4 33 8 0 12 49 10 82 12 82 9 50 4 0 2 32 3 82 6 66 3 0 5 16 0 82 4 82 4 82 3 73 3 26 11 33 18 32 20 33 22 33 22"/>
<path d="M296 134l5 2 5 3 6 6 9 5 8 6 10 8 11 15 12 23 16 39 16 40 23 51 27 49 32 45 36 34 46 29 50 20 49 15 42 11 0 9 23 6 66 13 0 3 16 3 33 6 0 8 49 8 82 12 82 9 50 4 0 4 32 2 82 5 66 2 0 6 16 1 82 1 82 0 82 0 73-1 26 9 33 16 32 18 33 19 33 20"/>
<path d="M296 134l5 4 5 4 6 4 9 2 8 1 10 1 11 3 12 10 16 21 16 24 23 35 27 40 32 45 36 41 46 42 50 34 49 26 42 18 0 3 23 8 66 18 0 3 16 4 33 7 0 2 49 9 82 11 82 8 50 4 0 7 32 2 82 6 66 3 0 1 16 1 82 4 82 4 82 3 73 3 26 11 33 17 32 20 33 21 33 21"/>
<path d="M296 134l5 0 5 0 6 0 9 0 8 0 10 0 11 7 12 28 16 46 16 48 23 59 27 52 32 43 36 27 46 17 50 9 49 8 42 7 0 5 23 5 66 14 0 3 16 4 33 8 0 1 49 12 82 20 82 18 50 9 0 15 32 5 82 10 66 6 0 4 16 1 82 5 82 2 82 0 73-1 26 9 33 15 32 16 33 18 33 19"/>
</g>
<path d="M29.6 13.4L29.85 16.75L30.1 20.24L30.36 24.03L30.61 27.9L30.86 31.32L31.11 34.38L31.37 37.23L31.62 39.78L31.87 41.97L32.12 43.89L32.38 45.63L32.63 47.22L32.88 48.72L33.13 50.16L33.38 51.56L33.64 52.93L33.89 54.25L34.14 55.52L34.39 56.73L34.65 57.87L34.9 58.94L35.15 59.93L35.4 60.83L35.66 61.65L35.91 62.42L36.16 63.14L36.41 63.84L36.66 64.53L36.92 65.24L37.17 65.96L37.42 66.73L37.67 67.53L37.93 68.36L38.18 69.21L38.43 70.07L38.68 70.95L38.94 71.83L39.19 72.72L39.44 73.61L40.42 77L41.41 80.1L42.39 82.86L43.38 85.47L44.36 87.77L45.34 89.64L46.33 91.28L47.31 92.77L48.3 94.08L49.28 95.21L50.26 96.12L51.25 96.91L52.23 97.62L53.22 98.27L54.2 98.86L55.18 99.4L56.17 99.9L57.15 100.38L58.14 100.83L59.12 101.28L60.1 101.72L61.09 102.14L62.07 102.55L63.06 102.93L64.04 103.3L65.02 103.64L66.01 103.96L66.99 104.25L67.98 104.51L69.94 105.04L69.94 105.84L78.8 107.44L78.8 107.97L83.72 108.77L83.72 109.44L95.2 110.64L109.96 111.7L109.96 112.37L128 113.03L128 114.5L144.4 114.77L161.46 115.16L165.72 116.23L170.64 118.63L177.2 121.82" fill="none" stroke="#44a654" stroke-width="1.05"/>
<path d="M29.6 13.4L29.85 16.75L30.1 20.24L30.36 24.03L30.61 27.9L30.86 31.32L31.11 34.38L31.37 37.23L31.62 39.78L31.87 41.97L32.12 43.89L32.38 45.63L32.63 47.22L32.88 48.72L33.13 50.16L33.38 51.56L33.64 52.93L33.89 54.25L34.14 55.52L34.39 56.73L34.65 57.87L34.9 58.94L35.15 59.93L35.4 60.83L35.66 61.65L35.91 62.41L36.16 63.13L36.41 63.82L36.66 64.51L36.92 65.22L37.17 65.95L37.42 66.73L37.67 67.54L37.93 68.36L38.18 69.2L38.43 70.04L38.68 70.9L38.94 71.76L39.19 72.63L39.44 73.51L40.42 77.02L41.41 80.61L42.39 84.61L43.38 89.12L44.36 93L45.34 95.2L46.33 96.67L47.31 97.88L48.3 98.9L49.28 99.76L50.26 100.51L51.25 101.2L52.23 101.87L53.22 102.49L54.2 103.07L55.18 103.61L56.17 104.12L57.15 104.6L58.14 105.04L59.12 105.47L60.1 105.88L61.09 106.28L62.07 106.67L63.06 107.04L64.04 107.4L65.02 107.74L66.01 108.06L66.99 108.36L67.98 108.64L69.94 109.04L69.94 109.84L78.8 111.3L78.8 111.83L83.72 112.5L83.72 113.17L95.2 114.23L109.96 115.56L109.96 116.1L128 116.76L128 117.7L144.4 117.83L161.46 117.96L165.72 119.03L170.64 120.63L177.2 122.49" fill="none" stroke="#b83850" stroke-width="1.0"/>
<g fill="none" stroke="#101414" stroke-width="5.5" stroke-opacity="0.26" transform="scale(.1)">
<path d="M2468 627l2 51 2 42 2 34 2 31 2 29 2 28 2 26 2 25 2 23 1 21 2 20 2 18 2 17 2 16 9 59 8 59 8 61 8 53 8 36 9 29 8 23 8 21 8 20 8 17 9 12 8 7 8 7 8 5 8 4 9 4 8 2 8 3 8 2 8 2 9 1 8 2 8 1 2 0 32 3 33 2 33 2 33 0 33 1 32 0 33 1 33 0 33 0 98 1 99 0 98 1 98 0 99 0 98 0 99 1 98 0 98 0 66 0"/>
<path d="M2474 755l2 31 2 29 2 28 2 26 2 24 2 23 1 21 2 20 2 18 2 16 2 16 9 58 8 58 8 60 8 52 8 36 9 27 8 23 8 20 8 20 8 16 9 12 8 7 8 6 8 5 8 4 9 3 8 2 8 2 8 2 8 2 9 1 8 1 8 1 2 0 32 3 33 2 33 1 33 0 33 1 32 0 33 1 33 0 33 0 98 1 99 0 98 1 98 0 99 0 98 0 99 1 98 0 98 0 66 0"/>
<path d="M2466 570l2 56 2 50 2 42 2 33 2 30 2 29 2 27 2 26 2 25 2 23 1 21 2 20 2 18 2 17 2 16 9 60 8 58 8 61 8 53 8 37 9 29 8 23 8 21 8 20 8 17 9 13 8 8 8 6 8 6 8 4 9 3 8 3 8 3 8 2 8 2 9 1 8 2 8 1 2 0 32 3 33 2 33 2 33 0 33 1 32 0 33 0 33 1 33 0 98 1 99 0 98 0 98 1 99 0 98 0 99 0 98 0 98 1 66 0"/>
<path d="M2480 838l2 26 2 25 2 23 1 21 2 19 2 19 2 17 2 16 9 59 8 57 8 61 8 52 8 38 9 28 8 23 8 21 8 20 8 16 9 13 8 8 8 6 8 5 8 5 9 3 8 2 8 3 8 2 8 2 9 1 8 1 8 1 2 1 32 2 33 2 33 2 33 0 33 1 32 0 33 0 33 1 33 0 98 0 99 1 98 0 98 1 99 0 98 0 99 0 98 1 98 0 66 0"/>
<path d="M2478 812l2 27 2 26 2 25 2 23 1 21 2 19 2 18 2 17 2 16 9 58 8 58 8 60 8 53 8 37 9 28 8 24 8 20 8 20 8 17 9 12 8 8 8 7 8 5 8 4 9 4 8 2 8 3 8 2 8 1 9 2 8 1 8 1 2 1 32 3 33 2 33 1 33 1 33 0 32 1 33 0 33 0 33 1 98 0 99 1 98 0 98 0 99 1 98 0 99 0 98 0 98 0 66 1"/>
<path d="M2468 624l2 49 2 42 2 32 2 30 2 28 2 27 2 25 2 24 2 23 1 21 2 19 2 19 2 17 2 16 9 59 8 57 8 60 8 54 8 38 9 29 8 24 8 21 8 20 8 18 9 14 8 8 8 7 8 6 8 5 9 4 8 3 8 2 8 3 8 2 9 2 8 1 8 2 2 0 32 4 33 3 33 1 33 1 33 1 32 1 33 0 33 1 33 0 98 1 99 0 98 0 98 1 99 0 98 0 99 0 98 0 98 1 66 0"/>
<path d="M2466 569l2 56 2 50 2 42 2 33 2 30 2 29 2 27 2 26 2 25 2 22 1 21 2 20 2 18 2 17 2 16 9 59 8 56 8 60 8 53 8 38 9 29 8 24 8 21 8 19 8 18 9 13 8 8 8 7 8 5 8 5 9 3 8 3 8 2 8 3 8 1 9 2 8 1 8 2 2 0 32 3 33 2 33 1 33 1 33 1 32 0 33 0 33 1 33 0 98 1 99 0 98 0 98 1 99 0 98 0 99 0 98 1 98 0 66 0"/>
<path d="M2478 806l2 27 2 25 2 25 2 23 1 21 2 19 2 18 2 18 2 16 9 59 8 57 8 59 8 54 8 39 9 29 8 24 8 20 8 20 8 18 9 13 8 9 8 7 8 5 8 5 9 3 8 3 8 2 8 3 8 2 9 1 8 2 8 1 2 0 32 3 33 2 33 2 33 0 33 1 32 0 33 0 33 1 33 0 98 1 99 0 98 0 98 1 99 0 98 0 99 0 98 1 98 0 66 0"/>
<path d="M2466 569l2 55 2 50 2 42 2 33 2 30 2 28 2 27 2 26 2 24 2 23 1 21 2 19 2 18 2 17 2 16 9 58 8 55 8 59 8 53 8 39 9 29 8 23 8 21 8 19 8 17 9 14 8 8 8 7 8 5 8 5 9 3 8 3 8 2 8 2 8 2 9 1 8 2 8 1 2 0 32 3 33 2 33 1 33 1 33 1 32 0 33 0 33 1 33 0 98 1 99 0 98 0 98 1 99 0 98 0 99 1 98 0 98 0 66 0"/>
<path d="M2478 799l2 26 2 24 2 24 2 22 1 21 2 19 2 18 2 17 2 16 9 59 8 55 8 59 8 54 8 39 9 29 8 24 8 21 8 20 8 18 9 14 8 9 8 7 8 6 8 5 9 3 8 3 8 3 8 2 8 2 9 2 8 2 8 1 2 0 32 4 33 2 33 2 33 1 33 1 32 0 33 0 33 1 33 0 98 1 99 0 98 1 98 0 99 0 98 0 99 1 98 0 98 0 66 0"/>
<path d="M2470 669l2 41 2 32 2 29 2 28 2 26 2 24 2 24 2 22 1 21 2 19 2 18 2 17 2 16 9 58 8 55 8 59 8 53 8 40 9 30 8 24 8 21 8 19 8 18 9 15 8 9 8 7 8 6 8 5 9 4 8 3 8 3 8 2 8 3 9 1 8 2 8 2 2 0 32 4 33 3 33 1 33 1 33 1 32 1 33 0 33 1 33 0 98 1 99 0 98 1 98 0 99 0 98 1 99 0 98 0 98 0 66 0"/>
<path d="M2466 568l2 55 2 49 2 42 2 33 2 30 2 28 2 27 2 26 2 24 2 23 1 21 2 19 2 18 2 17 2 16 9 59 8 55 8 58 8 54 8 40 9 30 8 24 8 21 8 19 8 18 9 14 8 10 8 6 8 6 8 5 9 3 8 3 8 3 8 2 8 2 9 1 8 2 8 1 2 0 32 4 33 2 33 1 33 1 33 1 32 0 33 0 33 1 33 0 98 1 99 0 98 0 98 1 99 0 98 0 99 0 98 1 98 0 66 0"/>
<path d="M2472 707l2 31 2 29 2 26 2 26 2 24 2 23 2 22 1 20 2 19 2 18 2 17 2 16 9 57 8 55 8 57 8 53 8 40 9 30 8 24 8 20 8 19 8 18 9 14 8 10 8 7 8 6 8 5 9 3 8 3 8 3 8 2 8 2 9 2 8 2 8 1 2 0 32 4 33 2 33 2 33 0 33 1 32 1 33 0 33 0 33 1 98 0 99 1 98 0 98 1 99 0 98 0 99 1 98 0 98 0 66 0"/>
<path d="M2480 817l2 24 2 23 2 21 1 21 2 18 2 19 2 17 2 15 9 58 8 54 8 58 8 53 8 41 9 30 8 24 8 21 8 20 8 18 9 15 8 10 8 7 8 7 8 5 9 4 8 3 8 3 8 3 8 2 9 2 8 2 8 1 2 0 32 5 33 3 33 2 33 1 33 1 32 0 33 1 33 0 33 1 98 0 99 1 98 0 98 1 99 0 98 0 99 1 98 0 98 0 66 0"/>
<path d="M2478 793l2 25 2 24 2 23 2 22 1 20 2 19 2 18 2 17 2 15 9 58 8 53 8 57 8 54 8 40 9 30 8 24 8 21 8 19 8 18 9 14 8 11 8 7 8 6 8 4 9 4 8 4 8 2 8 2 8 3 9 1 8 2 8 1 2 1 32 3 33 3 33 2 33 1 33 0 32 1 33 0 33 1 33 0 98 1 99 0 98 1 98 0 99 1 98 0 99 0 98 0 98 1 66 0"/>
<path d="M2466 564l2 51 2 46 2 38 2 30 2 26 2 26 2 24 2 23 2 21 2 21 1 20 2 19 2 18 2 17 2 16 9 58 8 53 8 57 8 54 8 41 9 31 8 25 8 21 8 20 8 18 9 16 8 11 8 8 8 7 8 5 9 5 8 4 8 3 8 3 8 3 9 2 8 2 8 2 2 0 32 6 33 3 33 3 33 2 33 1 32 1 33 0 33 1 33 0 98 1 99 1 98 0 98 1 99 0 98 1 99 0 98 0 98 0 66 0"/>
<path d="M2474 730l2 27 2 25 2 24 2 23 2 23 2 21 1 20 2 18 2 19 2 17 2 16 9 57 8 54 8 56 8 54 8 42 9 30 8 25 8 21 8 20 8 18 9 16 8 11 8 8 8 6 8 6 9 4 8 4 8 3 8 2 8 3 9 2 8 2 8 1 2 1 32 4 33 3 33 2 33 1 33 1 32 1 33 0 33 1 33 0 98 1 99 0 98 1 98 0 99 1 98 0 99 0 98 1 98 0 66 0"/>
<path d="M2480 824l2 25 2 23 2 23 1 20 2 19 2 18 2 17 2 16 9 57 8 53 8 57 8 54 8 42 9 30 8 24 8 20 8 19 8 18 9 15 8 11 8 7 8 6 8 4 9 4 8 3 8 3 8 2 8 2 9 1 8 2 8 1 2 0 32 3 33 3 33 1 33 1 33 1 32 0 33 0 33 1 33 0 98 1 99 0 98 1 98 0 99 0 98 1 99 0 98 0 98 0 66 0"/>
<path d="M2478 770l2 23 2 22 2 21 2 20 1 19 2 19 2 18 2 17 2 16 9 57 8 53 8 55 8 54 8 42 9 31 8 26 8 21 8 20 8 19 9 16 8 13 8 8 8 7 8 6 9 5 8 5 8 3 8 4 8 3 9 2 8 3 8 2 2 0 32 6 33 5 33 3 33 2 33 2 32 1 33 1 33 1 33 0 98 2 99 0 98 1 98 0 99 1 98 0 99 0 98 1 98 0 66 0"/>
<path d="M2476 754l2 25 2 23 2 23 2 22 2 21 1 19 2 19 2 18 2 17 2 16 9 57 8 52 8 56 8 53 8 43 9 31 8 25 8 21 8 20 8 18 9 16 8 12 8 8 8 7 8 5 9 5 8 4 8 3 8 3 8 3 9 2 8 2 8 2 2 0 32 5 33 4 33 3 33 1 33 2 32 1 33 0 33 1 33 1 98 1 99 0 98 1 98 0 99 1 98 0 99 0 98 0 98 1 66 0"/>
<path d="M2470 661l2 39 2 32 2 27 2 25 2 25 2 23 2 23 2 21 1 20 2 18 2 18 2 17 2 16 9 58 8 52 8 55 8 54 8 43 9 31 8 25 8 21 8 19 8 18 9 16 8 12 8 8 8 7 8 5 9 5 8 3 8 3 8 3 8 2 9 2 8 2 8 2 2 0 32 5 33 3 33 2 33 2 33 1 32 1 33 0 33 1 33 0 98 1 99 1 98 0 98 1 99 0 98 0 99 1 98 0 98 0 66 0"/>
<path d="M2476 751l2 25 2 23 2 23 2 22 2 21 1 19 2 19 2 18 2 18 2 16 9 58 8 53 8 55 8 54 8 44 9 32 8 25 8 22 8 20 8 19 9 17 8 12 8 9 8 7 8 6 9 5 8 4 8 4 8 3 8 2 9 3 8 2 8 2 2 0 32 6 33 3 33 3 33 2 33 1 32 1 33 0 33 1 33 0 98 1 99 1 98 0 98 1 99 0 98 0 99 0 98 1 98 0 66 0"/>
<path d="M2482 822l2 22 2 21 1 20 2 19 2 18 2 17 2 16 9 58 8 53 8 55 8 54 8 44 9 32 8 25 8 22 8 20 8 18 9 17 8 12 8 9 8 7 8 6 9 4 8 4 8 4 8 2 8 3 9 2 8 2 8 2 2 0 32 5 33 3 33 3 33 1 33 1 32 1 33 0 33 1 33 0 98 1 99 0 98 1 98 0 99 0 98 1 99 0 98 0 98 1 66 0"/>
<path d="M2480 811l2 24 2 22 2 22 1 20 2 19 2 18 2 17 2 16 9 57 8 52 8 54 8 54 8 44 9 31 8 25 8 21 8 19 8 18 9 16 8 12 8 8 8 7 8 5 9 4 8 4 8 3 8 2 8 2 9 2 8 2 8 2 2 0 32 4 33 3 33 2 33 1 33 0 32 1 33 1 33 0 33 0 98 1 99 1 98 0 98 0 99 1 98 0 99 0 98 1 98 0 66 0"/>
<path d="M2468 606l2 42 2 35 2 27 2 23 2 22 2 21 2 20 2 20 2 19 1 19 2 18 2 17 2 17 2 16 9 56 8 51 8 54 8 53 8 43 9 32 8 26 8 22 8 20 8 19 9 17 8 14 8 9 8 8 8 7 9 5 8 5 8 4 8 4 8 3 9 3 8 3 8 2 2 1 32 7 33 6 33 4 33 2 33 2 32 2 33 1 33 1 33 1 98 2 99 1 98 1 98 0 99 1 98 0 99 0 98 1 98 0 66 0"/>
<path d="M2478 787l2 25 2 23 2 23 2 21 1 20 2 19 2 17 2 17 2 16 9 57 8 50 8 54 8 53 8 44 9 31 8 25 8 20 8 19 8 17 9 16 8 12 8 8 8 6 8 5 9 4 8 4 8 2 8 2 8 2 9 2 8 1 8 2 2 0 32 3 33 2 33 2 33 1 33 0 32 1 33 0 33 1 33 0 98 1 99 0 98 1 98 0 99 0 98 1 99 0 98 1 98 0 66 0"/>
<path d="M2474 730l2 27 2 25 2 25 2 23 2 22 2 21 1 20 2 19 2 17 2 17 2 16 9 57 8 50 8 53 8 53 8 45 9 31 8 25 8 21 8 18 8 18 9 16 8 13 8 8 8 6 8 5 9 5 8 3 8 3 8 2 8 2 9 2 8 1 8 2 2 0 32 4 33 2 33 2 33 1 33 0 32 1 33 0 33 1 33 0 98 1 99 0 98 1 98 0 99 1 98 0 99 0 98 1 98 0 66 0"/>
<path d="M2472 684l2 28 2 23 2 23 2 21 2 21 2 20 2 19 1 19 2 18 2 18 2 17 2 16 9 57 8 50 8 53 8 53 8 45 9 32 8 26 8 22 8 20 8 19 9 17 8 14 8 10 8 8 8 6 9 6 8 5 8 4 8 3 8 3 9 3 8 3 8 2 2 0 32 7 33 5 33 4 33 2 33 2 32 1 33 1 33 1 33 1 98 1 99 1 98 1 98 0 99 1 98 0 99 0 98 1 98 0 66 0"/>
<path d="M2474 713l2 24 2 22 2 22 2 20 2 20 2 20 1 19 2 18 2 18 2 16 2 16 9 57 8 50 8 53 8 52 8 45 9 33 8 26 8 22 8 20 8 19 9 17 8 14 8 10 8 8 8 6 9 6 8 5 8 4 8 3 8 4 9 2 8 3 8 3 2 0 32 7 33 5 33 4 33 3 33 2 32 2 33 1 33 2 33 0 98 2 99 1 98 1 98 1 99 0 98 1 99 0 98 0 98 0 66 1"/>
<path d="M2474 720l2 25 2 24 2 23 2 22 2 21 2 20 1 20 2 18 2 18 2 17 2 16 9 57 8 51 8 53 8 53 8 45 9 33 8 26 8 22 8 19 8 19 9 17 8 14 8 9 8 8 8 6 9 5 8 5 8 3 8 3 8 3 9 3 8 2 8 2 2 0 32 6 33 4 33 3 33 2 33 1 32 1 33 1 33 1 33 1 98 1 99 1 98 0 98 0 99 1 98 0 99 1 98 0 98 0 66 0"/>
<path d="M2480 804l2 23 2 22 2 22 1 19 2 19 2 18 2 17 2 16 9 57 8 50 8 53 8 53 8 45 9 33 8 26 8 21 8 19 8 18 9 16 8 14 8 9 8 7 8 5 9 5 8 4 8 3 8 2 8 2 9 2 8 2 8 1 2 1 32 4 33 2 33 2 33 2 33 0 32 1 33 0 33 1 33 0 98 1 99 0 98 1 98 0 99 1 98 0 99 0 98 1 98 0 66 0"/>
<path d="M2472 683l2 29 2 24 2 22 2 21 2 21 2 20 2 19 1 19 2 18 2 18 2 16 2 16 9 56 8 50 8 51 8 52 8 45 9 33 8 26 8 22 8 19 8 18 9 17 8 14 8 10 8 7 8 7 9 5 8 4 8 4 8 3 8 3 9 2 8 3 8 2 2 0 32 6 33 4 33 3 33 2 33 2 32 1 33 1 33 0 33 1 98 1 99 1 98 1 98 0 99 1 98 0 99 0 98 1 98 0 66 0"/>
<path d="M2466 558l2 47 2 41 2 35 2 28 2 23 2 22 2 21 2 20 2 20 2 20 1 18 2 19 2 17 2 17 2 16 9 57 8 50 8 51 8 52 8 46 9 33 8 27 8 22 8 19 8 19 9 17 8 14 8 11 8 8 8 6 9 6 8 4 8 4 8 4 8 3 9 2 8 3 8 2 2 0 32 6 33 4 33 3 33 2 33 2 32 1 33 0 33 1 33 1 98 1 99 1 98 0 98 1 99 0 98 0 99 1 98 0 98 1 66 0"/>
<path d="M2476 738l2 22 2 22 2 21 2 21 2 20 1 19 2 18 2 18 2 17 2 16 9 57 8 50 8 52 8 52 8 46 9 34 8 27 8 22 8 20 8 18 9 17 8 15 8 11 8 8 8 6 9 6 8 5 8 4 8 3 8 3 9 3 8 2 8 3 2 0 32 6 33 5 33 3 33 3 33 1 32 1 33 1 33 1 33 1 98 1 99 1 98 1 98 0 99 0 98 1 99 0 98 0 98 1 66 0"/>
<path d="M2474 708l2 23 2 22 2 20 2 21 2 19 2 19 1 19 2 18 2 17 2 17 2 16 9 56 8 49 8 51 8 51 8 46 9 34 8 27 8 22 8 20 8 18 9 18 8 14 8 12 8 8 8 7 9 6 8 5 8 4 8 3 8 4 9 3 8 2 8 3 2 0 32 8 33 5 33 4 33 3 33 2 32 2 33 2 33 1 33 1 98 2 99 1 98 1 98 1 99 0 98 1 99 0 98 0 98 1 66 0"/>
<path d="M2478 743l2 20 2 19 2 19 2 18 1 19 2 18 2 17 2 16 2 16 9 57 8 50 8 50 8 52 8 46 9 34 8 27 8 23 8 20 8 19 9 17 8 16 8 12 8 8 8 7 9 7 8 5 8 5 8 4 8 3 9 3 8 3 8 3 2 0 32 8 33 6 33 4 33 3 33 2 32 2 33 1 33 2 33 0 98 2 99 1 98 1 98 0 99 1 98 0 99 1 98 0 98 0 66 1"/>
<path d="M2470 638l2 32 2 26 2 22 2 19 2 19 2 19 2 18 2 18 1 18 2 18 2 16 2 17 2 15 9 57 8 48 8 50 8 51 8 45 9 35 8 27 8 22 8 20 8 19 9 17 8 16 8 12 8 8 8 8 9 6 8 6 8 4 8 4 8 4 9 3 8 3 8 3 2 0 32 9 33 6 33 5 33 3 33 3 32 2 33 1 33 1 33 1 98 3 99 1 98 1 98 0 99 1 98 0 99 1 98 0 98 1 66 0"/>
<path d="M2478 760l2 22 2 21 2 20 2 20 1 20 2 18 2 18 2 16 2 17 9 58 8 49 8 51 8 52 8 47 9 36 8 27 8 22 8 20 8 18 9 18 8 15 8 12 8 8 8 6 9 6 8 5 8 4 8 3 8 3 9 3 8 2 8 3 2 0 32 6 33 5 33 3 33 2 33 1 32 1 33 1 33 1 33 1 98 1 99 0 98 1 98 0 99 1 98 0 99 0 98 1 98 0 66 0"/>
<path d="M2480 755l2 19 2 18 2 18 1 18 2 19 2 17 2 16 2 16 9 58 8 49 8 50 8 51 8 46 9 36 8 27 8 24 8 20 8 19 9 18 8 15 8 13 8 9 8 7 9 7 8 5 8 5 8 4 8 4 9 3 8 3 8 3 2 0 32 9 33 5 33 4 33 3 33 2 32 2 33 1 33 1 33 1 98 1 99 1 98 1 98 1 99 0 98 0 99 1 98 0 98 1 66 0"/>
<path d="M2470 638l2 33 2 26 2 22 2 19 2 20 2 18 2 19 2 18 1 18 2 18 2 17 2 16 2 16 9 57 8 48 8 49 8 51 8 46 9 35 8 28 8 23 8 20 8 18 9 18 8 15 8 13 8 9 8 7 9 7 8 5 8 5 8 4 8 4 9 3 8 3 8 3 2 0 32 9 33 6 33 5 33 3 33 3 32 2 33 2 33 1 33 1 98 2 99 2 98 1 98 0 99 1 98 0 99 1 98 0 98 0 66 1"/>
<path d="M2478 747l2 20 2 20 2 19 2 19 1 19 2 18 2 17 2 16 2 16 9 57 8 49 8 49 8 51 8 47 9 36 8 27 8 23 8 20 8 18 9 17 8 16 8 12 8 9 8 7 9 6 8 5 8 5 8 3 8 3 9 3 8 3 8 2 2 1 32 7 33 5 33 4 33 2 33 2 32 2 33 1 33 1 33 0 98 2 99 1 98 1 98 0 99 1 98 0 99 0 98 1 98 0 66 0"/>
<path d="M2482 776l2 18 2 18 1 18 2 18 2 17 2 16 2 16 9 56 8 48 8 48 8 51 8 46 9 35 8 27 8 23 8 20 8 18 9 17 8 16 8 12 8 9 8 7 9 6 8 5 8 5 8 4 8 3 9 3 8 3 8 3 2 0 32 8 33 5 33 4 33 3 33 2 32 2 33 1 33 1 33 1 98 2 99 1 98 1 98 1 99 0 98 1 99 0 98 0 98 1 66 0"/>
<path d="M2474 709l2 24 2 22 2 21 2 21 2 20 2 19 1 19 2 19 2 17 2 16 2 16 9 58 8 48 8 49 8 51 8 47 9 36 8 27 8 22 8 19 8 18 9 17 8 15 8 13 8 8 8 6 9 6 8 5 8 4 8 3 8 3 9 2 8 2 8 2 2 1 32 6 33 3 33 3 33 2 33 2 32 0 33 1 33 1 33 0 98 2 99 0 98 1 98 0 99 1 98 0 99 1 98 0 98 0 66 0"/>
<path d="M2476 714l2 19 2 19 2 18 2 18 2 18 1 18 2 18 2 17 2 16 2 16 9 56 8 48 8 49 8 50 8 46 9 36 8 28 8 23 8 20 8 19 9 17 8 16 8 14 8 9 8 8 9 6 8 6 8 5 8 4 8 4 9 3 8 3 8 3 2 0 32 9 33 6 33 5 33 3 33 3 32 1 33 2 33 1 33 1 98 2 99 1 98 1 98 1 99 0 98 1 99 0 98 1 98 0 66 0"/>
<path d="M2480 745l2 17 2 18 2 17 1 18 2 17 2 17 2 16 2 16 9 56 8 48 8 48 8 49 8 46 9 37 8 27 8 23 8 20 8 19 9 17 8 16 8 13 8 10 8 8 9 6 8 6 8 5 8 4 8 4 9 3 8 3 8 3 2 0 32 9 33 6 33 4 33 3 33 3 32 1 33 2 33 1 33 1 98 2 99 1 98 1 98 0 99 1 98 0 99 1 98 0 98 1 66 0"/>
<path d="M2474 694l2 22 2 20 2 19 2 18 2 18 2 18 1 18 2 18 2 17 2 16 2 16 9 56 8 48 8 47 8 49 8 47 9 37 8 27 8 23 8 20 8 18 9 17 8 16 8 13 8 10 8 7 9 7 8 5 8 5 8 4 8 3 9 3 8 3 8 3 2 0 32 9 33 5 33 4 33 4 33 2 32 2 33 2 33 1 33 1 98 2 99 1 98 1 98 1 99 0 98 1 99 0 98 1 98 0 66 0"/>
<path d="M2478 722l2 18 2 16 2 17 2 17 1 17 2 18 2 16 2 16 2 15 9 56 8 46 8 44 8 47 8 46 9 38 8 28 8 24 8 20 8 17 9 17 8 16 8 14 8 11 8 8 9 7 8 5 8 6 8 4 8 4 9 3 8 3 8 3 2 1 32 9 33 7 33 5 33 4 33 4 32 2 33 2 33 2 33 2 98 4 99 2 98 2 98 1 99 1 98 0 99 1 98 1 98 0 66 0"/>
<path d="M2474 680l2 20 2 18 2 16 2 17 2 17 2 16 1 18 2 17 2 17 2 15 2 16 9 56 8 46 8 45 8 47 8 46 9 39 8 29 8 24 8 21 8 18 9 17 8 17 8 14 8 12 8 9 9 7 8 6 8 6 8 5 8 4 9 3 8 4 8 3 2 1 32 10 33 7 33 6 33 5 33 4 32 2 33 3 33 2 33 1 98 4 99 2 98 2 98 1 99 0 98 1 99 1 98 0 98 0 66 1"/>
<path d="M2478 711l2 16 2 16 2 15 2 16 1 17 2 18 2 16 2 15 2 15 9 56 8 45 8 44 8 46 8 45 9 39 8 29 8 24 8 20 8 18 9 17 8 16 8 15 8 12 8 9 9 7 8 6 8 6 8 5 8 4 9 4 8 3 8 3 2 1 32 11 33 7 33 7 33 5 33 4 32 3 33 3 33 2 33 2 98 4 99 3 98 2 98 1 99 1 98 1 99 1 98 0 98 1 66 0"/>
<path d="M2470 615l2 25 2 20 2 17 2 14 2 13 2 13 2 14 2 14 1 16 2 17 2 16 2 15 2 14 9 54 8 45 8 42 8 44 8 44 9 39 8 30 8 24 8 21 8 19 9 17 8 16 8 15 8 13 8 11 9 7 8 8 8 6 8 6 8 5 9 4 8 4 8 4 2 1 32 13 33 10 33 8 33 7 33 6 32 4 33 4 33 4 33 3 98 6 99 5 98 3 98 2 99 1 98 1 99 1 98 1 98 0 66 1"/>
<path d="M2470 619l2 26 2 22 2 19 2 16 2 15 2 15 2 15 2 15 1 17 2 17 2 16 2 16 2 14 9 56 8 45 8 42 8 44 8 45 9 40 8 31 8 24 8 21 8 18 9 17 8 16 8 15 8 13 8 10 9 8 8 6 8 6 8 6 8 4 9 4 8 4 8 3 2 0 32 11 33 8 33 6 33 5 33 4 32 3 33 3 33 2 33 2 98 4 99 3 98 1 98 1 99 1 98 1 99 1 98 0 98 1 66 0"/>
<path d="M2472 651l2 24 2 21 2 18 2 16 2 16 2 17 2 16 1 18 2 17 2 17 2 15 2 15 9 57 8 46 8 42 8 44 8 45 9 41 8 31 8 25 8 20 8 18 9 17 8 15 8 15 8 13 8 10 9 7 8 6 8 5 8 5 8 4 9 3 8 3 8 3 2 0 32 9 33 6 33 4 33 4 33 3 32 1 33 2 33 1 33 1 98 2 99 2 98 1 98 1 99 0 98 1 99 1 98 0 98 1 66 0"/>
<path d="M2480 702l2 14 2 14 2 14 1 16 2 18 2 16 2 15 2 14 9 55 8 46 8 41 8 42 8 43 9 41 8 33 8 25 8 21 8 19 9 17 8 16 8 15 8 14 8 11 9 9 8 7 8 6 8 6 8 5 9 4 8 4 8 3 2 1 32 11 33 9 33 6 33 5 33 4 32 3 33 3 33 2 33 2 98 3 99 3 98 1 98 1 99 1 98 1 99 1 98 0 98 1 66 0"/>
<path d="M2478 673l2 11 2 11 2 12 2 13 1 16 2 16 2 16 2 15 2 14 9 53 8 44 8 40 8 40 8 41 9 40 8 34 8 25 8 22 8 19 9 17 8 16 8 15 8 14 8 13 9 10 8 7 8 7 8 7 8 5 9 5 8 5 8 4 2 1 32 14 33 11 33 9 33 8 33 6 32 6 33 4 33 4 33 4 98 8 99 5 98 4 98 3 99 1 98 2 99 1 98 1 98 1 66 0"/>
<path d="M2474 635l2 14 2 11 2 9 2 10 2 11 2 12 1 14 2 16 2 16 2 14 2 14 9 52 8 43 8 38 8 39 8 41 9 38 8 34 8 25 8 21 8 19 9 17 8 16 8 15 8 14 8 13 9 10 8 8 8 7 8 7 8 5 9 6 8 5 8 4 2 1 32 15 33 12 33 9 33 8 33 8 32 6 33 5 33 4 33 4 98 10 99 6 98 5 98 3 99 2 98 2 99 2 98 1 98 1 66 0"/>
<path d="M2478 656l2 9 2 9 2 10 2 12 1 14 2 17 2 15 2 14 2 14 9 52 8 44 8 39 8 39 8 41 9 39 8 33 8 26 8 22 8 20 9 17 8 16 8 16 8 14 8 13 9 11 8 8 8 8 8 7 8 6 9 6 8 5 8 4 2 1 32 16 33 13 33 10 33 9 33 7 32 6 33 5 33 5 33 4 98 8 99 6 98 4 98 3 99 2 98 2 99 1 98 1 98 1 66 0"/>
<path d="M2466 542l2 32 2 25 2 19 2 16 2 14 2 11 2 9 2 10 2 11 2 12 1 14 2 16 2 15 2 15 2 14 9 51 8 44 8 38 8 37 8 40 9 39 8 34 8 26 8 21 8 19 9 17 8 16 8 15 8 14 8 13 9 10 8 8 8 7 8 7 8 6 9 5 8 5 8 4 2 1 32 14 33 12 33 9 33 8 33 7 32 6 33 5 33 5 33 4 98 9 99 7 98 4 98 4 99 2 98 2 99 2 98 1 98 1 66 0"/>
<path d="M2478 677l2 12 2 12 2 13 2 14 1 15 2 17 2 16 2 15 2 14 9 54 8 45 8 39 8 39 8 40 9 40 8 35 8 27 8 22 8 19 9 17 8 15 8 15 8 15 8 12 9 11 8 8 8 6 8 6 8 5 9 5 8 4 8 4 2 1 32 12 33 9 33 8 33 5 33 5 32 5 33 3 33 3 33 2 98 6 99 4 98 2 98 2 99 2 98 1 99 1 98 0 98 1 66 0"/>
<path d="M2478 668l2 11 2 11 2 12 2 13 1 15 2 17 2 16 2 15 2 14 9 53 8 44 8 39 8 37 8 40 9 40 8 35 8 27 8 22 8 19 9 17 8 16 8 14 8 15 8 13 9 10 8 9 8 7 8 6 8 5 9 5 8 5 8 4 2 0 32 13 33 10 33 8 33 6 33 5 32 4 33 4 33 3 33 3 98 6 99 4 98 3 98 2 99 1 98 1 99 1 98 1 98 1 66 0"/>
<path d="M2470 594l2 17 2 14 2 13 2 11 2 8 2 9 2 10 2 11 1 15 2 16 2 15 2 15 2 14 9 52 8 44 8 38 8 38 8 39 9 38 8 35 8 29 8 22 8 20 9 18 8 16 8 16 8 14 8 14 9 12 8 10 8 7 8 7 8 7 9 6 8 5 8 5 2 1 32 15 33 13 33 10 33 8 33 7 32 5 33 5 33 4 33 4 98 7 99 6 98 3 98 2 99 2 98 1 99 1 98 1 98 1 66 0"/>
<path d="M2472 607l2 12 2 12 2 10 2 7 2 8 2 9 2 10 1 14 2 16 2 15 2 14 2 14 9 51 8 44 8 38 8 36 8 39 9 38 8 34 8 29 8 22 8 20 9 18 8 16 8 15 8 15 8 14 9 12 8 9 8 8 8 7 8 7 9 6 8 5 8 5 2 1 32 17 33 13 33 10 33 9 33 8 32 6 33 5 33 5 33 3 98 9 99 6 98 4 98 3 99 2 98 1 99 2 98 0 98 1 66 1"/>
<path d="M2472 610l2 14 2 12 2 11 2 8 2 9 2 10 2 11 1 14 2 16 2 15 2 15 2 13 9 52 8 43 8 38 8 36 8 38 9 38 8 35 8 28 8 23 8 19 9 18 8 15 8 15 8 15 8 13 9 12 8 10 8 8 8 7 8 6 9 6 8 5 8 4 2 1 32 16 33 12 33 10 33 9 33 7 32 6 33 5 33 5 33 4 98 9 99 6 98 5 98 3 99 3 98 1 99 2 98 1 98 1 66 0"/>
<path d="M2474 629l2 14 2 12 2 10 2 9 2 11 2 12 1 14 2 17 2 15 2 15 2 14 9 52 8 43 8 38 8 37 8 38 9 38 8 35 8 29 8 22 8 20 9 17 8 16 8 14 8 15 8 13 9 11 8 10 8 7 8 7 8 5 9 6 8 5 8 4 2 1 32 13 33 11 33 9 33 7 33 6 32 5 33 4 33 3 33 3 98 7 99 5 98 4 98 2 99 2 98 1 99 1 98 1 98 1 66 1"/>
<path d="M2468 568l2 22 2 15 2 12 2 12 2 11 2 8 2 8 2 9 2 11 1 14 2 16 2 15 2 14 2 13 9 50 8 43 8 37 8 34 8 35 9 37 8 34 8 30 8 23 8 20 9 17 8 15 8 14 8 14 8 13 9 13 8 10 8 8 8 7 8 6 9 6 8 5 8 4 2 1 32 15 33 12 33 9 33 8 33 7 32 6 33 6 33 4 33 4 98 11 99 7 98 5 98 5 99 3 98 2 99 2 98 2 98 1 66 1"/>
<path d="M2474 602l2 9 2 7 2 6 2 5 2 7 2 8 1 12 2 16 2 14 2 14 2 13 9 48 8 41 8 35 8 33 8 34 9 35 8 33 8 30 8 22 8 20 9 17 8 15 8 15 8 14 8 13 9 12 8 11 8 9 8 7 8 7 9 6 8 6 8 5 2 1 32 16 33 14 33 12 33 10 33 9 32 7 33 7 33 6 33 6 98 13 99 10 98 8 98 5 99 5 98 3 99 3 98 2 98 2 66 1"/>
<path d="M2478 621l2 7 2 6 2 7 2 10 1 13 2 16 2 14 2 15 2 13 9 50 8 44 8 37 8 35 8 35 9 37 8 35 8 31 8 24 8 21 9 19 8 16 8 16 8 14 8 15 9 13 8 12 8 10 8 8 8 7 9 7 8 6 8 5 2 1 32 19 33 14 33 12 33 10 33 8 32 7 33 6 33 5 33 4 98 10 99 6 98 5 98 3 99 2 98 2 99 1 98 1 98 1 66 0"/>
<path d="M2474 592l2 6 2 5 2 4 2 4 2 4 2 8 1 11 2 15 2 14 2 14 2 12 9 48 8 41 8 35 8 33 8 34 9 34 8 33 8 30 8 24 8 20 9 18 8 16 8 15 8 14 8 14 9 13 8 12 8 10 8 8 8 7 9 7 8 7 8 6 2 1 32 19 33 17 33 14 33 11 33 11 32 9 33 8 33 7 33 6 98 15 99 11 98 8 98 6 99 4 98 4 99 2 98 2 98 2 66 1"/>
<path d="M2474 592l2 6 2 6 2 4 2 4 2 5 2 7 1 12 2 15 2 14 2 13 2 13 9 47 8 41 8 35 8 33 8 33 9 35 8 33 8 30 8 24 8 20 9 18 8 16 8 15 8 14 8 14 9 13 8 12 8 10 8 8 8 7 9 7 8 7 8 6 2 1 32 19 33 17 33 14 33 12 33 10 32 10 33 8 33 7 33 7 98 16 99 12 98 9 98 6 99 5 98 4 99 3 98 2 98 2 66 1"/>
<path d="M2468 563l2 19 2 13 2 9 2 9 2 9 2 7 2 6 2 7 2 9 1 13 2 16 2 15 2 14 2 13 9 50 8 43 8 37 8 33 8 35 9 35 8 35 8 31 8 24 8 21 9 18 8 16 8 15 8 14 8 14 9 13 8 12 8 9 8 8 8 7 9 7 8 5 8 6 2 1 32 17 33 13 33 12 33 9 33 7 32 7 33 6 33 5 33 4 98 10 99 7 98 5 98 3 99 2 98 2 99 2 98 1 98 1 66 1"/>
<path d="M2476 607l2 8 2 6 2 6 2 6 2 9 1 13 2 16 2 14 2 14 2 14 9 49 8 43 8 37 8 34 8 34 9 36 8 34 8 32 8 25 8 21 9 18 8 17 8 15 8 15 8 14 9 13 8 12 8 11 8 8 8 7 9 7 8 6 8 6 2 1 32 18 33 15 33 12 33 9 33 9 32 7 33 6 33 5 33 4 98 10 99 6 98 5 98 3 99 2 98 2 99 2 98 1 98 1 66 0"/>
<path d="M2468 561l2 17 2 11 2 8 2 7 2 7 2 6 2 5 2 7 2 8 1 12 2 16 2 15 2 13 2 14 9 49 8 42 8 37 8 33 8 34 9 35 8 34 8 31 8 26 8 20 9 19 8 16 8 15 8 15 8 14 9 13 8 12 8 10 8 9 8 7 9 7 8 6 8 6 2 1 32 18 33 15 33 12 33 10 33 9 32 7 33 7 33 5 33 5 98 10 99 8 98 5 98 4 99 2 98 2 99 2 98 1 98 1 66 1"/>
<path d="M2470 579l2 11 2 8 2 8 2 8 2 7 2 5 2 6 2 9 1 12 2 15 2 15 2 14 2 13 9 48 8 41 8 35 8 32 8 32 9 34 8 33 8 30 8 25 8 20 9 18 8 15 8 14 8 14 8 13 9 12 8 12 8 10 8 8 8 6 9 6 8 6 8 5 2 1 32 17 33 13 33 11 33 10 33 8 32 7 33 7 33 6 33 5 98 13 99 10 98 7 98 6 99 5 98 3 99 3 98 2 98 2 66 1"/>
</g>
<g fill="none" stroke="#4a1a28" stroke-width="5.5" stroke-opacity="0.24" transform="scale(.1)">
<path d="M2474 697l2 22 2 20 2 19 2 19 2 19 2 18 1 18 2 18 2 17 2 16 2 15 9 57 8 47 8 47 8 49 8 47 9 37 8 27 8 23 8 19 8 18 9 17 8 16 8 13 8 9 8 7 9 6 8 6 8 4 8 4 8 4 9 3 8 2 8 3 2 0 32 8 33 6 33 4 33 4 33 2 32 2 33 1 33 2 33 1 98 2 99 2 98 1 98 1 99 0 98 1 99 0 98 1 98 0 66 0"/>
<path d="M2482 773l2 18 2 18 1 18 2 18 2 17 2 16 2 15 9 57 8 48 8 46 8 50 8 46 9 38 8 27 8 24 8 19 8 18 9 18 8 15 8 14 8 10 8 7 9 6 8 6 8 5 8 4 8 3 9 3 8 3 8 3 2 0 32 8 33 5 33 4 33 4 33 2 32 1 33 2 33 1 33 1 98 2 99 1 98 1 98 0 99 1 98 0 99 1 98 0 98 1 66 0"/>
<path d="M2474 689l2 21 2 18 2 18 2 18 2 17 2 18 1 17 2 18 2 17 2 16 2 15 9 56 8 47 8 47 8 48 8 46 9 38 8 27 8 24 8 20 8 18 9 17 8 16 8 13 8 11 8 7 9 7 8 6 8 5 8 4 8 4 9 3 8 3 8 3 2 1 32 9 33 6 33 5 33 4 33 3 32 2 33 2 33 2 33 1 98 3 99 2 98 1 98 0 99 1 98 1 99 0 98 1 98 0 66 0"/>
<path d="M2478 728l2 18 2 18 2 17 2 18 1 18 2 18 2 17 2 16 2 15 9 57 8 48 8 47 8 49 8 46 9 39 8 28 8 24 8 20 8 19 9 17 8 16 8 15 8 10 8 8 9 7 8 6 8 5 8 5 8 4 9 3 8 3 8 3 2 1 32 9 33 7 33 4 33 4 33 3 32 2 33 2 33 1 33 1 98 3 99 1 98 1 98 1 99 0 98 1 99 0 98 0 98 1 66 0"/>
<path d="M2474 681l2 19 2 17 2 17 2 16 2 16 2 17 1 17 2 17 2 17 2 15 2 16 9 55 8 47 8 45 8 48 8 45 9 38 8 28 8 23 8 21 8 18 9 17 8 17 8 14 8 11 8 8 9 7 8 6 8 5 8 5 8 4 9 4 8 4 8 3 2 0 32 11 33 7 33 7 33 4 33 4 32 3 33 3 33 2 33 2 98 4 99 2 98 2 98 1 99 1 98 0 99 1 98 0 98 1 66 0"/>
<path d="M2470 629l2 29 2 25 2 20 2 18 2 17 2 16 2 17 2 17 1 17 2 18 2 17 2 16 2 15 9 56 8 47 8 45 8 48 8 46 9 38 8 29 8 23 8 21 8 18 9 17 8 16 8 14 8 12 8 7 9 7 8 7 8 5 8 4 8 4 9 4 8 3 8 3 2 1 32 9 33 7 33 5 33 4 33 4 32 2 33 2 33 1 33 2 98 3 99 1 98 1 98 1 99 1 98 0 99 1 98 0 98 1 66 0"/>
<path d="M2472 654l2 24 2 19 2 17 2 16 2 16 2 16 2 16 1 18 2 17 2 17 2 16 2 15 9 56 8 47 8 46 8 47 8 46 9 39 8 29 8 24 8 20 8 19 9 17 8 17 8 14 8 12 8 8 9 7 8 7 8 6 8 5 8 4 9 4 8 3 8 3 2 1 32 10 33 8 33 5 33 5 33 3 32 2 33 3 33 1 33 2 98 2 99 2 98 1 98 1 99 0 98 1 99 1 98 0 98 0 66 1"/>
<path d="M2466 550l2 39 2 33 2 27 2 22 2 18 2 16 2 15 2 15 2 15 2 16 1 17 2 17 2 17 2 16 2 15 9 56 8 47 8 45 8 48 8 46 9 39 8 29 8 24 8 22 8 18 9 18 8 17 8 15 8 13 8 9 9 7 8 7 8 6 8 6 8 5 9 4 8 4 8 3 2 1 32 12 33 8 33 6 33 5 33 4 32 3 33 2 33 2 33 2 98 3 99 2 98 1 98 1 99 1 98 0 99 1 98 0 98 1 66 0"/>
<path d="M2478 728l2 18 2 17 2 18 2 17 1 18 2 18 2 17 2 16 2 15 9 56 8 47 8 45 8 47 8 46 9 40 8 28 8 24 8 20 8 18 9 17 8 16 8 14 8 11 8 8 9 6 8 6 8 5 8 4 8 4 9 3 8 3 8 2 2 1 32 8 33 5 33 5 33 3 33 2 32 2 33 1 33 1 33 1 98 2 99 2 98 1 98 0 99 1 98 0 99 1 98 0 98 1 66 0"/>
<path d="M2470 623l2 27 2 23 2 19 2 16 2 16 2 15 2 16 2 16 1 17 2 17 2 17 2 15 2 15 9 56 8 46 8 44 8 47 8 45 9 40 8 29 8 24 8 21 8 18 9 17 8 17 8 14 8 13 8 8 9 8 8 6 8 6 8 5 8 5 9 4 8 3 8 3 2 1 32 11 33 8 33 6 33 4 33 4 32 3 33 2 33 2 33 2 98 3 99 2 98 1 98 1 99 1 98 1 99 0 98 1 98 0 66 1"/>
<path d="M2470 623l2 28 2 23 2 20 2 16 2 15 2 16 2 16 2 15 1 17 2 18 2 16 2 15 2 15 9 55 8 46 8 44 8 46 8 45 9 39 8 29 8 24 8 20 8 18 9 17 8 16 8 15 8 12 8 9 9 7 8 7 8 5 8 5 8 5 9 3 8 4 8 3 2 1 32 10 33 8 33 6 33 5 33 4 32 3 33 3 33 2 33 2 98 4 99 3 98 2 98 1 99 1 98 1 99 0 98 1 98 1 66 0"/>
<path d="M2468 586l2 32 2 25 2 21 2 18 2 14 2 14 2 14 2 15 2 15 1 16 2 17 2 16 2 15 2 15 9 54 8 46 8 43 8 45 8 45 9 39 8 30 8 24 8 21 8 18 9 18 8 16 8 15 8 13 8 10 9 8 8 7 8 6 8 6 8 5 9 4 8 4 8 4 2 1 32 13 33 10 33 8 33 6 33 5 32 5 33 3 33 3 33 3 98 6 99 4 98 2 98 2 99 1 98 1 99 1 98 0 98 1 66 0"/>
<path d="M2474 678l2 20 2 17 2 17 2 17 2 16 2 17 1 17 2 18 2 16 2 16 2 15 9 56 8 46 8 44 8 46 8 45 9 40 8 30 8 25 8 20 8 18 9 17 8 16 8 15 8 12 8 9 9 7 8 7 8 5 8 5 8 4 9 3 8 4 8 3 2 0 32 10 33 6 33 5 33 4 33 3 32 2 33 2 33 1 33 2 98 2 99 2 98 1 98 1 99 1 98 0 99 1 98 0 98 1 66 0"/>
<path d="M2476 697l2 17 2 17 2 16 2 16 2 17 1 17 2 18 2 16 2 16 2 15 9 57 8 46 8 44 8 46 8 46 9 40 8 30 8 24 8 21 8 19 9 16 8 17 8 15 8 12 8 9 9 7 8 7 8 5 8 5 8 4 9 4 8 3 8 3 2 1 32 9 33 7 33 5 33 4 33 2 32 3 33 1 33 2 33 1 98 2 99 2 98 1 98 1 99 0 98 1 99 0 98 1 98 0 66 1"/>
<path d="M2478 696l2 15 2 14 2 14 2 15 1 16 2 17 2 16 2 15 2 15 9 55 8 45 8 42 8 44 8 44 9 40 8 30 8 24 8 21 8 18 9 17 8 17 8 15 8 13 8 10 9 7 8 7 8 6 8 6 8 4 9 5 8 3 8 4 2 1 32 11 33 9 33 7 33 6 33 5 32 4 33 3 33 2 33 3 98 5 99 3 98 2 98 2 99 1 98 1 99 1 98 0 98 1 66 0"/>
<path d="M2472 652l2 24 2 20 2 17 2 17 2 16 2 17 2 16 1 18 2 17 2 17 2 16 2 15 9 57 8 46 8 44 8 45 8 46 9 40 8 32 8 24 8 21 8 19 9 17 8 16 8 15 8 13 8 10 9 8 8 6 8 6 8 5 8 4 9 4 8 4 8 3 2 0 32 11 33 7 33 5 33 5 33 3 32 2 33 2 33 2 33 2 98 3 99 2 98 1 98 1 99 0 98 1 99 0 98 1 98 0 66 0"/>
<path d="M2470 620l2 26 2 23 2 20 2 15 2 15 2 16 2 15 2 16 1 17 2 17 2 16 2 16 2 15 9 55 8 46 8 43 8 45 8 44 9 41 8 31 8 24 8 21 8 18 9 17 8 16 8 15 8 13 8 10 9 8 8 6 8 6 8 5 8 5 9 4 8 3 8 3 2 1 32 10 33 8 33 5 33 5 33 4 32 2 33 2 33 2 33 2 98 3 99 2 98 1 98 1 99 1 98 0 99 1 98 1 98 0 66 0"/>
<path d="M2470 617l2 25 2 21 2 19 2 15 2 14 2 14 2 15 2 15 1 16 2 17 2 16 2 16 2 14 9 55 8 45 8 41 8 43 8 44 9 40 8 31 8 24 8 21 8 18 9 16 8 16 8 15 8 13 8 11 9 8 8 6 8 6 8 5 8 5 9 4 8 3 8 4 2 0 32 11 33 8 33 6 33 5 33 4 32 4 33 2 33 3 33 2 98 4 99 3 98 2 98 1 99 1 98 1 99 1 98 1 98 0 66 1"/>
<path d="M2476 685l2 16 2 14 2 15 2 15 2 15 1 17 2 17 2 16 2 15 2 15 9 54 8 45 8 42 8 43 8 43 9 40 8 32 8 24 8 21 8 18 9 16 8 16 8 15 8 13 8 11 9 7 8 7 8 6 8 5 8 4 9 4 8 4 8 3 2 1 32 11 33 8 33 6 33 5 33 5 32 3 33 3 33 3 33 2 98 5 99 4 98 2 98 2 99 1 98 1 99 1 98 1 98 1 66 0"/>
<path d="M2470 614l2 24 2 20 2 18 2 14 2 14 2 13 2 14 2 15 1 16 2 17 2 16 2 16 2 14 9 55 8 46 8 42 8 43 8 44 9 40 8 32 8 25 8 22 8 19 9 17 8 17 8 15 8 14 8 11 9 9 8 7 8 6 8 6 8 5 9 5 8 4 8 4 2 0 32 13 33 10 33 7 33 6 33 5 32 4 33 3 33 2 33 3 98 5 99 3 98 2 98 1 99 1 98 1 99 1 98 0 98 1 66 0"/>
<path d="M2478 680l2 12 2 12 2 13 2 14 1 16 2 17 2 15 2 15 2 15 9 54 8 45 8 41 8 42 8 44 9 40 8 32 8 25 8 21 8 19 9 17 8 17 8 16 8 13 8 12 9 9 8 7 8 7 8 6 8 6 9 4 8 5 8 3 2 1 32 14 33 10 33 8 33 6 33 5 32 5 33 3 33 3 33 2 98 6 99 3 98 2 98 2 99 1 98 1 99 1 98 0 98 1 66 0"/>
<path d="M2472 637l2 20 2 17 2 15 2 13 2 13 2 14 2 14 1 16 2 17 2 16 2 15 2 14 9 54 8 45 8 40 8 42 8 43 9 40 8 32 8 24 8 21 8 19 9 16 8 16 8 15 8 14 8 11 9 8 8 7 8 7 8 5 8 5 9 5 8 3 8 4 2 1 32 12 33 9 33 7 33 6 33 5 32 4 33 4 33 3 33 2 98 6 99 4 98 3 98 2 99 1 98 1 99 1 98 1 98 1 66 0"/>
<path d="M2468 583l2 29 2 24 2 20 2 18 2 14 2 14 2 13 2 14 2 14 1 16 2 17 2 16 2 16 2 14 9 55 8 45 8 41 8 42 8 43 9 40 8 33 8 25 8 21 8 19 9 17 8 16 8 15 8 14 8 11 9 9 8 7 8 6 8 6 8 5 9 4 8 4 8 4 2 0 32 12 33 9 33 7 33 6 33 4 32 4 33 3 33 2 33 2 98 5 99 3 98 2 98 1 99 1 98 1 99 0 98 1 98 1 66 0"/>
</g>
<g fill="none" stroke="#303a36" stroke-width="5.5" stroke-opacity="0.20" transform="scale(.1)">
<path d="M2468 578l2 27 2 21 2 17 2 15 2 12 2 11 2 11 2 12 2 12 1 15 2 17 2 15 2 15 2 14 9 53 8 44 8 39 8 41 8 42 9 39 8 33 8 25 8 21 8 19 9 17 8 16 8 16 8 14 8 12 9 9 8 8 8 7 8 6 8 6 9 5 8 5 8 4 2 1 32 15 33 12 33 9 33 8 33 7 32 6 33 5 33 4 33 4 98 9 99 6 98 4 98 3 99 2 98 2 99 1 98 1 98 1 66 1"/>
<path d="M2472 638l2 20 2 19 2 15 2 14 2 14 2 14 2 15 1 17 2 17 2 17 2 15 2 15 9 55 8 46 8 42 8 42 8 44 9 41 8 34 8 26 8 22 8 19 9 17 8 16 8 16 8 14 8 12 9 9 8 7 8 6 8 6 8 5 9 5 8 4 8 3 2 1 32 12 33 9 33 6 33 5 33 5 32 3 33 2 33 2 33 2 98 4 99 2 98 2 98 1 99 1 98 0 99 1 98 1 98 0 66 0"/>
<path d="M2470 613l2 24 2 20 2 19 2 15 2 13 2 14 2 14 2 15 1 16 2 17 2 17 2 15 2 14 9 55 8 45 8 41 8 41 8 43 9 41 8 33 8 26 8 21 8 19 9 16 8 16 8 16 8 13 8 12 9 9 8 7 8 6 8 6 8 5 9 4 8 4 8 3 2 1 32 12 33 8 33 7 33 5 33 5 32 3 33 3 33 2 33 2 98 5 99 3 98 2 98 1 99 1 98 1 99 1 98 1 98 0 66 1"/>
<path d="M2472 631l2 19 2 17 2 13 2 12 2 13 2 12 2 14 1 16 2 16 2 16 2 15 2 14 9 54 8 44 8 40 8 40 8 43 9 39 8 34 8 25 8 21 8 19 9 16 8 16 8 15 8 14 8 12 9 10 8 7 8 6 8 6 8 6 9 4 8 4 8 4 2 1 32 13 33 10 33 8 33 6 33 6 32 4 33 4 33 4 33 3 98 7 99 4 98 3 98 3 99 1 98 2 99 1 98 0 98 1 66 1"/>
<path d="M2472 635l2 20 2 18 2 15 2 13 2 14 2 14 2 15 1 16 2 17 2 16 2 15 2 15 9 55 8 46 8 40 8 42 8 43 9 40 8 35 8 25 8 22 8 19 9 17 8 16 8 16 8 14 8 12 9 9 8 7 8 7 8 5 8 6 9 4 8 4 8 4 2 0 32 12 33 9 33 6 33 5 33 4 32 4 33 2 33 2 33 2 98 4 99 3 98 2 98 1 99 1 98 0 99 1 98 1 98 0 66 0"/>
<path d="M2476 662l2 14 2 11 2 12 2 12 2 14 1 15 2 17 2 15 2 15 2 14 9 53 8 45 8 39 8 40 8 41 9 40 8 33 8 26 8 21 8 19 9 17 8 15 8 15 8 14 8 13 9 9 8 7 8 7 8 6 8 5 9 5 8 4 8 4 2 1 32 13 33 10 33 7 33 7 33 5 32 5 33 4 33 3 33 3 98 6 99 5 98 3 98 2 99 1 98 2 99 0 98 1 98 1 66 1"/>
<path d="M2472 635l2 21 2 18 2 16 2 14 2 14 2 14 2 15 1 16 2 18 2 16 2 15 2 15 9 55 8 46 8 40 8 41 8 42 9 41 8 35 8 27 8 22 8 19 9 17 8 16 8 15 8 14 8 13 9 9 8 8 8 6 8 6 8 5 9 5 8 4 8 3 2 1 32 11 33 9 33 6 33 5 33 4 32 4 33 2 33 2 33 2 98 4 99 3 98 2 98 1 99 1 98 0 99 1 98 1 98 0 66 1"/>
<path d="M2470 605l2 22 2 17 2 17 2 13 2 12 2 12 2 12 2 14 1 15 2 17 2 16 2 14 2 15 9 53 8 45 8 39 8 40 8 41 9 40 8 34 8 26 8 22 8 19 9 17 8 16 8 15 8 14 8 13 9 10 8 8 8 6 8 7 8 5 9 5 8 4 8 4 2 1 32 12 33 10 33 8 33 6 33 5 32 5 33 3 33 3 33 3 98 5 99 4 98 3 98 2 99 1 98 1 99 1 98 1 98 0 66 1"/>
<path d="M2466 543l2 34 2 26 2 20 2 17 2 16 2 13 2 11 2 11 2 12 2 13 1 15 2 17 2 15 2 15 2 14 9 54 8 45 8 39 8 40 8 41 9 39 8 35 8 27 8 22 8 19 9 17 8 16 8 15 8 15 8 13 9 10 8 8 8 7 8 6 8 6 9 5 8 5 8 4 2 0 32 14 33 10 33 8 33 6 33 5 32 5 33 3 33 3 33 2 98 6 99 3 98 2 98 2 99 1 98 1 99 1 98 1 98 0 66 1"/>
<path d="M2470 605l2 22 2 18 2 16 2 14 2 12 2 12 2 13 2 13 1 16 2 17 2 16 2 15 2 14 9 54 8 45 8 39 8 39 8 41 9 40 8 35 8 27 8 22 8 19 9 17 8 16 8 15 8 14 8 13 9 10 8 8 8 7 8 6 8 5 9 5 8 4 8 4 2 0 32 13 33 9 33 7 33 5 33 5 32 4 33 3 33 2 33 2 98 5 99 3 98 2 98 2 99 1 98 1 99 0 98 1 98 1 66 0"/>
<path d="M2480 664l2 9 2 11 2 11 1 14 2 16 2 16 2 14 2 14 9 51 8 44 8 38 8 37 8 40 9 38 8 34 8 27 8 21 8 19 9 17 8 16 8 15 8 15 8 13 9 11 8 8 8 7 8 7 8 6 9 5 8 5 8 5 2 0 32 15 33 12 33 10 33 8 33 7 32 6 33 6 33 4 33 4 98 9 99 7 98 5 98 3 99 2 98 2 99 2 98 1 98 1 66 0"/>
<path d="M2480 675l2 10 2 12 2 12 1 15 2 17 2 15 2 15 2 14 9 52 8 44 8 38 8 38 8 40 9 39 8 34 8 27 8 22 8 19 9 17 8 15 8 15 8 15 8 12 9 11 8 9 8 7 8 6 8 6 9 5 8 4 8 4 2 1 32 14 33 11 33 8 33 7 33 6 32 6 33 4 33 4 33 3 98 8 99 6 98 4 98 3 99 2 98 1 99 2 98 1 98 0 66 1"/>
<path d="M2470 597l2 18 2 14 2 14 2 11 2 9 2 9 2 10 2 12 1 14 2 17 2 15 2 14 2 14 9 52 8 44 8 38 8 38 8 39 9 39 8 35 8 27 8 22 8 20 9 17 8 16 8 16 8 14 8 14 9 11 8 9 8 8 8 7 8 6 9 6 8 5 8 4 2 1 32 16 33 13 33 10 33 9 33 7 32 6 33 6 33 4 33 4 98 10 99 7 98 4 98 3 99 3 98 1 99 2 98 1 98 1 66 0"/>
<path d="M2478 654l2 9 2 9 2 11 2 11 1 14 2 17 2 15 2 14 2 14 9 51 8 44 8 37 8 37 8 39 9 38 8 35 8 27 8 22 8 19 9 17 8 16 8 15 8 14 8 13 9 11 8 9 8 7 8 7 8 6 9 5 8 5 8 5 2 1 32 14 33 12 33 10 33 8 33 7 32 6 33 5 33 4 33 4 98 10 99 6 98 5 98 3 99 3 98 2 99 1 98 2 98 1 66 0"/>
<path d="M2468 573l2 24 2 18 2 15 2 14 2 11 2 10 2 9 2 11 2 12 1 14 2 17 2 15 2 14 2 14 9 52 8 44 8 38 8 38 8 39 9 38 8 35 8 28 8 23 8 19 9 17 8 16 8 15 8 15 8 13 9 11 8 10 8 7 8 7 8 6 9 5 8 5 8 5 2 1 32 14 33 12 33 9 33 8 33 7 32 5 33 5 33 4 33 3 98 9 99 5 98 4 98 3 99 2 98 1 99 1 98 1 98 1 66 1"/>
<path d="M2472 615l2 15 2 14 2 12 2 9 2 10 2 10 2 12 1 14 2 17 2 15 2 15 2 13 9 52 8 43 8 38 8 36 8 39 9 38 8 35 8 28 8 22 8 19 9 17 8 16 8 14 8 14 8 14 9 11 8 9 8 8 8 6 8 6 9 5 8 5 8 4 2 1 32 14 33 11 33 9 33 8 33 6 32 6 33 5 33 4 33 3 98 9 99 6 98 4 98 4 99 2 98 2 99 1 98 2 98 1 66 0"/>
<path d="M2466 538l2 29 2 21 2 15 2 11 2 11 2 9 2 6 2 7 2 8 2 10 1 13 2 16 2 15 2 14 2 13 9 50 8 42 8 36 8 35 8 37 9 37 8 34 8 28 8 22 8 20 9 17 8 16 8 14 8 15 8 13 9 12 8 10 8 8 8 7 8 6 9 6 8 6 8 5 2 1 32 16 33 13 33 11 33 10 33 8 32 7 33 6 33 5 33 5 98 11 99 9 98 5 98 5 99 3 98 2 99 2 98 2 98 1 66 1"/>
<path d="M2476 634l2 11 2 8 2 9 2 9 2 11 1 15 2 16 2 15 2 15 2 14 9 52 8 44 8 38 8 36 8 38 9 38 8 36 8 29 8 23 8 20 9 18 8 16 8 16 8 14 8 14 9 12 8 11 8 8 8 7 8 6 9 6 8 5 8 5 2 1 32 16 33 12 33 10 33 8 33 7 32 5 33 5 33 4 33 3 98 8 99 5 98 3 98 2 99 2 98 1 99 1 98 1 98 1 66 0"/>
<path d="M2476 638l2 12 2 9 2 9 2 10 2 11 1 14 2 16 2 15 2 15 2 14 9 51 8 43 8 37 8 36 8 37 9 38 8 35 8 29 8 22 8 19 9 17 8 16 8 14 8 15 8 13 9 12 8 9 8 8 8 7 8 6 9 5 8 5 8 4 2 1 32 14 33 12 33 9 33 8 33 7 32 5 33 5 33 4 33 4 98 9 99 7 98 4 98 4 99 2 98 2 99 2 98 1 98 1 66 1"/>
<path d="M2480 652l2 8 2 10 2 11 1 14 2 16 2 15 2 15 2 13 9 52 8 44 8 38 8 36 8 37 9 38 8 35 8 30 8 23 8 20 9 17 8 16 8 15 8 15 8 13 9 12 8 11 8 8 8 7 8 6 9 6 8 5 8 5 2 1 32 15 33 12 33 9 33 7 33 7 32 5 33 5 33 3 33 3 98 8 99 4 98 4 98 2 99 1 98 2 99 1 98 1 98 0 66 1"/>
<path d="M2476 629l2 10 2 8 2 8 2 8 2 11 1 14 2 15 2 15 2 15 2 13 9 51 8 42 8 37 8 35 8 37 9 37 8 35 8 29 8 23 8 19 9 18 8 15 8 15 8 14 8 14 9 12 8 11 8 8 8 7 8 6 9 6 8 5 8 5 2 1 32 16 33 13 33 11 33 8 33 8 32 7 33 6 33 5 33 4 98 11 99 8 98 5 98 4 99 3 98 3 99 1 98 2 98 1 66 1"/>
<path d="M2470 590l2 15 2 12 2 12 2 10 2 8 2 7 2 9 2 11 1 13 2 16 2 15 2 14 2 14 9 50 8 43 8 37 8 35 8 37 9 37 8 35 8 29 8 23 8 20 9 17 8 16 8 14 8 15 8 13 9 13 8 10 8 8 8 7 8 7 9 5 8 6 8 5 2 1 32 15 33 13 33 11 33 8 33 8 32 6 33 6 33 5 33 4 98 10 99 7 98 5 98 4 99 3 98 2 99 1 98 2 98 1 66 1"/>
<path d="M2482 655l2 9 2 10 1 14 2 16 2 16 2 14 2 14 9 51 8 44 8 37 8 36 8 37 9 37 8 35 8 30 8 24 8 20 9 18 8 16 8 15 8 14 8 14 9 13 8 10 8 9 8 7 8 7 9 6 8 5 8 5 2 1 32 16 33 13 33 10 33 8 33 7 32 6 33 5 33 4 33 3 98 8 99 6 98 3 98 3 99 2 98 1 99 1 98 1 98 1 66 1"/>
<path d="M2478 622l2 6 2 6 2 7 2 8 1 13 2 16 2 14 2 14 2 13 9 49 8 42 8 36 8 34 8 36 9 36 8 34 8 29 8 23 8 20 9 17 8 16 8 15 8 14 8 14 9 13 8 10 8 9 8 8 8 7 9 6 8 6 8 5 2 1 32 18 33 14 33 12 33 10 33 9 32 8 33 7 33 5 33 5 98 13 99 9 98 6 98 5 99 3 98 3 99 2 98 1 98 1 66 1"/>
<path d="M2470 592l2 17 2 13 2 13 2 11 2 10 2 9 2 10 2 11 1 14 2 17 2 15 2 15 2 14 9 51 8 44 8 38 8 36 8 37 9 38 8 35 8 30 8 24 8 20 9 18 8 16 8 14 8 15 8 13 9 12 8 11 8 8 8 7 8 6 9 6 8 5 8 5 2 0 32 15 33 11 33 9 33 7 33 6 32 5 33 4 33 3 33 3 98 7 99 4 98 3 98 2 99 2 98 1 99 1 98 1 98 1 66 0"/>
<path d="M2476 618l2 9 2 6 2 7 2 7 2 10 1 13 2 15 2 15 2 14 2 13 9 50 8 43 8 36 8 35 8 35 9 37 8 34 8 30 8 23 8 20 9 18 8 16 8 15 8 14 8 14 9 13 8 11 8 9 8 7 8 7 9 6 8 6 8 5 2 1 32 17 33 14 33 11 33 9 33 8 32 7 33 6 33 5 33 5 98 10 99 8 98 5 98 4 99 2 98 3 99 1 98 1 98 2 66 0"/>
<path d="M2478 627l2 7 2 6 2 8 2 10 1 13 2 16 2 15 2 14 2 13 9 51 8 43 8 37 8 35 8 36 9 36 8 35 8 30 8 24 8 21 9 18 8 16 8 15 8 15 8 14 9 13 8 11 8 9 8 8 8 7 9 6 8 6 8 6 2 1 32 17 33 14 33 11 33 10 33 8 32 7 33 6 33 5 33 4 98 10 99 7 98 5 98 3 99 3 98 2 99 1 98 1 98 1 66 1"/>
<path d="M2478 621l2 6 2 6 2 6 2 9 1 13 2 16 2 14 2 14 2 13 9 49 8 42 8 37 8 34 8 34 9 36 8 34 8 30 8 24 8 20 9 17 8 16 8 15 8 14 8 14 9 13 8 11 8 9 8 8 8 7 9 6 8 6 8 5 2 1 32 18 33 14 33 12 33 9 33 9 32 7 33 7 33 5 33 5 98 12 99 8 98 6 98 4 99 3 98 2 99 2 98 2 98 1 66 1"/>
<path d="M2470 586l2 13 2 11 2 10 2 10 2 7 2 7 2 8 2 10 1 13 2 16 2 15 2 14 2 14 9 50 8 43 8 37 8 34 8 35 9 36 8 35 8 30 8 24 8 20 9 18 8 16 8 14 8 15 8 13 9 13 8 11 8 9 8 8 8 6 9 6 8 6 8 5 2 1 32 16 33 13 33 10 33 9 33 7 32 7 33 5 33 5 33 4 98 9 99 7 98 5 98 3 99 3 98 2 99 1 98 1 98 1 66 1"/>
<path d="M2470 580l2 12 2 8 2 8 2 8 2 6 2 4 2 7 2 8 1 12 2 16 2 14 2 14 2 13 9 48 8 41 8 36 8 32 8 34 9 35 8 33 8 30 8 24 8 19 9 18 8 16 8 14 8 14 8 13 9 13 8 11 8 10 8 7 8 7 9 7 8 5 8 6 2 1 32 18 33 14 33 12 33 11 33 9 32 9 33 7 33 6 33 6 98 15 99 11 98 8 98 7 99 5 98 3 99 3 98 3 98 2 66 1"/>
<path d="M2466 536l2 27 2 19 2 13 2 9 2 9 2 8 2 7 2 6 2 7 2 9 1 13 2 15 2 15 2 14 2 13 9 49 8 41 8 36 8 33 8 33 9 35 8 34 8 30 8 24 8 20 9 18 8 15 8 14 8 14 8 13 9 13 8 11 8 10 8 7 8 7 9 6 8 5 8 5 2 1 32 17 33 13 33 11 33 10 33 8 32 7 33 6 33 6 33 5 98 12 99 9 98 7 98 6 99 4 98 3 99 2 98 2 98 2 66 1"/>
<path d="M2478 602l2 5 2 3 2 5 2 8 1 11 2 15 2 15 2 13 2 13 9 48 8 41 8 36 8 33 8 33 9 34 8 34 8 30 8 25 8 20 9 18 8 16 8 15 8 15 8 14 9 13 8 12 8 10 8 9 8 7 9 7 8 6 8 6 2 2 32 19 33 16 33 13 33 11 33 10 32 8 33 8 33 6 33 6 98 13 99 9 98 7 98 5 99 3 98 3 99 2 98 1 98 2 66 0"/>
<path d="M2472 591l2 8 2 9 2 7 2 7 2 6 2 6 2 9 1 13 2 15 2 15 2 14 2 13 9 50 8 42 8 37 8 33 8 34 9 35 8 34 8 31 8 26 8 21 9 18 8 16 8 15 8 15 8 13 9 14 8 12 8 10 8 8 8 8 9 6 8 6 8 6 2 1 32 18 33 14 33 12 33 10 33 8 32 7 33 6 33 6 33 4 98 11 99 8 98 5 98 4 99 2 98 2 99 2 98 1 98 2 66 0"/>
<path d="M2468 558l2 16 2 9 2 5 2 6 2 5 2 5 2 3 2 5 2 7 1 11 2 15 2 14 2 14 2 12 9 48 8 41 8 35 8 32 8 32 9 34 8 33 8 30 8 25 8 20 9 18 8 16 8 15 8 14 8 14 9 13 8 12 8 10 8 9 8 7 9 7 8 6 8 6 2 1 32 20 33 16 33 13 33 11 33 10 32 9 33 8 33 6 33 6 98 15 99 10 98 8 98 6 99 4 98 3 99 3 98 2 98 2 66 1"/>
<path d="M2468 555l2 15 2 7 2 4 2 4 2 4 2 3 2 2 2 4 2 6 1 11 2 15 2 14 2 13 2 13 9 47 8 41 8 35 8 33 8 32 9 34 8 33 8 30 8 25 8 21 9 18 8 17 8 16 8 14 8 14 9 14 8 12 8 11 8 10 8 8 9 7 8 7 8 6 2 2 32 21 33 17 33 15 33 12 33 11 32 9 33 8 33 7 33 6 98 15 99 10 98 7 98 5 99 4 98 3 99 2 98 2 98 1 66 1"/>
<path d="M2472 563l2 0 2 0 2 1 2 1 2 2 2 1 2 4 1 10 2 14 2 13 2 13 2 12 9 44 8 39 8 34 8 29 8 28 9 29 8 30 8 29 8 27 8 22 9 19 8 16 8 15 8 14 8 13 9 13 8 12 8 11 8 11 8 10 9 7 8 7 8 7 2 1 32 22 33 17 33 15 33 13 33 11 32 10 33 9 33 9 33 7 98 18 99 13 98 10 98 8 99 6 98 5 99 4 98 3 98 3 66 1"/>
</g>
<path d="M245.6 13.4L245.88 29.36L246.16 42.77L246.43 52.98L246.71 61.76L246.99 68.87L247.27 73.85L247.55 77.48L247.82 80.44L248.1 82.96L248.38 85.25L248.66 87.53L248.94 89.7L249.21 91.75L249.49 93.67L249.77 95.49L250.05 97.21L250.33 98.85L250.6 100.41L250.88 101.88L251.16 103.28L251.44 104.63L251.72 105.94L251.99 107.22L252.27 108.47L252.55 109.72L252.83 110.95L253.11 112.14L253.38 113.3L253.66 114.39L253.94 115.42L254.22 116.38L254.49 117.29L254.77 118.18L255.05 119.04L255.33 119.85L255.61 120.62L255.88 121.35L256.16 122.03L256.44 122.66L256.72 123.25L257 123.81L257.27 124.35L257.55 124.86L257.83 125.35L258.11 125.81L258.39 126.25L258.66 126.66L258.94 127.06L259.22 127.43L259.5 127.78L259.78 128.12L260.05 128.45L260.33 128.77L260.61 129.07L260.89 129.36L261.17 129.63L261.44 129.88L261.72 130.13L262 130.35L264.22 131.83L266.45 132.82L268.67 133.57L270.89 134.15L273.12 134.57L275.34 134.92L277.57 135.21L279.79 135.44L282.01 135.63L284.24 135.79L286.46 135.93L288.68 136.06L290.91 136.18L293.13 136.29L295.36 136.39L297.58 136.49L299.8 136.6L302.03 136.71L304.25 136.82L306.47 136.94L308.7 137.05L310.92 137.16L313.15 137.27L315.37 137.37L317.59 137.47L319.82 137.56L322.04 137.64L324.26 137.72L326.49 137.78L328.71 137.84L330.94 137.89L333.16 137.93L335.38 137.98L337.61 138.02L339.83 138.06L342.05 138.1L344.28 138.13L346.5 138.17L348.73 138.2L350.95 138.23L353.17 138.26L355.4 138.28L357.62 138.31L359.84 138.34L362.07 138.36L364.29 138.38L366.52 138.41L368.74 138.43L370.96 138.45L373.19 138.47L375.41 138.49L377.63 138.51L379.86 138.53L382.08 138.54L384.31 138.56L386.53 138.57L388.75 138.59L390.98 138.6L393.2 138.61" fill="none" stroke="#b03050" stroke-width="0.9"/>
<g fill="none" stroke-width="0.8">
<path d="M141.3 325.9L141.58 322.13L141.86 318.68L142.14 315.6L142.42 312.85L142.69 310.36L142.97 308.13L143.25 306.11L143.53 304.19L143.81 302.38L144.09 300.71L144.37 299.2L144.65 297.88L144.92 296.72L145.2 295.64L145.48 294.63L145.76 293.69L146.04 292.84L146.32 292.06L146.6 291.37L146.88 290.76L147.16 290.21L147.43 289.69L147.71 289.21L147.99 288.76L148.27 288.34L148.55 287.95L148.83 287.56L149.11 287.2L149.39 286.84L149.66 286.48L149.94 286.13L150.22 285.76L150.5 285.39L150.78 285.01L151.06 284.6L151.34 284.2L151.62 283.8L151.89 283.41L152.17 283.01L152.45 282.62L152.73 282.23L153.01 281.84L153.29 281.45L153.57 281.06L153.85 280.65L154.13 280.25L154.4 279.83L154.68 279.41L154.96 278.98L155.24 278.54L155.52 278.08L155.8 277.61L156.08 277.12L156.36 276.62L156.63 276.12L156.91 275.6L157.19 275.08L157.47 274.56L157.75 274.03L159.98 270.03L162.21 266.42L164.44 262.58L166.67 258.26L168.9 254.25L171.13 250.49L173.36 247.01L175.59 243.9L177.82 241.07L180.06 238.55L182.29 236.3L184.52 234.2L186.75 232.22L188.98 230.35L191.21 228.57L193.44 226.86L195.67 225.2L197.9 223.57L200.13 221.97L202.36 220.42L204.59 218.92L206.82 217.49L209.05 216.14L211.28 214.89L213.51 213.75L215.74 212.7L217.97 211.73L220.2 210.82L222.43 209.96L224.67 209.14L226.9 208.35L229.13 207.57L231.36 206.81L233.59 206.07L235.82 205.36L238.05 204.66L240.28 203.99L242.51 203.34L244.74 202.71L246.97 202.1L249.2 201.53L251.43 200.97L253.66 200.42L255.89 199.84L258.12 199.23L260.35 198.59L262.58 197.95L264.81 197.33L267.04 196.74L269.28 196.21L271.51 195.75L273.74 195.36L275.97 195L278.2 194.67L280.43 194.4L282.66 194.21L284.89 194.08L287.12 193.98L289.35 193.92" stroke="#666"/>
<path d="M141.3 325.9L141.58 320.51L141.86 315.34L142.14 310.41L142.42 305.75L142.69 301.37L142.97 297.31L143.25 293.41L143.53 289.63L143.81 286.07L144.09 282.81L144.37 279.93L144.65 277.51L144.92 275.39L145.2 273.43L145.48 271.61L145.76 269.93L146.04 268.35L146.32 266.85L146.6 265.42L146.88 264.04L147.16 262.67L147.43 261.32L147.71 259.95L147.99 258.54L148.27 257.07L148.55 255.53L148.83 253.93L149.11 252.3L149.39 250.63L149.66 248.95L149.94 247.27L150.22 245.59L150.5 243.92L150.78 242.28L151.06 240.67L151.34 239.11L151.62 237.6L151.89 236.16L152.17 234.8L152.45 233.52L152.73 232.35L153.01 231.25L153.29 230.18L153.57 229.16L153.85 228.17L154.13 227.22L154.4 226.31L154.68 225.44L154.96 224.6L155.24 223.8L155.52 223.04L155.8 222.31L156.08 221.63L156.36 220.96L156.63 220.3L156.91 219.64L157.19 218.98L157.47 218.35L157.75 217.72L159.98 213.75L162.21 212.01L164.44 210.73L166.67 209.78L168.9 209.13L171.13 208.78L173.36 208.56L175.59 208.37L177.82 208.22L180.06 208.11L182.29 208.04L184.52 208.02L186.75 208.02L188.98 208.02L191.21 208.02L193.44 208.02L195.67 208.02L197.9 208.02L200.13 208.02L202.36 208.03L204.59 208.07L206.82 208.12L209.05 208.19L211.28 208.28L213.51 208.38L215.74 208.5L217.97 208.64L220.2 208.79L222.43 209.04L224.67 209.47L226.9 210L229.13 210.52L231.36 211.04L233.59 211.61L235.82 212.2L238.05 212.81L240.28 213.41L242.51 213.98L244.74 214.52L246.97 214.99L249.2 215.41L251.43 215.81L253.66 216.22L255.89 216.69L258.12 217.25L260.35 217.82L262.58 218.3L264.81 218.73L267.04 219.12L269.28 219.49L271.51 219.84L273.74 220.18L275.97 220.53L278.2 220.88L280.43 221.25L282.66 221.61L284.89 221.97L287.12 222.33L289.35 222.69" stroke="#777" stroke-dasharray="0.8 1.2"/>
<path d="M141.3 325.9L141.58 316.43L141.86 307.41L142.14 299L142.42 291.36L142.69 284.61L142.97 278.36L143.25 272.44L143.53 266.89L143.81 261.74L144.09 257.03L144.37 252.79L144.65 249.04L144.92 245.53L145.2 242.12L145.48 238.85L145.76 235.72L146.04 232.76L146.32 229.98L146.6 227.41L146.88 225.06L147.16 222.96L147.43 221.11L147.71 219.54L147.99 218.25L148.27 217.06L148.55 215.95L148.83 214.9L149.11 213.92L149.39 213.02L149.66 212.19L149.94 211.44L150.22 210.78L150.5 210.19L150.78 209.7L151.06 209.29L151.34 208.96L151.62 208.64L151.89 208.34L152.17 208.05L152.45 207.77L152.73 207.51L153.01 207.27L153.29 207.06L153.57 206.86L153.85 206.7L154.13 206.56L154.4 206.45L154.68 206.38L154.96 206.34L155.24 206.34L155.52 206.37L155.8 206.43L156.08 206.52L156.36 206.63L156.63 206.77L156.91 206.92L157.19 207.09L157.47 207.27L157.75 207.46L159.98 208.95L162.21 210.46L164.44 212.16L166.67 214.09L168.9 216.38L171.13 219.2L173.36 222.18L175.59 225.05L177.82 228.03L180.06 230.93L182.29 233.55L184.52 235.76L186.75 237.74L188.98 239.58L191.21 241.35L193.44 243.1L195.67 244.78L197.9 246.32L200.13 247.69L202.36 248.93L204.59 250.09L206.82 251.19L209.05 252.26L211.28 253.33L213.51 254.42L215.74 255.52L217.97 256.62L220.2 257.7L222.43 258.76L224.67 259.77L226.9 260.74L229.13 261.64L231.36 262.48L233.59 263.3L235.82 264.08L238.05 264.82L240.28 265.54L242.51 266.23L244.74 266.89L246.97 267.52L249.2 268.13L251.43 268.71L253.66 269.23L255.89 269.67L258.12 270.06L260.35 270.4L262.58 270.72L264.81 271.06L267.04 271.41L269.28 271.72L271.51 271.94L273.74 272.04L275.97 272.02L278.2 271.96L280.43 271.87L282.66 271.76L284.89 271.53L287.12 271.13L289.35 270.63" stroke="#d6bcc4"/>
<path d="M141.3 325.9L141.58 316.37L141.86 307.38L142.14 299.03L142.42 291.41L142.69 284.6L142.97 278.59L143.25 273.14L143.53 268L143.81 262.9L144.09 257.58L144.37 251.87L144.65 246.13L144.92 240.79L145.2 236.28L145.48 232.64L145.76 229.34L146.04 226.37L146.32 223.71L146.6 221.36L146.88 219.28L147.16 217.28L147.43 215.36L147.71 213.6L147.99 212.11L148.27 210.97L148.55 210.26L148.83 209.8L149.11 209.39L149.39 209.05L149.66 208.79L149.94 208.63L150.22 208.59L150.5 208.99L150.78 209.86L151.06 211L151.34 212.2L151.62 213.29L151.89 214.35L152.17 215.47L152.45 216.66L152.73 217.88L153.01 219.13L153.29 220.38L153.57 221.63L153.85 222.86L154.13 224.04L154.4 225.18L154.68 226.25L154.96 227.23L155.24 228.15L155.52 229.05L155.8 229.91L156.08 230.75L156.36 231.57L156.63 232.36L156.91 233.13L157.19 233.88L157.47 234.61L157.75 235.33L159.98 240.45L162.21 244.89L164.44 249.16L166.67 253.2L168.9 257.02L171.13 260.62L173.36 263.76L175.59 266.63L177.82 269.27L180.06 271.68L182.29 273.88L184.52 275.88L186.75 277.74L188.98 279.5L191.21 281.22L193.44 282.88L195.67 284.38L197.9 285.65L200.13 286.75L202.36 287.76L204.59 288.69L206.82 289.56L209.05 290.39L211.28 291.21L213.51 292.03L215.74 292.83L217.97 293.63L220.2 294.4L222.43 295.13L224.67 295.82L226.9 296.46L229.13 297.04L231.36 297.57L233.59 298.05L235.82 298.49L238.05 298.91L240.28 299.33L242.51 299.74L244.74 300.16L246.97 300.6L249.2 301.05L251.43 301.5L253.66 301.95L255.89 302.4L258.12 302.86L260.35 303.32L262.58 303.74L264.81 304.15L267.04 304.56L269.28 304.96L271.51 305.34L273.74 305.7L275.97 306.02L278.2 306.31L280.43 306.55L282.66 306.77L284.89 306.97L287.12 307.15L289.35 307.29" stroke="#999" stroke-dasharray="2 1.5"/>
<path d="M141.3 325.9L141.58 317.03L141.86 308.82L142.14 301.37L142.42 294.71L142.69 288.47L142.97 282.89L143.25 278.28L143.53 274.53L143.81 271.15L144.09 268.1L144.37 265.34L144.65 262.84L144.92 260.56L145.2 258.46L145.48 256.48L145.76 254.61L146.04 252.86L146.32 251.23L146.6 249.75L146.88 248.4L147.16 247.2L147.43 246.14L147.71 245.14L147.99 244.22L148.27 243.36L148.55 242.56L148.83 241.82L149.11 241.15L149.39 240.53L149.66 239.96L149.94 239.41L150.22 238.87L150.5 238.35L150.78 237.86L151.06 237.38L151.34 236.94L151.62 236.52L151.89 236.15L152.17 235.81L152.45 235.52L152.73 235.27L153.01 235.08L153.29 234.91L153.57 234.74L153.85 234.58L154.13 234.42L154.4 234.28L154.68 234.14L154.96 234.01L155.24 233.89L155.52 233.78L155.8 233.68L156.08 233.6L156.36 233.53L156.63 233.47L156.91 233.43L157.19 233.41L157.47 233.4L157.75 233.41L159.98 233.55L162.21 233.83L164.44 234.14L166.67 234.56L168.9 235.06L171.13 235.57L173.36 236.06L175.59 236.48L177.82 236.86L180.06 237.22L182.29 237.6L184.52 238L186.75 238.42L188.98 238.84L191.21 239.3L193.44 239.78L195.67 240.31L197.9 241.01L200.13 241.58L202.36 241.94L204.59 242.26L206.82 242.54L209.05 242.79L211.28 243.01L213.51 243.22L215.74 243.42L217.97 243.61L220.2 243.81L222.43 244.01L224.67 244.23L226.9 244.44L229.13 244.63L231.36 244.82L233.59 245.01L235.82 245.2L238.05 245.39L240.28 245.6L242.51 245.82L244.74 246.06L246.97 246.36L249.2 246.71L251.43 247.07L253.66 247.37L255.89 247.58L258.12 247.75L260.35 247.9L262.58 248.03L264.81 248.15L267.04 248.24L269.28 248.32L271.51 248.38L273.74 248.43L275.97 248.48L278.2 248.52L280.43 248.56L282.66 248.59L284.89 248.61L287.12 248.63L289.35 248.63" stroke="#c06682" stroke-width="1.05"/>
</g>
<rect x="29.60" y="150.60" width="14.43" height="4.00" fill="#000"/>
<path d="M44.4 150.6V154.6M45.2 150.6V154.6M45.8 150.6V154.6M46.5 150.6V154.6M47.1 150.6V154.6M47.9 150.6V154.6M48.7 150.6V154.6M49.3 150.6V154.6M50.0 150.6V154.6M51.0 150.6V154.6M51.6 150.6V154.6M52.2 150.6V154.6M53.0 150.6V154.6M53.9 150.6V154.6M54.6 150.6V154.6M55.3 150.6V154.6M55.9 150.6V154.6M56.6 150.6V154.6M57.4 150.6V154.6" stroke="#000" stroke-width="0.6" stroke-opacity="0.75"/>
<path d="M58.8 150.6V154.6M61.9 150.6V154.6M65.1 150.6V154.6M68.2 150.6V154.6M71.3 150.6V154.6M74.4 150.6V154.6M76.2 150.6V154.6M78.1 150.6V154.6M80.6 150.6V154.6M83.7 150.6V154.6M85.6 150.6V154.6M91.6 150.6V154.6M95.9 150.6V154.6M97.5 150.6V154.6M99.5 150.6V154.6M101.4 150.6V154.6M103.6 150.6V154.6M105.2 150.6V154.6M109.0 150.6V154.6M127.3 150.6V154.6M129.0 150.6V154.6M133.6 150.6V154.6M150.1 150.6V154.6M160.8 150.6V154.6M163.8 150.6V154.6M177.4 150.6V154.6" stroke="#000" stroke-width="0.5" stroke-opacity="0.55"/>
<rect x="245.60" y="150.60" width="14.43" height="4.00" fill="#000"/>
<path d="M260.4 150.6V154.6M261.2 150.6V154.6M261.8 150.6V154.6M262.5 150.6V154.6M263.1 150.6V154.6M263.9 150.6V154.6M264.7 150.6V154.6M265.3 150.6V154.6M266.0 150.6V154.6M267.0 150.6V154.6M267.6 150.6V154.6M268.2 150.6V154.6M269.0 150.6V154.6M269.9 150.6V154.6M270.6 150.6V154.6M271.3 150.6V154.6M271.9 150.6V154.6M272.6 150.6V154.6M273.4 150.6V154.6" stroke="#000" stroke-width="0.6" stroke-opacity="0.75"/>
<path d="M274.8 150.6V154.6M277.9 150.6V154.6M281.1 150.6V154.6M284.2 150.6V154.6M287.3 150.6V154.6M290.4 150.6V154.6M292.2 150.6V154.6M294.1 150.6V154.6M296.6 150.6V154.6M299.7 150.6V154.6M301.6 150.6V154.6M307.6 150.6V154.6M311.9 150.6V154.6M313.5 150.6V154.6M315.5 150.6V154.6M317.4 150.6V154.6M319.6 150.6V154.6M321.2 150.6V154.6M325.0 150.6V154.6M343.3 150.6V154.6M345.0 150.6V154.6M349.6 150.6V154.6M366.1 150.6V154.6M376.8 150.6V154.6M379.8 150.6V154.6M393.4 150.6V154.6" stroke="#000" stroke-width="0.5" stroke-opacity="0.55"/>
<rect x="141.30" y="327.10" width="14.48" height="3.90" fill="#000"/>
<path d="M156.2 327.1V331.0M156.9 327.1V331.0M157.6 327.1V331.0M158.2 327.1V331.0M158.9 327.1V331.0M159.7 327.1V331.0M160.4 327.1V331.0M161.1 327.1V331.0M161.8 327.1V331.0M162.8 327.1V331.0M163.4 327.1V331.0M164.0 327.1V331.0M164.8 327.1V331.0M165.6 327.1V331.0M166.3 327.1V331.0M167.1 327.1V331.0M167.7 327.1V331.0M168.4 327.1V331.0M169.2 327.1V331.0" stroke="#000" stroke-width="0.6" stroke-opacity="0.75"/>
<path d="M170.6 327.1V331.0M173.7 327.1V331.0M176.9 327.1V331.0M180.0 327.1V331.0M183.1 327.1V331.0M186.2 327.1V331.0M188.1 327.1V331.0M190.0 327.1V331.0M192.5 327.1V331.0M195.6 327.1V331.0M197.5 327.1V331.0M203.5 327.1V331.0M207.8 327.1V331.0M209.4 327.1V331.0M211.4 327.1V331.0M213.4 327.1V331.0M215.5 327.1V331.0M217.1 327.1V331.0M220.9 327.1V331.0M239.3 327.1V331.0M241.0 327.1V331.0M245.6 327.1V331.0M262.2 327.1V331.0M272.9 327.1V331.0M275.9 327.1V331.0M289.5 327.1V331.0" stroke="#000" stroke-width="0.5" stroke-opacity="0.55"/>
<path d="M21.4 146.60H23.6M237.4 146.60H239.6M21.4 119.96H23.6M237.4 119.96H239.6M21.4 93.32H23.6M237.4 93.32H239.6M21.4 66.68H23.6M237.4 66.68H239.6M21.4 40.04H23.6M237.4 40.04H239.6M21.4 13.40H23.6M237.4 13.40H239.6M133.2 325.90H135.5M141.30 331.1V333.6M133.2 297.70H135.5M174.20 331.1V333.6M133.2 269.50H135.5M207.10 331.1V333.6M133.2 241.30H135.5M240.00 331.1V333.6M133.2 213.10H135.5M272.90 331.1V333.6" stroke="#666" stroke-width="0.6"/>
<g font-family="Liberation Sans, sans-serif" fill="#4a9ccc" font-size="4.9" text-anchor="middle">
<text x="161.8" y="267.1">0-25</text>
<text x="162.4" y="247.8">75-100</text>
<text x="162" y="212.0">50-75</text>
<text x="162" y="216.3">25-50</text>
</g>
<svg x="135.5" y="188.3" width="159.9" height="142.8" overflow="hidden"><g transform="translate(-135.5 -188.3)" font-family="Liberation Sans, sans-serif" fill="#4a9ccc" font-size="4.9" text-anchor="middle">
<text x="289.6" y="195.2">0-25</text>
<text x="289.6" y="223.8">25-50</text>
<text x="289.6" y="272.2">50-75</text>
<text x="289.6" y="309.0">75-100</text>
</g></svg>
<g font-family="Liberation Sans, sans-serif" fill="#000">
<text x="-0.1" y="6.5" font-size="7">A</text>
<text x="209.3" y="6.6" font-size="7">B</text>
<text x="116.2" y="187.4" font-size="8.6">C</text>
<text transform="translate(17.3 146.6) rotate(-90)" text-anchor="middle" font-size="4.5">0.0</text>
<text transform="translate(17.3 120.0) rotate(-90)" text-anchor="middle" font-size="4.5">0.2</text>
<text transform="translate(17.3 93.3) rotate(-90)" text-anchor="middle" font-size="4.5">0.4</text>
<text transform="translate(17.3 66.7) rotate(-90)" text-anchor="middle" font-size="4.5">0.6</text>
<text transform="translate(17.3 40.0) rotate(-90)" text-anchor="middle" font-size="4.5">0.8</text>
<text transform="translate(17.3 13.4) rotate(-90)" text-anchor="middle" font-size="4.5">1.0</text>
<text transform="translate(233.3 146.6) rotate(-90)" text-anchor="middle" font-size="4.5">0.0</text>
<text transform="translate(233.3 120.0) rotate(-90)" text-anchor="middle" font-size="4.5">0.2</text>
<text transform="translate(233.3 93.3) rotate(-90)" text-anchor="middle" font-size="4.5">0.4</text>
<text transform="translate(233.3 66.7) rotate(-90)" text-anchor="middle" font-size="4.5">0.6</text>
<text transform="translate(233.3 40.0) rotate(-90)" text-anchor="middle" font-size="4.5">0.8</text>
<text transform="translate(233.3 13.4) rotate(-90)" text-anchor="middle" font-size="4.5">1.0</text>
<text transform="translate(7.6 79.4) rotate(-90)" text-anchor="middle" font-size="4.4">OOB Survival</text>
<text transform="translate(221.9 79.1) rotate(-90)" text-anchor="middle" font-size="4.4">Survival</text>
<text transform="translate(117.7 260) rotate(-90)" text-anchor="middle" font-size="4.6">OOB CRPS</text>
<text x="29.6" y="161" text-anchor="middle" font-size="4.5">0</text>
<text x="62.4" y="161" text-anchor="middle" font-size="4.5">1000</text>
<text x="95.2" y="161" text-anchor="middle" font-size="4.5">2000</text>
<text x="128.0" y="161" text-anchor="middle" font-size="4.5">3000</text>
<text x="160.8" y="161" text-anchor="middle" font-size="4.5">4000</text>
<text x="245.6" y="161" text-anchor="middle" font-size="4.5">0</text>
<text x="278.4" y="161" text-anchor="middle" font-size="4.5">1000</text>
<text x="311.2" y="161" text-anchor="middle" font-size="4.5">2000</text>
<text x="344.0" y="161" text-anchor="middle" font-size="4.5">3000</text>
<text x="376.8" y="161" text-anchor="middle" font-size="4.5">4000</text>
<text x="141.3" y="342" text-anchor="middle" font-size="4.5">0</text>
<text x="174.2" y="342" text-anchor="middle" font-size="4.5">1000</text>
<text x="207.1" y="342" text-anchor="middle" font-size="4.5">2000</text>
<text x="240.0" y="342" text-anchor="middle" font-size="4.5">3000</text>
<text x="272.9" y="342" text-anchor="middle" font-size="4.5">4000</text>
<text x="103.4" y="172" text-anchor="middle" font-size="4.5">Time</text>
<text x="319.4" y="172" text-anchor="middle" font-size="4.5">Time</text>
<text x="215.4" y="353.2" text-anchor="middle" font-size="4.5">Time</text>
<text transform="translate(129.3 325.9) rotate(-90)" text-anchor="middle" font-size="4.5">0.00</text>
<text transform="translate(129.3 297.7) rotate(-90)" text-anchor="middle" font-size="4.5">0.05</text>
<text transform="translate(129.3 269.5) rotate(-90)" text-anchor="middle" font-size="4.5">0.10</text>
<text transform="translate(129.3 241.3) rotate(-90)" text-anchor="middle" font-size="4.5">0.15</text>
<text transform="translate(129.3 213.1) rotate(-90)" text-anchor="middle" font-size="4.5">0.20</text>
</g>
<g fill="none" stroke="#808080" stroke-width="0.7">
<rect x="23.6" y="8.05" width="159.7" height="142.15"/>
<rect x="239.6" y="8.05" width="159.7" height="141.95"/>
<rect x="135.5" y="188.3" width="159.9" height="142.8"/>
</g>
</svg>
</body></html>
